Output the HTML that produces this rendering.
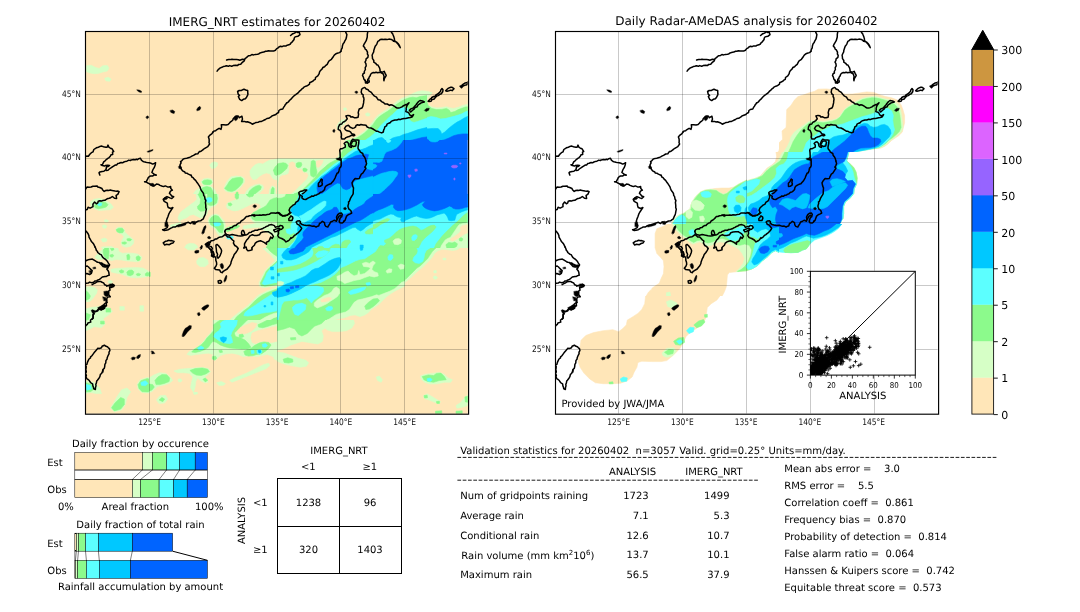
<!DOCTYPE html>
<html lang="en"><head><meta charset="utf-8"><title>IMERG_NRT validation 20260402</title>
<style>html,body{margin:0;padding:0;background:#fff;}body{width:1080px;height:612px;overflow:hidden;}svg{display:block;}text{white-space:pre;}</style>
</head><body>
<svg width="1080" height="612" viewBox="0 0 1080 612" font-family='"DejaVu Sans", "Liberation Sans", sans-serif' fill="#000" text-rendering="geometricPrecision">
<rect x="0.00" y="0.00" width="1080.00" height="612.00" fill="#fff" stroke="none" stroke-width="1"/>
<clipPath id="clipL"><rect x="85.5" y="31.5" width="382.20" height="382.00"/></clipPath>
<g clip-path="url(#clipL)">
<rect x="85.50" y="31.50" width="383.10" height="382.70" fill="#ffe6b8" stroke="none" stroke-width="1"/>
<clipPath id="tc1"><rect x="85.00" y="31.00" width="192.00" height="109.00"/></clipPath>
<g clip-path="url(#tc1)">
<rect x="84.50" y="30.50" width="193.00" height="110.00" fill="#ffe6b8" stroke="none" stroke-width="1"/>
<polygon points="86.4,65.7 91.2,65.2 95.7,67.5 99.2,68.4 102.8,65.7 107.3,65.4 109.0,68.0 107.3,71.1 102.8,72.0 98.4,73.4 93.9,73.7 89.5,72.9 86.4,71.6" fill="#d6ffc6" stroke="#d6ffc6" stroke-width="0.6" stroke-linejoin="round"/>
<polygon points="104.6,78.2 108.2,77.3 111.2,79.1 109.9,81.2 106.0,80.9" fill="#d6ffc6" stroke="#d6ffc6" stroke-width="0.6" stroke-linejoin="round"/>
</g>
<clipPath id="tc2"><rect x="277.00" y="31.00" width="192.00" height="109.00"/></clipPath>
<g clip-path="url(#tc2)">
<rect x="276.50" y="30.50" width="193.00" height="110.00" fill="#ffe6b8" stroke="none" stroke-width="1"/>
<polygon points="469.0,100.8 462.2,101.9 456.9,104.0 452.4,106.7 448.0,107.2 442.6,106.7 437.3,104.9 433.7,101.4 431.1,97.8 428.4,93.3 424.8,91.2 419.5,90.7 414.1,91.2 408.8,93.7 404.3,96.5 399.9,99.6 395.4,102.2 391.9,105.8 387.4,109.4 383.0,112.6 378.5,115.6 375.0,119.2 372.3,122.7 369.6,126.3 366.1,129.8 362.5,132.9 358.0,135.7 353.6,137.9 348.2,140.0 469.0,140.0" fill="#d6ffc6" stroke="#d6ffc6" stroke-width="0.6" stroke-linejoin="round"/>
<polygon points="343.3,107.6 346.5,107.2 347.5,109.4 345.4,110.6 342.9,109.7" fill="#d6ffc6" stroke="#d6ffc6" stroke-width="0.6" stroke-linejoin="round"/>
<polygon points="365.5,113.3 368.7,112.6 370.7,114.4 369.3,116.1 366.1,115.8" fill="#d6ffc6" stroke="#d6ffc6" stroke-width="0.6" stroke-linejoin="round"/>
<polygon points="337.9,123.6 340.8,122.7 342.2,125.0 340.4,127.2 337.9,126.3" fill="#d6ffc6" stroke="#d6ffc6" stroke-width="0.6" stroke-linejoin="round"/>
<polygon points="469.0,106.7 464.0,107.9 458.7,110.3 453.3,112.0 448.0,112.0 442.6,111.5 437.3,110.3 432.8,107.6 429.3,103.7 426.6,99.6 423.0,97.3 418.6,96.5 413.2,96.9 408.8,98.7 404.3,100.8 400.8,103.1 397.2,105.4 393.7,108.5 389.2,111.5 385.6,114.4 381.2,117.4 377.6,120.1 374.6,123.6 372.3,127.2 368.7,130.7 365.2,133.9 360.7,137.0 357.1,139.3 355.4,140.0 469.0,140.0" fill="#8cfa8c" stroke="#8cfa8c" stroke-width="0.6" stroke-linejoin="round"/>
<polygon points="469.0,116.1 464.0,117.4 458.7,118.3 453.3,119.2 448.0,119.2 442.6,118.6 437.3,118.3 432.0,118.6 426.6,120.1 422.2,121.8 417.7,123.6 413.2,124.5 409.7,121.8 407.9,118.3 407.0,113.8 406.1,109.4 401.7,108.5 398.1,109.4 394.5,111.1 391.0,113.8 386.5,116.5 383.0,119.2 379.4,121.8 376.7,125.4 374.1,129.0 370.5,132.5 366.9,136.1 362.5,138.8 360.7,140.0 469.0,140.0" fill="#5cffff" stroke="#5cffff" stroke-width="0.6" stroke-linejoin="round"/>
<polygon points="469.0,126.3 464.0,127.2 458.7,128.1 453.3,129.8 448.9,133.4 445.3,134.3 440.9,130.7 436.4,128.6 430.2,128.1 424.8,128.6 419.5,129.3 414.1,130.7 408.8,132.5 404.3,134.3 399.9,137.0 391.0,136.1 383.9,137.0 378.5,138.8 376.7,140.0 469.0,140.0" fill="#00c8ff" stroke="#00c8ff" stroke-width="0.6" stroke-linejoin="round"/>
<polygon points="469.0,133.4 464.0,134.3 458.7,136.1 454.2,137.9 450.7,140.0 469.0,140.0" fill="#0064ff" stroke="#0064ff" stroke-width="0.6" stroke-linejoin="round"/>
<polygon points="417.7,140.0 420.4,138.2 424.8,137.5 429.3,138.6 431.1,140.0" fill="#0064ff" stroke="#0064ff" stroke-width="0.6" stroke-linejoin="round"/>
</g>
<clipPath id="tc3"><rect x="277.00" y="140.00" width="96.00" height="54.00"/></clipPath>
<g clip-path="url(#tc3)">
<rect x="276.50" y="139.50" width="97.00" height="55.00" fill="#ffe6b8" stroke="none" stroke-width="1"/>
<polygon points="345.4,140.0 344.6,143.6 343.2,147.1 341.0,149.8 339.2,153.3 338.3,157.3 335.7,158.5 326.8,158.8 277.0,158.8 277.0,194.0 373.0,194.0 373.0,140.0" fill="#d6ffc6" stroke="#d6ffc6" stroke-width="0.6" stroke-linejoin="round"/>
<polygon points="279.7,177.3 282.3,175.6 285.9,175.1 288.6,173.8 289.4,170.2 289.0,166.7 289.4,163.1 292.1,161.8 294.8,163.1 295.2,166.7 297.4,168.9 301.9,169.8 303.2,172.4 306.8,173.1 308.1,175.6 306.3,179.1 303.7,181.8 301.0,184.4 298.3,187.1 295.7,189.8 293.0,192.0 290.3,194.0 278.8,194.0 278.3,184.4" fill="#ffe6b8" stroke="#ffe6b8" stroke-width="0.6" stroke-linejoin="round"/>
<polygon points="316.6,160.9 319.7,160.3 323.2,160.0 322.3,163.1 320.6,165.8 318.3,167.6 316.6,166.7 316.1,163.6" fill="#ffe6b8" stroke="#ffe6b8" stroke-width="0.6" stroke-linejoin="round"/>
<polygon points="277.0,164.0 279.7,163.3 283.2,162.7 285.9,163.3 287.8,165.3 286.8,168.4 284.1,171.1 281.4,173.3 278.8,174.7 277.0,174.8" fill="#8cfa8c" stroke="#8cfa8c" stroke-width="0.6" stroke-linejoin="round"/>
<polygon points="296.4,163.3 298.8,162.2 301.4,162.7 301.9,164.9 300.6,167.1 297.9,167.7 296.1,166.2" fill="#8cfa8c" stroke="#8cfa8c" stroke-width="0.6" stroke-linejoin="round"/>
<polygon points="303.0,168.6 305.0,168.0 307.2,169.3 306.8,171.1 304.6,171.8 303.0,170.7" fill="#8cfa8c" stroke="#8cfa8c" stroke-width="0.6" stroke-linejoin="round"/>
<polygon points="311.2,161.3 313.4,160.3 315.2,161.3 315.7,164.9 316.1,168.4 317.0,172.0 316.1,175.6 313.4,177.3 310.8,175.6 310.3,171.1 310.8,166.7" fill="#8cfa8c" stroke="#8cfa8c" stroke-width="0.6" stroke-linejoin="round"/>
<polygon points="347.2,140.0 346.3,143.6 345.4,147.1 343.2,149.8 341.4,153.3 340.1,156.9 337.4,159.1 333.9,160.9 330.3,162.7 327.2,164.9 325.0,167.1 322.3,169.3 319.7,171.6 317.4,174.2 315.2,177.3 312.6,180.0 309.9,182.7 307.2,185.3 304.6,188.0 301.9,190.2 299.2,192.0 295.7,193.3 293.9,194.0 373.0,194.0 373.0,140.0" fill="#8cfa8c" stroke="#8cfa8c" stroke-width="0.6" stroke-linejoin="round"/>
<polygon points="359.2,140.0 358.3,143.6 357.0,147.1 354.3,148.9 351.7,150.7 349.0,152.4 346.3,154.7 344.1,156.9 341.9,159.1 339.2,160.9 336.6,162.7 333.9,164.4 331.2,166.7 328.6,168.9 325.9,171.1 323.2,173.3 320.6,175.6 317.9,178.2 315.2,180.4 312.6,183.1 309.9,185.3 307.2,187.6 304.6,189.8 301.9,191.6 299.2,193.3 297.9,194.0 373.0,194.0 373.0,140.0" fill="#5cffff" stroke="#5cffff" stroke-width="0.6" stroke-linejoin="round"/>
<polygon points="373.0,144.9 369.4,146.2 365.9,148.0 362.3,149.3 358.8,150.2 355.2,151.6 352.6,153.3 349.9,155.1 347.2,156.9 344.6,158.7 342.3,160.9 339.2,163.1 336.6,165.3 333.9,167.1 331.2,169.3 328.6,171.6 325.9,173.8 323.2,175.6 320.6,177.3 317.9,180.0 315.2,182.2 313.0,184.4 310.8,186.7 309.0,188.9 307.2,191.1 305.4,193.3 305.0,194.0 373.0,194.0" fill="#00c8ff" stroke="#00c8ff" stroke-width="0.6" stroke-linejoin="round"/>
<polygon points="368.6,154.7 365.9,154.2 362.3,154.7 358.8,155.1 355.2,156.0 352.6,157.3 349.9,158.2 347.2,159.1 344.6,160.9 341.9,162.7 339.2,164.9 336.6,167.1 333.9,169.3 331.2,171.1 328.6,173.3 325.9,175.1 323.2,177.3 321.0,179.6 318.8,182.2 317.4,184.9 317.0,188.0 317.4,190.7 318.3,194.0 321.4,194.0 324.1,192.0 326.8,190.2 329.4,188.0 332.1,186.2 334.8,184.4 337.4,183.1 340.1,183.6 341.4,186.2 342.8,188.4 346.3,189.8 349.9,188.4 352.6,185.3 353.6,181.8 357.0,179.6 361.4,178.4 365.9,177.3 373.0,175.6 373.0,170.7 370.3,170.2 366.8,169.3 365.0,167.6 365.9,164.9 366.8,161.3 367.7,157.8" fill="#0064ff" stroke="#0064ff" stroke-width="0.6" stroke-linejoin="round"/>
</g>
<clipPath id="tc4"><rect x="373.00" y="140.00" width="96.00" height="54.00"/></clipPath>
<g clip-path="url(#tc4)">
<rect x="372.50" y="139.50" width="97.00" height="55.00" fill="#0064ff" stroke="none" stroke-width="1"/>
<polygon points="373.0,140.0 402.8,140.0 401.4,142.7 399.2,145.3 397.0,147.6 394.3,148.9 391.7,150.2 389.0,151.1 386.3,152.0 384.6,154.2 383.7,156.9 382.8,159.1 381.9,161.3 379.2,162.4 376.6,162.2 373.0,162.2" fill="#00c8ff" stroke="#00c8ff" stroke-width="0.6" stroke-linejoin="round"/>
<polygon points="373.0,164.0 375.7,164.4 377.0,165.8 375.7,167.6 373.0,168.9" fill="#00c8ff" stroke="#00c8ff" stroke-width="0.6" stroke-linejoin="round"/>
<polygon points="386.3,140.0 390.8,140.0 390.3,141.8 388.1,142.7 386.8,141.8" fill="#5cffff" stroke="#5cffff" stroke-width="0.6" stroke-linejoin="round"/>
<polygon points="373.0,177.3 375.7,176.0 378.3,174.7 381.9,173.3 385.4,172.4 389.0,171.6 392.6,171.1 396.1,171.6 397.9,172.9 397.0,175.6 395.2,177.8 393.4,180.4 391.7,182.7 389.4,184.9 387.2,187.1 385.0,189.3 382.8,191.1 380.6,192.9 378.3,194.0 373.0,194.0" fill="#00c8ff" stroke="#00c8ff" stroke-width="0.6" stroke-linejoin="round"/>
<polygon points="429.0,140.0 439.2,140.0 437.9,141.3 435.2,142.0 431.7,141.8 429.9,140.9" fill="#00c8ff" stroke="#00c8ff" stroke-width="0.6" stroke-linejoin="round"/>
<polygon points="444.1,153.2 446.8,153.0 447.0,153.9 444.3,154.0" fill="#9664ff" stroke="#9664ff" stroke-width="0.6" stroke-linejoin="round"/>
<polygon points="451.2,166.2 453.0,165.3 456.1,165.2 457.9,166.2 456.6,167.7 453.9,168.1 451.9,167.4" fill="#9664ff" stroke="#9664ff" stroke-width="0.6" stroke-linejoin="round"/>
<polygon points="459.7,162.9 461.0,162.9 461.0,164.0 459.7,164.0" fill="#9664ff" stroke="#9664ff" stroke-width="0.6" stroke-linejoin="round"/>
<polygon points="414.8,169.2 417.1,169.0 417.3,171.1 415.0,171.3" fill="#9664ff" stroke="#9664ff" stroke-width="0.6" stroke-linejoin="round"/>
<polygon points="407.9,175.1 411.0,174.9 410.8,176.6 409.4,177.9 408.4,176.9" fill="#9664ff" stroke="#9664ff" stroke-width="0.6" stroke-linejoin="round"/>
<polygon points="453.9,178.0 455.0,178.0 455.0,180.0 453.9,180.0" fill="#9664ff" stroke="#9664ff" stroke-width="0.6" stroke-linejoin="round"/>
</g>
<clipPath id="tc5"><rect x="277.00" y="194.00" width="96.00" height="54.00"/></clipPath>
<g clip-path="url(#tc5)">
<rect x="276.50" y="193.50" width="97.00" height="55.00" fill="#5cffff" stroke="none" stroke-width="1"/>
<polygon points="277.0,194.0 298.3,194.0 297.4,198.4 294.8,202.9 292.6,206.4 291.2,209.1 290.3,211.8 291.0,214.4 291.7,217.1 292.1,219.8 291.7,222.4 290.3,225.1 290.3,228.7 292.6,231.3 294.8,234.0 295.7,237.6 293.9,241.1 291.2,243.8 288.6,246.4 286.8,248.0 277.0,248.0" fill="#8cfa8c" stroke="#8cfa8c" stroke-width="0.6" stroke-linejoin="round"/>
<polygon points="277.0,194.0 285.4,194.0 284.6,196.2 281.4,197.6 277.0,197.7" fill="#d6ffc6" stroke="#d6ffc6" stroke-width="0.6" stroke-linejoin="round"/>
<polygon points="285.9,229.6 289.4,228.7 293.0,230.4 293.4,233.1 290.3,234.4 286.8,233.1" fill="#5cffff" stroke="#5cffff" stroke-width="0.6" stroke-linejoin="round"/>
<polygon points="300.1,194.0 298.8,197.6 297.0,201.1 294.3,204.7 292.1,207.3 290.3,210.4 291.7,213.1 294.8,215.3 298.3,216.2 301.0,218.9 300.1,222.4 298.3,226.0 297.4,229.6 298.3,233.1 297.4,236.7 295.7,240.2 293.4,243.8 291.2,246.4 290.3,248.0 310.8,248.0 312.6,246.9 315.2,245.6 317.9,244.2 320.6,242.9 323.2,241.6 325.9,240.2 328.6,238.9 331.2,237.6 333.9,236.7 336.6,235.8 339.2,234.4 341.9,233.1 344.6,231.8 347.2,230.4 349.9,229.1 352.6,227.8 355.2,227.3 357.9,229.6 360.6,230.9 363.2,229.6 365.9,226.9 369.4,224.7 373.0,222.9 373.0,194.0" fill="#00c8ff" stroke="#00c8ff" stroke-width="0.6" stroke-linejoin="round"/>
<polygon points="326.1,201.6 324.1,201.1 321.4,202.4 317.9,204.7 314.3,207.2 310.8,209.8 307.2,211.8 304.6,213.6 301.9,215.3 299.2,216.2 301.0,218.9 300.1,222.4 303.7,222.9 307.2,220.7 310.8,219.3 312.6,216.7 315.2,214.3 317.9,212.2 320.6,210.4 323.2,208.2 325.7,205.6" fill="#5cffff" stroke="#5cffff" stroke-width="0.6" stroke-linejoin="round"/>
<polygon points="373.0,196.2 369.4,198.4 365.9,201.1 364.1,203.8 361.4,205.6 357.9,207.3 354.3,209.6 351.7,211.8 349.0,213.1 346.3,214.0 342.8,214.4 339.2,213.1 338.3,210.0 336.6,207.3 333.9,207.3 332.1,209.6 329.4,210.4 326.8,211.3 324.1,213.1 321.4,215.3 318.8,217.1 316.1,219.3 313.4,221.6 310.8,224.2 308.1,226.9 305.4,229.6 303.2,232.2 302.8,234.9 303.7,237.6 301.9,240.2 299.2,242.9 296.6,245.6 294.8,248.0 304.6,248.0 306.3,246.9 309.0,245.6 311.7,244.2 314.3,242.9 317.0,241.6 319.7,240.2 322.3,238.9 325.0,237.6 327.7,236.2 330.3,234.9 333.0,233.6 335.7,232.2 338.3,230.9 341.0,229.6 343.7,228.2 346.3,226.9 349.0,225.6 351.7,224.2 354.3,222.9 357.0,221.6 359.7,220.7 362.3,219.3 365.0,217.6 367.7,215.8 370.3,214.0 373.0,212.7" fill="#0064ff" stroke="#0064ff" stroke-width="0.6" stroke-linejoin="round"/>
<polygon points="365.0,232.2 367.7,230.0 371.2,228.2 373.0,227.8 373.0,233.6 369.4,234.0 365.9,233.8" fill="#8cfa8c" stroke="#8cfa8c" stroke-width="0.6" stroke-linejoin="round"/>
<polygon points="342.3,242.0 345.4,240.2 349.4,240.0 350.8,242.0 348.1,244.7 346.3,248.0 341.0,248.0 341.4,244.7" fill="#8cfa8c" stroke="#8cfa8c" stroke-width="0.6" stroke-linejoin="round"/>
<polygon points="329.4,248.0 332.1,245.6 335.7,244.2 339.2,244.7 340.6,248.0" fill="#8cfa8c" stroke="#8cfa8c" stroke-width="0.6" stroke-linejoin="round"/>
<polygon points="317.0,248.0 318.8,246.6 322.3,246.4 324.1,248.0" fill="#8cfa8c" stroke="#8cfa8c" stroke-width="0.6" stroke-linejoin="round"/>
<polygon points="360.1,245.1 363.2,245.1 363.2,248.0 360.1,248.0" fill="#00c8ff" stroke="#00c8ff" stroke-width="0.6" stroke-linejoin="round"/>
</g>
<clipPath id="tc6"><rect x="373.00" y="194.00" width="96.00" height="54.00"/></clipPath>
<g clip-path="url(#tc6)">
<rect x="372.50" y="193.50" width="97.00" height="55.00" fill="#5cffff" stroke="none" stroke-width="1"/>
<polygon points="373.0,229.1 373.0,225.1 376.6,223.3 380.1,221.6 383.7,219.8 387.2,218.4 389.9,219.3 388.1,221.1 384.6,222.4 381.0,224.2 377.4,226.9 374.8,228.7" fill="#8cfa8c" stroke="#8cfa8c" stroke-width="0.6" stroke-linejoin="round"/>
<polygon points="384.6,240.2 389.0,238.4 392.6,235.8 396.1,232.2 399.7,229.6 404.1,227.8 408.6,226.7 413.0,226.0 416.6,226.9 419.2,228.7 421.0,230.4 423.7,229.6 427.2,227.3 430.8,225.6 434.3,225.1 436.1,226.9 434.3,229.6 431.7,232.2 429.0,234.4 426.3,236.7 423.7,239.3 421.4,242.0 420.1,244.7 418.3,248.0 378.3,248.0 380.1,245.6 383.7,246.0 386.3,243.8 384.6,242.0" fill="#8cfa8c" stroke="#8cfa8c" stroke-width="0.6" stroke-linejoin="round"/>
<polygon points="411.7,237.6 413.0,235.3 415.7,234.4 417.4,235.8 416.6,238.4 414.3,240.7 412.1,240.2" fill="#5cffff" stroke="#5cffff" stroke-width="0.6" stroke-linejoin="round"/>
<polygon points="393.0,241.1 395.2,238.9 398.8,238.4 401.4,240.2 401.0,243.3 397.9,244.7 394.3,244.2" fill="#d6ffc6" stroke="#d6ffc6" stroke-width="0.6" stroke-linejoin="round"/>
<polygon points="469.0,211.8 465.4,214.0 462.8,216.2 460.1,218.9 457.4,221.6 454.8,223.8 452.1,226.0 449.4,228.7 446.8,231.3 444.1,234.0 441.4,237.1 438.8,240.2 436.1,243.8 434.3,248.0 469.0,248.0" fill="#8cfa8c" stroke="#8cfa8c" stroke-width="0.6" stroke-linejoin="round"/>
<polygon points="469.0,222.4 465.4,223.3 461.9,223.8 459.2,224.7 457.4,226.9 455.7,229.6 453.9,232.2 452.1,234.9 450.3,237.6 447.7,238.4 445.0,240.2 443.2,242.9 441.4,245.6 440.6,248.0 469.0,248.0" fill="#d6ffc6" stroke="#d6ffc6" stroke-width="0.6" stroke-linejoin="round"/>
<polygon points="469.0,224.2 465.4,225.1 461.9,226.0 460.1,227.8 461.0,230.4 459.2,233.1 456.6,234.9 453.9,236.7 451.2,238.4 450.3,240.2 453.0,241.1 456.6,239.3 459.2,237.6 461.9,235.8 464.6,234.0 467.2,233.1 469.0,233.1" fill="#ffe6b8" stroke="#ffe6b8" stroke-width="0.6" stroke-linejoin="round"/>
<polygon points="445.9,244.7 448.6,242.4 452.1,242.9 454.8,242.0 457.4,243.8 456.6,246.4 453.9,248.0 446.8,248.0" fill="#8cfa8c" stroke="#8cfa8c" stroke-width="0.6" stroke-linejoin="round"/>
<polygon points="459.0,238.9 461.0,237.6 463.0,238.9 461.9,241.1 459.7,240.9" fill="#8cfa8c" stroke="#8cfa8c" stroke-width="0.6" stroke-linejoin="round"/>
<polygon points="373.0,221.1 376.6,219.8 380.1,218.9 382.8,217.6 385.4,216.2 388.1,214.9 390.8,214.0 393.4,214.4 395.2,215.8 397.9,217.1 401.4,217.6 400.6,219.8 401.4,221.6 404.1,222.0 405.4,220.2 408.6,218.9 411.2,217.8 413.9,216.7 416.6,216.0 419.2,217.1 422.8,218.0 426.3,218.4 429.9,218.0 433.4,216.7 437.0,214.9 440.6,214.0 444.1,213.1 446.3,214.9 447.7,217.6 448.6,220.2 451.2,220.7 454.8,220.2 455.7,217.1 456.6,214.4 459.2,213.1 461.9,211.8 465.4,210.4 469.0,209.6 469.0,194.0 373.0,194.0" fill="#00c8ff" stroke="#00c8ff" stroke-width="0.6" stroke-linejoin="round"/>
<polygon points="373.0,213.1 375.7,211.3 378.3,210.0 381.9,208.7 385.4,207.3 389.0,205.6 391.7,204.2 393.9,204.7 393.4,207.3 395.2,209.6 397.9,210.7 401.4,210.4 404.1,210.0 407.7,209.1 411.2,207.8 414.8,206.0 417.4,204.7 420.1,202.9 422.8,201.6 425.4,201.1 423.7,202.9 422.3,204.7 423.7,206.9 426.3,208.7 429.9,210.0 434.3,210.9 437.9,210.4 441.4,209.6 445.0,208.2 447.7,206.9 449.4,206.0 451.7,206.9 453.0,208.2 455.7,209.1 459.2,209.1 462.8,208.2 465.4,207.3 469.0,206.9 469.0,194.0 373.0,194.0" fill="#0064ff" stroke="#0064ff" stroke-width="0.6" stroke-linejoin="round"/>
</g>
<clipPath id="tc7"><rect x="277.00" y="248.00" width="128.00" height="72.00"/></clipPath>
<g clip-path="url(#tc7)">
<rect x="276.50" y="247.50" width="129.00" height="73.00" fill="#8cfa8c" stroke="none" stroke-width="1"/>
<polygon points="277.0,248.0 377.7,248.0 375.4,251.6 371.8,253.9 368.3,256.3 364.7,258.7 360.0,259.3 355.2,261.0 350.5,263.4 345.7,265.8 341.0,267.6 338.6,270.5 335.1,274.1 330.3,277.6 325.6,280.0 320.9,282.4 316.1,283.6 311.4,284.7 306.6,287.1 301.9,289.5 297.1,291.9 292.4,294.2 287.7,296.0 282.9,297.2 277.0,298.4" fill="#5cffff" stroke="#5cffff" stroke-width="0.6" stroke-linejoin="round"/>
<polygon points="312.6,248.0 330.3,248.0 329.1,251.6 325.6,255.1 320.9,258.1 316.1,261.0 311.4,263.4 306.6,265.8 300.7,268.1 294.8,269.9 288.9,271.1 282.9,271.7 277.0,272.3 277.0,269.3 282.9,268.1 288.9,267.0 294.8,265.8 300.7,264.0 305.4,261.6 309.0,259.3 312.6,256.3 313.7,252.7" fill="#8cfa8c" stroke="#8cfa8c" stroke-width="0.6" stroke-linejoin="round"/>
<polygon points="315.5,254.5 318.5,251.6 324.4,250.4 328.6,251.6 326.8,254.5 322.0,256.9 317.3,257.5" fill="#5cffff" stroke="#5cffff" stroke-width="0.6" stroke-linejoin="round"/>
<polygon points="277.0,281.8 280.6,281.2 283.9,282.4 282.9,284.7 279.4,285.9 277.0,285.9" fill="#d6ffc6" stroke="#d6ffc6" stroke-width="0.6" stroke-linejoin="round"/>
<polygon points="281.7,255.1 284.1,251.6 287.7,248.0 311.4,248.0 309.0,251.6 305.4,253.9 300.7,256.3 296.0,258.7 291.2,259.9 286.5,259.9 282.9,258.1" fill="#00c8ff" stroke="#00c8ff" stroke-width="0.6" stroke-linejoin="round"/>
<polygon points="288.9,251.6 291.2,249.2 294.8,248.0 305.4,248.0 303.1,251.0 298.3,252.7 293.6,253.9 290.0,253.7" fill="#0064ff" stroke="#0064ff" stroke-width="0.6" stroke-linejoin="round"/>
<polygon points="280.6,261.3 282.9,261.3 282.9,264.0 280.6,264.0" fill="#00c8ff" stroke="#00c8ff" stroke-width="0.6" stroke-linejoin="round"/>
<polygon points="277.6,273.5 279.4,273.5 279.4,275.9 277.6,275.9" fill="#00c8ff" stroke="#00c8ff" stroke-width="0.6" stroke-linejoin="round"/>
<polygon points="277.0,288.9 281.7,286.5 286.5,284.1 291.2,282.4 296.0,280.0 300.7,278.2 305.4,275.9 309.0,272.9 311.4,270.5 314.9,268.7 318.5,268.1 322.0,265.8 325.6,263.4 329.1,261.0 332.7,259.3 336.3,258.1 339.8,257.5 341.0,259.9 340.4,263.4 338.6,267.0 336.3,269.9 332.7,272.9 329.1,275.3 324.4,277.6 319.7,279.4 314.9,281.8 310.2,283.6 305.4,285.9 300.7,288.9 296.0,291.3 291.2,293.6 286.5,295.4 281.7,296.8 277.0,297.5" fill="#00c8ff" stroke="#00c8ff" stroke-width="0.6" stroke-linejoin="round"/>
<polygon points="285.9,289.5 288.9,288.9 290.0,290.7 288.3,292.1 286.2,291.6" fill="#0064ff" stroke="#0064ff" stroke-width="0.6" stroke-linejoin="round"/>
<polygon points="290.0,286.9 293.4,286.5 293.6,288.5 290.6,289.0" fill="#0064ff" stroke="#0064ff" stroke-width="0.6" stroke-linejoin="round"/>
<polygon points="295.4,285.9 298.9,285.7 298.9,287.6 295.6,287.8" fill="#0064ff" stroke="#0064ff" stroke-width="0.6" stroke-linejoin="round"/>
<polygon points="360.0,248.0 362.9,248.0 362.6,250.1 360.6,250.4" fill="#00c8ff" stroke="#00c8ff" stroke-width="0.6" stroke-linejoin="round"/>
<polygon points="387.8,256.9 389.6,254.5 392.6,254.9 393.1,258.1 390.8,260.4 388.4,259.9" fill="#5cffff" stroke="#5cffff" stroke-width="0.6" stroke-linejoin="round"/>
<polygon points="336.9,276.4 341.0,274.7 344.6,272.3 348.1,271.1 350.5,273.5 354.0,275.9 357.6,274.7 358.8,270.5 360.0,274.7 364.7,273.5 368.3,270.5 370.6,268.1 368.3,267.0 363.5,266.4 362.3,263.4 365.9,262.2 369.4,263.4 373.0,261.0 375.4,262.8 373.0,265.8 371.8,269.3 374.2,271.7 377.7,272.9 378.3,275.9 374.2,277.0 369.4,275.9 364.7,277.6 360.0,279.4 354.0,280.6 348.1,282.4 344.6,283.6 341.6,281.2 337.4,280.0" fill="#d6ffc6" stroke="#d6ffc6" stroke-width="0.6" stroke-linejoin="round"/>
<polygon points="386.0,271.1 389.0,268.7 392.0,269.3 391.4,272.3 387.2,273.1" fill="#d6ffc6" stroke="#d6ffc6" stroke-width="0.6" stroke-linejoin="round"/>
<polygon points="397.9,265.8 400.9,264.0 404.4,265.2 403.8,268.7 400.3,269.3" fill="#d6ffc6" stroke="#d6ffc6" stroke-width="0.6" stroke-linejoin="round"/>
<polygon points="314.3,303.1 317.3,300.1 320.9,297.8 324.4,295.4 328.0,294.2 331.5,291.9 333.9,288.3 336.3,287.1 339.2,288.9 339.8,293.0 337.4,296.6 333.9,299.0 330.3,301.3 326.8,303.7 322.0,306.1 317.3,307.9 314.3,306.1" fill="#d6ffc6" stroke="#d6ffc6" stroke-width="0.6" stroke-linejoin="round"/>
<polygon points="320.9,300.1 324.4,298.4 329.1,297.2 331.5,298.4 329.1,300.7 324.4,301.9 321.4,301.9" fill="#ffe6b8" stroke="#ffe6b8" stroke-width="0.6" stroke-linejoin="round"/>
<polygon points="405.0,281.2 401.4,282.4 397.9,285.9 394.3,288.9 389.6,291.3 383.7,293.6 378.9,295.4 376.6,294.8 371.8,296.6 367.1,297.8 362.3,299.0 357.6,300.1 354.0,302.5 351.7,306.1 349.3,309.6 345.7,312.0 341.0,313.2 336.3,314.4 332.7,316.7 329.1,319.1 326.8,320.1 405.0,320.1" fill="#d6ffc6" stroke="#d6ffc6" stroke-width="0.6" stroke-linejoin="round"/>
<polygon points="405.0,286.5 400.3,288.9 395.5,291.3 390.8,294.2 386.0,297.8 382.5,301.3 378.9,304.9 375.4,307.3 371.8,309.6 368.3,313.2 364.7,315.6 360.0,317.3 355.2,315.6 350.5,316.1 345.7,317.9 341.0,319.1 336.3,320.1 405.0,320.1" fill="#ffe6b8" stroke="#ffe6b8" stroke-width="0.6" stroke-linejoin="round"/>
<polygon points="364.7,306.1 368.3,302.5 373.0,299.0 377.7,298.4 379.5,300.7 376.6,303.7 373.0,306.7 369.4,309.0 365.9,309.6" fill="#8cfa8c" stroke="#8cfa8c" stroke-width="0.6" stroke-linejoin="round"/>
<polygon points="348.1,292.4 351.7,290.1 356.4,288.9 361.1,287.7 365.9,287.1 364.7,289.5 360.0,291.9 355.2,293.6 350.5,294.5" fill="#5cffff" stroke="#5cffff" stroke-width="0.6" stroke-linejoin="round"/>
<polygon points="325.6,308.4 328.6,306.3 332.1,306.7 332.7,309.0 330.3,310.8 326.8,310.6" fill="#5cffff" stroke="#5cffff" stroke-width="0.6" stroke-linejoin="round"/>
<polygon points="365.9,283.0 370.0,282.4 370.6,285.0 367.1,285.9" fill="#5cffff" stroke="#5cffff" stroke-width="0.6" stroke-linejoin="round"/>
<polygon points="277.0,298.4 282.9,297.2 287.7,296.0 292.4,294.2 297.1,291.9 301.9,289.5 306.6,287.1 311.4,285.9 317.3,285.9 323.2,287.7 323.8,291.3 320.9,294.8 317.3,297.8 313.7,300.1 311.4,303.1 309.0,300.1 306.6,297.8 303.1,299.0 298.3,300.1 293.6,300.1 288.9,300.7 284.1,301.3 281.7,304.9 280.6,309.6 279.4,314.4 278.2,320.1 277.0,320.1" fill="#5cffff" stroke="#5cffff" stroke-width="0.6" stroke-linejoin="round"/>
<polygon points="292.4,307.3 296.0,304.3 301.9,303.1 306.0,304.9 305.4,309.6 301.9,312.6 298.3,315.6 294.8,314.4 293.0,310.8" fill="#5cffff" stroke="#5cffff" stroke-width="0.6" stroke-linejoin="round"/>
</g>
<clipPath id="tc8"><rect x="405.00" y="248.00" width="64.00" height="72.00"/></clipPath>
<g clip-path="url(#tc8)">
<rect x="404.50" y="247.50" width="65.00" height="73.00" fill="#ffe6b8" stroke="none" stroke-width="1"/>
<polygon points="405.0,248.0 459.5,248.0 457.1,249.8 452.4,250.4 447.7,249.8 442.9,249.2 438.2,250.4 434.6,253.3 432.3,256.9 429.9,259.9 426.3,263.4 422.8,267.0 419.2,269.9 415.7,272.9 412.1,276.4 408.6,279.4 405.0,282.4 402.6,284.7 402.6,248.0" fill="#d6ffc6" stroke="#d6ffc6" stroke-width="0.6" stroke-linejoin="round"/>
<polygon points="402.6,248.0 435.8,248.0 432.3,251.6 429.9,255.1 427.5,258.7 424.0,262.2 420.4,265.8 416.9,268.1 413.3,271.7 409.7,275.3 406.2,278.8 402.6,281.2" fill="#8cfa8c" stroke="#8cfa8c" stroke-width="0.6" stroke-linejoin="round"/>
<polygon points="416.9,248.0 429.9,248.0 426.3,250.4 424.6,253.9 424.0,258.1 422.8,261.6 419.2,263.4 415.1,262.8 412.7,260.4 413.9,256.9 416.9,253.9 418.0,251.0" fill="#5cffff" stroke="#5cffff" stroke-width="0.6" stroke-linejoin="round"/>
<polygon points="433.4,276.4 435.8,275.9 437.6,277.6 435.8,279.4 433.7,278.6" fill="#d6ffc6" stroke="#d6ffc6" stroke-width="0.6" stroke-linejoin="round"/>
<polygon points="433.7,270.8 436.2,270.5 436.4,272.7 434.0,272.9" fill="#d6ffc6" stroke="#d6ffc6" stroke-width="0.6" stroke-linejoin="round"/>
<polygon points="442.9,258.3 445.9,258.1 445.9,259.9 443.2,259.9" fill="#d6ffc6" stroke="#d6ffc6" stroke-width="0.6" stroke-linejoin="round"/>
</g>
<clipPath id="tc9"><rect x="277.00" y="320.00" width="192.00" height="109.00"/></clipPath>
<g clip-path="url(#tc9)">
<rect x="276.50" y="319.50" width="193.00" height="110.00" fill="#ffe6b8" stroke="none" stroke-width="1"/>
<polygon points="277.0,320.0 353.6,320.0 354.5,323.6 351.8,328.0 346.5,330.7 339.3,331.6 332.2,331.6 326.9,329.8 325.1,328.0 321.5,330.7 323.3,336.0 322.4,341.4 318.0,344.0 312.6,343.2 307.3,342.3 301.9,341.4 296.6,343.2 291.2,344.9 285.9,347.6 280.6,349.4 277.0,350.3" fill="#d6ffc6" stroke="#d6ffc6" stroke-width="0.6" stroke-linejoin="round"/>
<polygon points="277.0,320.0 325.1,320.0 321.5,323.6 314.4,326.2 310.8,329.8 307.3,333.4 301.9,336.0 298.4,334.2 294.8,328.9 289.5,327.1 284.1,328.9 277.0,330.7" fill="#8cfa8c" stroke="#8cfa8c" stroke-width="0.6" stroke-linejoin="round"/>
<polygon points="290.4,337.8 295.7,337.5 295.7,339.6 290.9,339.9" fill="#8cfa8c" stroke="#8cfa8c" stroke-width="0.6" stroke-linejoin="round"/>
<polygon points="277.0,352.1 284.1,352.9 291.2,355.6 298.4,358.3 305.5,360.1 308.7,362.7 306.4,366.3 300.2,367.2 293.0,366.0 285.9,364.5 280.6,362.7 277.0,361.0" fill="#d6ffc6" stroke="#d6ffc6" stroke-width="0.6" stroke-linejoin="round"/>
<polygon points="283.2,359.2 287.7,357.8 292.7,359.2 293.0,361.9 288.6,363.1 284.1,362.4" fill="#8cfa8c" stroke="#8cfa8c" stroke-width="0.6" stroke-linejoin="round"/>
<polygon points="376.2,377.0 379.4,376.1 382.4,379.7 381.2,382.3 377.6,380.6" fill="#d6ffc6" stroke="#d6ffc6" stroke-width="0.6" stroke-linejoin="round"/>
<polygon points="420.4,376.1 424.8,374.3 432.0,373.4 439.1,372.5 444.4,374.3 448.0,377.9 452.4,379.7 450.7,382.3 444.4,382.3 437.3,383.8 430.2,384.1 424.8,382.3 421.6,379.7" fill="#d6ffc6" stroke="#d6ffc6" stroke-width="0.6" stroke-linejoin="round"/>
<polygon points="422.2,376.6 428.4,374.9 433.7,375.6 436.4,373.4 440.9,373.1 444.4,376.6 446.2,379.7 439.1,380.6 433.7,382.3 427.5,381.4 423.9,379.7" fill="#8cfa8c" stroke="#8cfa8c" stroke-width="0.6" stroke-linejoin="round"/>
<polygon points="427.0,378.8 430.2,377.9 432.3,379.7 430.2,381.4 427.5,381.1" fill="#5cffff" stroke="#5cffff" stroke-width="0.6" stroke-linejoin="round"/>
<polygon points="423.4,395.7 427.5,393.9 432.0,396.6 436.4,399.3 440.5,401.6 439.4,403.7 434.6,402.3 429.3,400.1 424.8,398.7" fill="#d6ffc6" stroke="#d6ffc6" stroke-width="0.6" stroke-linejoin="round"/>
<polygon points="424.1,395.5 427.1,395.2 427.5,397.7 424.5,398.0" fill="#8cfa8c" stroke="#8cfa8c" stroke-width="0.6" stroke-linejoin="round"/>
<polygon points="436.4,401.6 439.4,401.2 439.4,403.4 436.8,403.4" fill="#8cfa8c" stroke="#8cfa8c" stroke-width="0.6" stroke-linejoin="round"/>
<polygon points="467.9,394.8 464.0,398.4 460.4,402.8 456.0,405.5 456.9,408.2 462.2,407.3 467.9,405.5" fill="#d6ffc6" stroke="#d6ffc6" stroke-width="0.6" stroke-linejoin="round"/>
<polygon points="464.9,396.9 467.9,396.2 467.9,402.3 465.4,401.9" fill="#8cfa8c" stroke="#8cfa8c" stroke-width="0.6" stroke-linejoin="round"/>
<polygon points="435.5,411.2 441.7,410.8 441.7,413.9 435.5,413.9" fill="#8cfa8c" stroke="#8cfa8c" stroke-width="0.6" stroke-linejoin="round"/>
<polygon points="456.0,411.2 462.2,410.8 462.2,413.9 456.0,413.9" fill="#8cfa8c" stroke="#8cfa8c" stroke-width="0.6" stroke-linejoin="round"/>
</g>
<clipPath id="tc10"><rect x="181.00" y="140.00" width="96.00" height="54.00"/></clipPath>
<g clip-path="url(#tc10)">
<rect x="180.50" y="139.50" width="97.00" height="55.00" fill="#ffe6b8" stroke="none" stroke-width="1"/>
<polygon points="209.6,165.3 211.7,162.7 214.8,161.8 217.6,162.9 217.3,165.8 215.2,168.0 211.7,168.4" fill="#d6ffc6" stroke="#d6ffc6" stroke-width="0.6" stroke-linejoin="round"/>
<polygon points="250.3,175.6 249.9,171.1 252.1,167.6 255.7,164.4 259.2,163.3 262.8,164.0 266.3,161.8 269.9,160.0 273.4,159.6 277.0,159.1 277.0,180.0 273.4,179.1 269.9,173.8 266.3,172.9 262.8,174.2 259.2,176.4 256.6,179.1 253.0,179.6" fill="#d6ffc6" stroke="#d6ffc6" stroke-width="0.6" stroke-linejoin="round"/>
<polygon points="273.4,170.2 275.2,166.7 277.0,165.3 277.0,175.6 274.8,174.7" fill="#8cfa8c" stroke="#8cfa8c" stroke-width="0.6" stroke-linejoin="round"/>
<polygon points="224.1,188.4 225.4,184.4 228.1,180.0 230.8,176.9 236.1,176.0 241.4,176.4 244.3,178.2 244.6,181.8 242.3,185.3 239.7,188.4 236.1,191.1 232.6,192.4 228.1,192.0 225.0,190.7" fill="#d6ffc6" stroke="#d6ffc6" stroke-width="0.6" stroke-linejoin="round"/>
<polygon points="224.6,188.4 227.2,184.9 229.4,181.3 232.1,178.7 236.1,177.8 240.6,177.3 243.0,179.1 242.8,182.2 240.6,185.3 237.9,188.0 235.2,190.2 231.7,191.6 227.7,190.8" fill="#8cfa8c" stroke="#8cfa8c" stroke-width="0.6" stroke-linejoin="round"/>
<polygon points="201.0,181.8 203.2,179.1 207.7,178.2 211.7,179.1 213.0,181.8 211.7,184.9 207.7,185.8 203.2,185.3" fill="#d6ffc6" stroke="#d6ffc6" stroke-width="0.6" stroke-linejoin="round"/>
<polygon points="202.2,181.8 204.1,180.2 207.7,179.8 211.2,180.4 211.9,182.7 210.3,184.4 206.8,184.9 203.2,184.0" fill="#8cfa8c" stroke="#8cfa8c" stroke-width="0.6" stroke-linejoin="round"/>
<polygon points="193.4,194.0 195.2,191.1 198.8,188.4 202.3,186.2 206.8,185.3 211.2,186.2 214.8,189.8 216.6,194.0" fill="#d6ffc6" stroke="#d6ffc6" stroke-width="0.6" stroke-linejoin="round"/>
<polygon points="198.8,194.0 200.1,190.7 202.8,187.6 206.8,186.4 210.8,187.6 212.6,190.7 213.9,194.0" fill="#8cfa8c" stroke="#8cfa8c" stroke-width="0.6" stroke-linejoin="round"/>
<polygon points="245.0,194.0 246.8,190.7 250.3,187.1 254.8,184.9 259.2,184.0 262.8,185.3 263.7,188.4 261.0,191.6 258.3,194.0" fill="#d6ffc6" stroke="#d6ffc6" stroke-width="0.6" stroke-linejoin="round"/>
<polygon points="248.1,194.0 249.4,191.1 252.1,188.4 255.7,186.2 259.2,185.2 261.4,186.7 260.6,189.3 257.4,192.0 254.8,194.0" fill="#8cfa8c" stroke="#8cfa8c" stroke-width="0.6" stroke-linejoin="round"/>
<polygon points="269.0,194.0 269.9,188.9 272.1,185.8 275.2,187.1 275.7,194.0" fill="#d6ffc6" stroke="#d6ffc6" stroke-width="0.6" stroke-linejoin="round"/>
<polygon points="270.8,194.0 271.2,189.8 272.6,187.1 274.2,188.4 273.9,194.0" fill="#8cfa8c" stroke="#8cfa8c" stroke-width="0.6" stroke-linejoin="round"/>
<polygon points="235.9,194.0 236.3,192.3 237.9,192.0 238.1,194.0" fill="#8cfa8c" stroke="#8cfa8c" stroke-width="0.6" stroke-linejoin="round"/>
</g>
<clipPath id="tc11"><rect x="181.00" y="194.00" width="96.00" height="54.00"/></clipPath>
<g clip-path="url(#tc11)">
<rect x="180.50" y="193.50" width="97.00" height="55.00" fill="#ffe6b8" stroke="none" stroke-width="1"/>
<polygon points="196.1,194.0 218.3,194.0 218.8,198.4 217.9,202.9 215.7,205.6 211.2,207.3 207.7,210.9 206.8,214.4 204.1,217.1 200.6,218.0 197.0,216.2 193.4,214.4 189.9,215.3 186.3,218.0 181.0,219.8 181.0,211.8 184.6,209.1 188.1,206.4 191.7,203.8 194.3,202.0 197.0,199.3" fill="#d6ffc6" stroke="#d6ffc6" stroke-width="0.6" stroke-linejoin="round"/>
<polygon points="197.9,194.0 205.0,194.0 205.9,199.3 206.8,204.7 207.2,209.1 204.1,210.9 200.6,211.3 197.9,209.1 197.4,206.4 200.1,203.8 200.6,199.3" fill="#8cfa8c" stroke="#8cfa8c" stroke-width="0.6" stroke-linejoin="round"/>
<polygon points="207.7,194.0 216.6,194.0 217.4,198.4 216.6,202.9 213.9,205.1 210.3,205.6 207.7,204.7 206.8,199.3" fill="#8cfa8c" stroke="#8cfa8c" stroke-width="0.6" stroke-linejoin="round"/>
<polygon points="206.3,198.4 208.6,197.6 211.7,198.0 212.1,201.1 209.4,202.4 206.8,202.0" fill="#5cffff" stroke="#5cffff" stroke-width="0.6" stroke-linejoin="round"/>
<polygon points="208.1,220.7 209.4,217.1 212.1,214.9 215.7,214.0 219.2,215.3 221.9,218.4 224.6,221.6 225.4,225.1 225.0,229.6 223.7,234.0 222.8,238.4 219.2,235.8 216.6,232.2 214.8,228.7 212.1,226.9 209.4,225.1" fill="#d6ffc6" stroke="#d6ffc6" stroke-width="0.6" stroke-linejoin="round"/>
<polygon points="209.4,220.7 211.2,217.6 214.8,215.3 218.3,216.2 220.6,219.3 222.8,222.4 223.7,226.0 223.2,229.6 222.3,233.1 219.2,232.2 216.6,228.7 213.9,226.4 210.8,224.7" fill="#8cfa8c" stroke="#8cfa8c" stroke-width="0.6" stroke-linejoin="round"/>
<polygon points="213.4,222.9 216.6,222.4 220.1,222.9 221.0,224.7 218.3,226.0 214.8,226.0" fill="#5cffff" stroke="#5cffff" stroke-width="0.6" stroke-linejoin="round"/>
<polygon points="234.3,194.0 277.0,194.0 277.0,238.4 273.4,236.7 268.1,233.1 261.0,227.8 255.7,223.3 252.1,220.7 250.3,218.0 251.2,214.4 254.8,211.8 258.3,209.1 261.0,206.4 259.2,203.8 255.7,202.9 252.1,203.8 248.6,205.6 245.0,207.3 241.4,209.1 237.9,210.4 234.3,210.9 230.8,210.0 227.2,208.2 226.3,205.6 227.7,202.9 230.8,201.6 234.3,200.2 237.9,199.3 236.1,196.7" fill="#d6ffc6" stroke="#d6ffc6" stroke-width="0.6" stroke-linejoin="round"/>
<polygon points="277.0,197.6 273.4,198.4 269.9,200.2 268.1,202.9 266.3,205.6 263.7,207.3 260.1,209.1 256.6,210.9 253.0,212.7 251.2,215.3 252.1,218.9 255.7,220.7 261.0,220.7 266.3,221.1 271.7,221.6 277.0,221.6" fill="#8cfa8c" stroke="#8cfa8c" stroke-width="0.6" stroke-linejoin="round"/>
<polygon points="235.2,194.0 238.8,194.0 238.3,198.4 236.6,199.3 235.2,197.6" fill="#8cfa8c" stroke="#8cfa8c" stroke-width="0.6" stroke-linejoin="round"/>
<polygon points="246.3,194.0 253.9,194.0 253.0,196.2 249.4,197.1 247.2,195.8" fill="#8cfa8c" stroke="#8cfa8c" stroke-width="0.6" stroke-linejoin="round"/>
<polygon points="228.1,203.3 230.8,202.9 232.1,204.7 230.3,206.0 228.6,205.4" fill="#8cfa8c" stroke="#8cfa8c" stroke-width="0.6" stroke-linejoin="round"/>
<polygon points="266.3,248.0 267.7,243.8 269.9,240.2 273.4,237.6 277.0,235.8 277.0,248.0" fill="#8cfa8c" stroke="#8cfa8c" stroke-width="0.6" stroke-linejoin="round"/>
<polygon points="243.2,226.0 248.6,224.7 253.9,223.8 259.2,223.3 264.6,223.8 269.9,224.2 277.0,225.1 277.0,228.7 269.9,228.2 264.6,227.8 259.2,227.3 253.9,227.6 248.6,228.2 243.2,228.7" fill="#d6ffc6" stroke="#d6ffc6" stroke-width="0.6" stroke-linejoin="round"/>
<polygon points="224.6,229.6 227.2,227.8 230.8,226.4 234.3,225.1 237.9,224.7 239.7,226.0 237.9,227.8 234.3,229.1 230.8,230.4 227.2,231.8" fill="#8cfa8c" stroke="#8cfa8c" stroke-width="0.6" stroke-linejoin="round"/>
<polygon points="225.9,235.8 229.0,235.3 232.6,236.2 233.4,238.0 230.8,239.3 227.2,238.9" fill="#5cffff" stroke="#5cffff" stroke-width="0.6" stroke-linejoin="round"/>
<polygon points="184.6,248.0 186.3,244.7 189.9,243.3 194.3,243.8 197.0,245.6 197.9,248.0" fill="#d6ffc6" stroke="#d6ffc6" stroke-width="0.6" stroke-linejoin="round"/>
</g>
<clipPath id="tc12"><rect x="149.00" y="248.00" width="128.00" height="72.00"/></clipPath>
<g clip-path="url(#tc12)">
<rect x="148.50" y="247.50" width="129.00" height="73.00" fill="#ffe6b8" stroke="none" stroke-width="1"/>
<polygon points="196.6,261.0 198.8,258.1 203.5,257.5 207.7,259.9 208.3,264.0 204.7,266.7 200.0,266.4 197.0,264.0" fill="#d6ffc6" stroke="#d6ffc6" stroke-width="0.6" stroke-linejoin="round"/>
<polygon points="185.7,248.0 196.4,248.0 194.0,250.1 188.1,249.8" fill="#d6ffc6" stroke="#d6ffc6" stroke-width="0.6" stroke-linejoin="round"/>
<polygon points="149.0,271.7 150.2,272.3 150.2,276.4 149.0,276.4" fill="#8cfa8c" stroke="#8cfa8c" stroke-width="0.6" stroke-linejoin="round"/>
<polygon points="262.8,248.0 277.0,248.0 277.0,263.4 274.6,259.9 271.1,255.1 266.3,251.6" fill="#d6ffc6" stroke="#d6ffc6" stroke-width="0.6" stroke-linejoin="round"/>
<polygon points="267.5,248.0 277.0,248.0 277.0,256.3 273.4,253.9 269.9,251.0" fill="#8cfa8c" stroke="#8cfa8c" stroke-width="0.6" stroke-linejoin="round"/>
<polygon points="277.0,259.3 273.4,262.2 268.7,267.0 265.1,270.5 263.4,274.1 261.0,278.8 259.2,282.4 259.2,285.9 262.8,287.7 267.5,287.1 272.3,286.5 277.0,285.9" fill="#d6ffc6" stroke="#d6ffc6" stroke-width="0.6" stroke-linejoin="round"/>
<polygon points="277.0,261.0 274.0,264.0 269.9,267.6 266.3,271.1 264.6,274.7 262.2,279.4 260.4,283.0 261.0,285.7 265.1,286.2 269.9,285.7 277.0,284.7" fill="#8cfa8c" stroke="#8cfa8c" stroke-width="0.6" stroke-linejoin="round"/>
<polygon points="277.0,262.8 273.4,265.8 269.9,269.3 266.9,272.9 265.7,276.4 264.0,280.0 262.2,283.6 264.6,285.0 268.7,284.1 273.4,283.0 277.0,282.4" fill="#5cffff" stroke="#5cffff" stroke-width="0.6" stroke-linejoin="round"/>
<polygon points="270.5,267.0 273.4,267.0 273.4,269.9 270.5,269.9" fill="#00c8ff" stroke="#00c8ff" stroke-width="0.6" stroke-linejoin="round"/>
<polygon points="271.1,276.7 274.0,276.7 274.0,279.1 271.1,279.1" fill="#00c8ff" stroke="#00c8ff" stroke-width="0.6" stroke-linejoin="round"/>
<polygon points="277.0,287.7 272.3,288.9 267.5,290.7 262.8,293.0 258.0,295.4 254.5,299.0 250.9,302.5 247.4,306.1 242.6,309.6 237.9,313.2 234.3,316.1 230.8,319.1 229.6,320.1 277.0,320.1" fill="#d6ffc6" stroke="#d6ffc6" stroke-width="0.6" stroke-linejoin="round"/>
<polygon points="277.0,288.9 272.3,290.7 267.5,292.4 262.8,294.8 259.2,297.2 255.7,300.1 252.1,303.7 248.6,307.3 243.8,310.8 240.3,313.8 236.7,316.7 234.3,320.1 277.0,320.1" fill="#8cfa8c" stroke="#8cfa8c" stroke-width="0.6" stroke-linejoin="round"/>
<polygon points="277.0,291.9 273.4,293.6 269.9,295.4 266.3,297.8 262.8,300.1 259.2,302.5 255.7,304.9 252.1,307.3 248.6,309.6 245.0,312.6 243.8,315.6 247.4,316.1 252.1,315.6 256.9,314.4 261.6,313.2 266.3,312.6 271.1,312.0 277.0,310.8" fill="#5cffff" stroke="#5cffff" stroke-width="0.6" stroke-linejoin="round"/>
<polygon points="272.3,292.4 277.0,290.7 277.0,296.6 274.6,296.6 272.9,294.8" fill="#00c8ff" stroke="#00c8ff" stroke-width="0.6" stroke-linejoin="round"/>
<polygon points="271.1,301.9 272.9,301.9 272.9,304.9 271.1,304.9" fill="#00c8ff" stroke="#00c8ff" stroke-width="0.6" stroke-linejoin="round"/>
<polygon points="264.0,305.5 265.7,305.5 265.7,307.0 264.0,307.0" fill="#00c8ff" stroke="#00c8ff" stroke-width="0.6" stroke-linejoin="round"/>
<polygon points="260.4,320.1 265.1,317.3 269.9,315.0 274.6,313.2 277.0,312.9 277.0,316.7 273.4,317.9 269.9,320.1" fill="#d6ffc6" stroke="#d6ffc6" stroke-width="0.6" stroke-linejoin="round"/>
</g>
<clipPath id="tc13"><rect x="149.00" y="320.00" width="128.00" height="72.00"/></clipPath>
<g clip-path="url(#tc13)">
<rect x="148.50" y="319.50" width="129.00" height="73.00" fill="#ffe6b8" stroke="none" stroke-width="1"/>
<polygon points="213.0,320.0 277.0,320.0 277.0,359.1 273.4,356.7 267.5,354.4 261.6,355.6 255.7,356.7 249.7,355.6 243.8,356.7 237.9,354.4 232.0,353.2 226.0,353.8 220.1,355.6 215.4,360.3 211.8,359.1 213.0,354.4 208.3,353.2 202.3,353.8 196.4,354.4 190.5,355.6 186.9,354.4 189.3,351.4 194.0,349.0 197.6,346.7 201.1,343.7 204.7,340.1 207.1,336.6 210.6,333.0 213.0,328.3 213.0,323.6" fill="#d6ffc6" stroke="#d6ffc6" stroke-width="0.6" stroke-linejoin="round"/>
<polygon points="241.4,327.1 246.2,324.7 252.1,322.4 256.9,323.6 255.7,327.1 252.1,330.7 247.4,333.0 242.6,334.2 237.9,333.0 236.7,330.1" fill="#ffe6b8" stroke="#ffe6b8" stroke-width="0.6" stroke-linejoin="round"/>
<polygon points="252.1,333.0 258.0,330.7 265.1,328.9 272.3,327.1 277.0,326.5 277.0,341.3 272.3,342.5 266.3,341.9 261.6,341.3 255.7,343.7 252.1,342.5 250.9,337.8" fill="#ffe6b8" stroke="#ffe6b8" stroke-width="0.6" stroke-linejoin="round"/>
<polygon points="213.6,324.7 216.6,322.4 220.1,320.0 247.4,320.0 243.8,323.6 240.3,327.1 236.7,330.7 234.3,333.0 235.5,336.6 240.3,337.8 245.0,340.1 248.6,343.7 250.9,347.3 247.4,349.0 241.4,349.0 235.5,348.4 229.6,347.9 224.9,346.7 220.1,344.9 216.6,342.5 213.0,341.3 210.6,343.7 208.3,347.3 204.7,349.6 200.0,351.4 195.2,352.6 191.7,352.0 194.0,349.6 197.6,347.3 201.1,344.9 204.7,341.3 207.1,337.8 210.6,334.2 213.6,330.7" fill="#8cfa8c" stroke="#8cfa8c" stroke-width="0.6" stroke-linejoin="round"/>
<polygon points="258.0,324.7 262.8,322.4 267.5,320.0 277.0,320.0 277.0,323.6 272.3,324.7 267.5,326.5 262.8,327.7 258.6,327.1" fill="#8cfa8c" stroke="#8cfa8c" stroke-width="0.6" stroke-linejoin="round"/>
<polygon points="254.5,345.5 259.2,343.1 264.0,341.9 268.7,342.5 271.1,344.9 268.7,348.4 265.1,351.4 261.6,353.8 256.9,354.4 253.3,355.6 248.6,356.1 245.0,355.0 243.8,351.4 247.4,349.6 250.9,348.4" fill="#8cfa8c" stroke="#8cfa8c" stroke-width="0.6" stroke-linejoin="round"/>
<polygon points="239.1,334.8 242.6,334.0 243.8,336.6 241.4,337.8 239.3,337.2" fill="#8cfa8c" stroke="#8cfa8c" stroke-width="0.6" stroke-linejoin="round"/>
<polygon points="212.4,356.7 215.4,356.1 216.8,358.2 214.8,360.1 212.4,359.1" fill="#8cfa8c" stroke="#8cfa8c" stroke-width="0.6" stroke-linejoin="round"/>
<polygon points="218.9,350.6 221.9,350.2 222.5,352.2 219.9,352.7" fill="#8cfa8c" stroke="#8cfa8c" stroke-width="0.6" stroke-linejoin="round"/>
<polygon points="220.1,323.6 222.5,321.2 226.0,320.0 237.3,320.0 236.7,324.7 234.3,328.3 232.0,331.9 230.8,335.4 232.0,339.0 232.6,342.5 229.6,343.7 224.9,343.1 220.1,341.3 216.6,339.0 213.6,336.6 215.4,333.0 218.9,330.7 221.3,327.1" fill="#5cffff" stroke="#5cffff" stroke-width="0.6" stroke-linejoin="round"/>
<polygon points="197.6,347.9 201.1,346.1 204.1,347.9 202.3,349.6 198.8,349.9" fill="#5cffff" stroke="#5cffff" stroke-width="0.6" stroke-linejoin="round"/>
<polygon points="262.2,344.3 265.7,343.5 267.5,345.5 265.7,347.3 262.8,347.0" fill="#5cffff" stroke="#5cffff" stroke-width="0.6" stroke-linejoin="round"/>
<polygon points="250.9,350.6 253.9,350.2 254.2,353.2 251.5,353.8" fill="#5cffff" stroke="#5cffff" stroke-width="0.6" stroke-linejoin="round"/>
<polygon points="256.9,350.2 261.0,349.6 262.2,352.0 259.8,354.4 257.1,353.2" fill="#5cffff" stroke="#5cffff" stroke-width="0.6" stroke-linejoin="round"/>
<polygon points="220.1,337.8 223.1,336.8 226.6,337.8 226.0,340.4 223.7,342.8 221.1,340.7" fill="#00c8ff" stroke="#00c8ff" stroke-width="0.6" stroke-linejoin="round"/>
<polygon points="258.0,350.6 260.4,350.2 261.0,352.2 259.0,352.9" fill="#00c8ff" stroke="#00c8ff" stroke-width="0.6" stroke-linejoin="round"/>
<polygon points="173.9,371.0 179.8,369.2 186.9,368.6 194.0,368.0 202.3,367.4 208.3,368.6 210.6,371.6 208.3,374.5 204.7,376.9 207.1,379.9 208.3,382.2 204.7,382.8 201.1,381.0 197.6,378.1 195.8,381.6 195.2,386.4 194.0,391.1 193.4,392.1 190.5,387.6 191.7,381.6 192.9,376.9 189.3,373.3 183.4,372.7 177.4,372.7" fill="#d6ffc6" stroke="#d6ffc6" stroke-width="0.6" stroke-linejoin="round"/>
<polygon points="189.9,370.4 195.2,368.6 202.3,368.0 207.7,369.2 209.4,371.6 205.9,373.9 201.1,375.5 196.4,375.1 192.9,373.3" fill="#8cfa8c" stroke="#8cfa8c" stroke-width="0.6" stroke-linejoin="round"/>
<polygon points="202.9,379.3 205.3,378.1 207.7,380.2 205.3,381.9" fill="#8cfa8c" stroke="#8cfa8c" stroke-width="0.6" stroke-linejoin="round"/>
<polygon points="149.0,378.1 153.7,375.1 159.7,372.7 165.6,373.3 170.3,376.9 172.7,380.4 169.1,383.4 163.2,385.2 157.3,386.4 153.7,389.9 151.4,392.1 149.0,392.1" fill="#d6ffc6" stroke="#d6ffc6" stroke-width="0.6" stroke-linejoin="round"/>
<polygon points="154.9,380.4 157.9,376.9 162.0,374.5 166.8,374.8 169.7,378.1 169.1,381.6 164.4,383.4 159.7,384.6 156.1,384.6" fill="#8cfa8c" stroke="#8cfa8c" stroke-width="0.6" stroke-linejoin="round"/>
<polygon points="149.0,384.0 152.6,384.6 154.3,387.0 152.0,389.9 149.0,391.1" fill="#8cfa8c" stroke="#8cfa8c" stroke-width="0.6" stroke-linejoin="round"/>
<polygon points="178.0,379.3 180.4,378.7 182.2,380.4 180.4,382.2 178.4,381.4" fill="#d6ffc6" stroke="#d6ffc6" stroke-width="0.6" stroke-linejoin="round"/>
<polygon points="229.6,380.4 234.3,378.1 240.3,375.7 246.2,373.3 252.1,370.4 258.0,367.4 264.0,364.4 268.7,363.3 269.9,365.6 266.3,368.6 260.4,371.0 254.5,373.3 248.6,375.7 242.6,378.1 236.7,380.4 232.0,382.2" fill="#d6ffc6" stroke="#d6ffc6" stroke-width="0.6" stroke-linejoin="round"/>
<polygon points="216.6,382.8 221.3,381.6 225.4,383.4 223.7,385.2 218.9,385.4" fill="#d6ffc6" stroke="#d6ffc6" stroke-width="0.6" stroke-linejoin="round"/>
<polygon points="273.4,352.6 277.0,352.0 277.0,360.3 274.0,359.1" fill="#d6ffc6" stroke="#d6ffc6" stroke-width="0.6" stroke-linejoin="round"/>
</g>
<clipPath id="tc14"><rect x="85.00" y="194.00" width="96.00" height="54.00"/></clipPath>
<g clip-path="url(#tc14)">
<rect x="84.50" y="193.50" width="97.00" height="55.00" fill="#ffe6b8" stroke="none" stroke-width="1"/>
<polygon points="90.3,202.0 93.9,199.3 99.2,198.4 105.4,200.2 110.8,203.8 113.4,207.3 110.8,209.6 105.4,210.0 99.2,210.4 94.8,209.1 91.2,206.4" fill="#d6ffc6" stroke="#d6ffc6" stroke-width="0.6" stroke-linejoin="round"/>
<polygon points="94.3,205.6 96.6,202.9 101.0,201.6 105.9,202.4 108.1,204.7 106.3,206.9 102.8,208.0 98.3,208.7 95.2,207.8" fill="#8cfa8c" stroke="#8cfa8c" stroke-width="0.6" stroke-linejoin="round"/>
<polygon points="97.4,204.2 99.7,202.9 101.9,203.3 101.4,205.4 98.8,206.0" fill="#5cffff" stroke="#5cffff" stroke-width="0.6" stroke-linejoin="round"/>
<polygon points="104.1,220.2 106.3,219.6 108.6,220.7 107.7,222.0 105.0,222.0" fill="#d6ffc6" stroke="#d6ffc6" stroke-width="0.6" stroke-linejoin="round"/>
<polygon points="102.3,225.6 104.6,224.7 106.8,226.0 105.9,228.2 103.2,228.0" fill="#d6ffc6" stroke="#d6ffc6" stroke-width="0.6" stroke-linejoin="round"/>
<polygon points="115.7,229.1 117.9,227.3 121.4,227.3 124.1,229.1 125.0,232.2 127.7,234.9 131.2,237.6 133.9,240.2 133.4,243.8 130.3,246.4 125.9,247.3 122.3,246.0 121.0,242.9 122.3,239.3 124.1,236.7 121.4,234.0 117.9,232.7" fill="#d6ffc6" stroke="#d6ffc6" stroke-width="0.6" stroke-linejoin="round"/>
<polygon points="116.1,229.6 118.8,228.2 122.3,228.2 123.9,230.4 122.8,232.7 119.7,232.9 117.0,231.8" fill="#8cfa8c" stroke="#8cfa8c" stroke-width="0.6" stroke-linejoin="round"/>
<polygon points="126.8,238.9 129.4,238.4 131.7,239.5 130.3,240.9 127.5,240.7" fill="#8cfa8c" stroke="#8cfa8c" stroke-width="0.6" stroke-linejoin="round"/>
<polygon points="121.9,242.4 125.0,241.8 126.8,242.9 125.0,244.2 122.3,243.8" fill="#8cfa8c" stroke="#8cfa8c" stroke-width="0.6" stroke-linejoin="round"/>
<polygon points="101.0,239.3 104.6,238.0 107.2,239.3 106.3,241.6 102.8,242.0" fill="#d6ffc6" stroke="#d6ffc6" stroke-width="0.6" stroke-linejoin="round"/>
<polygon points="181.0,211.8 179.2,214.4 177.9,218.0 179.2,220.7 181.0,220.7" fill="#d6ffc6" stroke="#d6ffc6" stroke-width="0.6" stroke-linejoin="round"/>
<polygon points="170.3,225.1 173.9,224.2 177.4,223.3 181.0,222.4 181.0,225.1 177.4,226.4 173.9,227.8 170.8,227.3" fill="#d6ffc6" stroke="#d6ffc6" stroke-width="0.6" stroke-linejoin="round"/>
<polygon points="101.0,248.0 102.8,246.9 111.7,246.6 114.3,248.0" fill="#d6ffc6" stroke="#d6ffc6" stroke-width="0.6" stroke-linejoin="round"/>
</g>
<clipPath id="tc15"><rect x="85.00" y="248.00" width="64.00" height="54.00"/></clipPath>
<g clip-path="url(#tc15)">
<rect x="84.50" y="247.50" width="65.00" height="55.00" fill="#ffe6b8" stroke="none" stroke-width="1"/>
<polygon points="94.8,256.9 98.3,253.3 101.9,249.8 102.8,248.0 117.9,248.0 118.8,251.6 122.3,253.3 127.7,252.9 133.0,253.3 138.3,254.2 141.9,256.9 141.0,260.4 137.4,261.8 132.1,261.3 126.8,260.9 121.4,260.0 116.1,259.6 111.7,260.4 108.1,259.6 104.6,258.7 100.1,259.6 96.6,259.1" fill="#d6ffc6" stroke="#d6ffc6" stroke-width="0.6" stroke-linejoin="round"/>
<polygon points="103.2,249.8 105.0,248.0 108.6,248.0 109.0,251.6 108.8,256.0 108.1,259.1 105.9,258.2 104.1,256.0 103.2,252.9" fill="#8cfa8c" stroke="#8cfa8c" stroke-width="0.6" stroke-linejoin="round"/>
<polygon points="110.3,248.4 113.4,248.0 113.9,249.8 111.7,250.7" fill="#8cfa8c" stroke="#8cfa8c" stroke-width="0.6" stroke-linejoin="round"/>
<polygon points="109.9,255.1 112.6,254.2 113.9,255.8 112.1,257.3 110.3,256.7" fill="#8cfa8c" stroke="#8cfa8c" stroke-width="0.6" stroke-linejoin="round"/>
<polygon points="126.8,255.1 129.0,254.2 129.9,256.9 129.4,259.6 127.2,259.7" fill="#8cfa8c" stroke="#8cfa8c" stroke-width="0.6" stroke-linejoin="round"/>
<polygon points="136.1,256.9 138.3,255.8 140.3,257.3 139.9,260.0 137.9,260.9 136.3,259.4" fill="#8cfa8c" stroke="#8cfa8c" stroke-width="0.6" stroke-linejoin="round"/>
<polygon points="110.8,269.3 116.1,268.4 122.3,268.0 129.4,267.7 136.6,267.6 142.8,268.0 147.2,270.2 150.3,272.9 149.9,275.6 146.3,276.9 141.0,277.3 135.7,277.8 130.3,277.3 125.0,275.6 120.6,273.8 115.2,272.9 111.2,272.0" fill="#d6ffc6" stroke="#d6ffc6" stroke-width="0.6" stroke-linejoin="round"/>
<polygon points="119.2,270.9 121.4,269.8 123.9,270.9 123.2,272.7 120.6,273.1" fill="#8cfa8c" stroke="#8cfa8c" stroke-width="0.6" stroke-linejoin="round"/>
<polygon points="126.8,272.0 129.0,270.2 132.1,270.0 133.9,271.8 133.0,274.5 130.3,275.7 127.5,275.1" fill="#8cfa8c" stroke="#8cfa8c" stroke-width="0.6" stroke-linejoin="round"/>
<polygon points="136.1,274.2 138.3,273.2 140.6,274.2 139.4,275.7 137.0,275.6" fill="#8cfa8c" stroke="#8cfa8c" stroke-width="0.6" stroke-linejoin="round"/>
<polygon points="145.3,273.8 147.2,272.2 149.4,273.3 149.7,275.4 147.2,276.0 145.4,275.4" fill="#8cfa8c" stroke="#8cfa8c" stroke-width="0.6" stroke-linejoin="round"/>
<polygon points="85.9,287.1 90.3,286.7 94.8,287.6 97.4,289.8 96.6,293.3 93.9,296.9 91.2,300.4 88.6,302.0 85.9,302.0" fill="#d6ffc6" stroke="#d6ffc6" stroke-width="0.6" stroke-linejoin="round"/>
<polygon points="85.9,290.7 88.1,292.4 90.3,296.0 89.4,298.7 86.8,300.0 85.9,300.0" fill="#8cfa8c" stroke="#8cfa8c" stroke-width="0.6" stroke-linejoin="round"/>
<polygon points="108.1,280.9 110.8,280.4 112.6,281.8 111.2,283.6 108.6,283.1" fill="#d6ffc6" stroke="#d6ffc6" stroke-width="0.6" stroke-linejoin="round"/>
</g>
<clipPath id="tc16"><rect x="85.00" y="302.00" width="64.00" height="112.00"/></clipPath>
<g clip-path="url(#tc16)">
<rect x="84.50" y="301.50" width="65.00" height="113.00" fill="#ffe6b8" stroke="none" stroke-width="1"/>
<polygon points="85.0,309.3 90.5,307.5 99.6,306.6 108.8,307.5 112.5,311.2 108.8,314.8 103.3,318.5 105.1,324.0 101.5,327.6 94.2,326.7 88.7,329.5 85.0,331.3" fill="#d6ffc6" stroke="#d6ffc6" stroke-width="0.6" stroke-linejoin="round"/>
<polygon points="85.9,313.0 90.5,314.8 88.7,319.4 85.9,320.3" fill="#8cfa8c" stroke="#8cfa8c" stroke-width="0.6" stroke-linejoin="round"/>
<polygon points="100.6,321.2 104.2,321.2 104.2,324.0 100.6,324.0" fill="#8cfa8c" stroke="#8cfa8c" stroke-width="0.6" stroke-linejoin="round"/>
<polygon points="106.0,308.4 110.6,308.4 110.6,312.1 106.0,312.1" fill="#8cfa8c" stroke="#8cfa8c" stroke-width="0.6" stroke-linejoin="round"/>
<polygon points="119.8,306.6 124.3,306.6 124.3,310.2 119.8,310.2" fill="#d6ffc6" stroke="#d6ffc6" stroke-width="0.6" stroke-linejoin="round"/>
<polygon points="139.9,305.7 143.6,305.7 143.6,311.2 139.9,311.2" fill="#d6ffc6" stroke="#d6ffc6" stroke-width="0.6" stroke-linejoin="round"/>
<polygon points="85.0,380.7 94.2,382.5 99.6,388.0 101.5,393.5 96.0,393.5 90.5,392.6 85.0,393.5" fill="#d6ffc6" stroke="#d6ffc6" stroke-width="0.6" stroke-linejoin="round"/>
<polygon points="85.0,382.5 92.3,384.4 94.2,388.9 90.5,391.7 85.0,392.0" fill="#8cfa8c" stroke="#8cfa8c" stroke-width="0.6" stroke-linejoin="round"/>
<polygon points="85.9,384.4 90.5,385.3 91.4,388.9 86.8,390.2" fill="#5cffff" stroke="#5cffff" stroke-width="0.6" stroke-linejoin="round"/>
<polygon points="110.6,408.1 114.3,401.7 117.9,395.3 121.6,389.8 127.1,388.0 130.8,391.7 127.1,397.2 125.3,404.5 121.6,410.0 114.3,411.8" fill="#d6ffc6" stroke="#d6ffc6" stroke-width="0.6" stroke-linejoin="round"/>
<polygon points="111.5,407.8 115.2,402.7 120.7,397.5 124.3,399.0 124.3,404.5 120.7,409.1 114.3,410.9" fill="#8cfa8c" stroke="#8cfa8c" stroke-width="0.6" stroke-linejoin="round"/>
<polygon points="137.2,384.4 139.9,379.8 147.2,377.4 153.6,378.9 156.4,384.4 154.5,389.8 149.1,393.0 141.7,392.6 138.1,388.9" fill="#d6ffc6" stroke="#d6ffc6" stroke-width="0.6" stroke-linejoin="round"/>
<polygon points="138.1,384.7 140.8,380.7 147.2,378.5 153.1,380.3 154.9,385.3 152.7,389.8 148.1,392.0 142.1,391.7 139.0,388.4" fill="#8cfa8c" stroke="#8cfa8c" stroke-width="0.6" stroke-linejoin="round"/>
<polygon points="140.8,382.5 145.4,380.7 148.1,383.4 145.4,385.8 141.4,385.3" fill="#5cffff" stroke="#5cffff" stroke-width="0.6" stroke-linejoin="round"/>
</g>
<clipPath id="tc17"><rect x="149.00" y="392.00" width="128.00" height="22.00"/></clipPath>
<g clip-path="url(#tc17)">
<rect x="148.50" y="391.50" width="129.00" height="23.00" fill="#ffe6b8" stroke="none" stroke-width="1"/>
<polygon points="137.2,384.4 139.9,379.8 147.2,377.4 153.6,378.9 156.4,384.4 154.5,389.8 149.1,393.0 141.7,392.6 138.1,388.9" fill="#d6ffc6" stroke="#d6ffc6" stroke-width="0.6" stroke-linejoin="round"/>
<polygon points="138.1,384.7 140.8,380.7 147.2,378.5 153.1,380.3 154.9,385.3 152.7,389.8 148.1,392.0 142.1,391.7 139.0,388.4" fill="#8cfa8c" stroke="#8cfa8c" stroke-width="0.6" stroke-linejoin="round"/>
<polygon points="156.4,399.9 160.0,395.7 165.5,395.3 167.7,399.0 164.6,403.0 159.1,403.6" fill="#d6ffc6" stroke="#d6ffc6" stroke-width="0.6" stroke-linejoin="round"/>
<polygon points="159.1,399.9 161.9,397.5 164.6,399.0 162.8,401.7" fill="#8cfa8c" stroke="#8cfa8c" stroke-width="0.6" stroke-linejoin="round"/>
<polygon points="193.0,390.2 197.0,389.8 197.5,393.9 193.9,394.4" fill="#d6ffc6" stroke="#d6ffc6" stroke-width="0.6" stroke-linejoin="round"/>
</g>
<clipPath id="tc18"><rect x="299.00" y="80.00" width="128.00" height="60.00"/></clipPath>
<g clip-path="url(#tc18)">
<rect x="298.50" y="79.50" width="129.00" height="61.00" fill="#ffe6b8" stroke="none" stroke-width="1"/>
<polygon points="427.0,91.3 422.3,90.7 417.5,91.6 412.8,93.6 408.0,96.0 403.3,97.8 399.7,99.6 396.2,101.9 392.6,104.9 389.1,107.9 385.5,110.2 382.0,112.6 378.4,115.0 375.4,117.9 373.1,121.5 370.1,125.0 367.1,128.6 364.2,131.6 360.6,133.9 357.1,136.3 353.5,138.1 350.0,139.3 346.4,141.0 344.0,144.0 342.3,147.6 340.5,152.1 427.0,152.1" fill="#d6ffc6" stroke="#d6ffc6" stroke-width="0.6" stroke-linejoin="round"/>
<polygon points="343.4,108.4 345.2,107.6 347.0,109.0 345.8,110.6 343.8,110.2" fill="#d6ffc6" stroke="#d6ffc6" stroke-width="0.6" stroke-linejoin="round"/>
<polygon points="365.4,113.8 367.7,112.7 370.1,114.1 369.2,116.1 366.3,115.9" fill="#d6ffc6" stroke="#d6ffc6" stroke-width="0.6" stroke-linejoin="round"/>
<polygon points="336.9,126.2 338.7,122.7 341.7,120.3 344.6,119.1 346.4,120.9 344.6,123.9 341.7,125.6 339.9,128.6 337.5,129.2" fill="#d6ffc6" stroke="#d6ffc6" stroke-width="0.6" stroke-linejoin="round"/>
<polygon points="427.0,95.4 423.4,96.0 419.9,96.6 416.3,97.8 412.8,97.2 409.2,97.8 405.7,99.0 402.1,100.7 398.6,103.1 395.0,105.5 391.4,108.4 387.9,111.1 384.3,113.2 380.8,115.6 377.8,117.9 375.4,120.9 373.1,124.4 370.1,127.4 367.1,130.4 364.2,133.3 360.6,135.7 357.1,137.8 353.5,139.3 350.0,140.7 347.6,142.8 345.8,145.8 344.0,148.7 342.9,152.1 427.0,152.1" fill="#8cfa8c" stroke="#8cfa8c" stroke-width="0.6" stroke-linejoin="round"/>
<polygon points="408.0,108.4 405.7,107.9 402.1,107.5 398.6,109.0 395.6,111.4 392.6,114.4 389.7,116.7 386.7,119.7 383.7,122.7 380.8,125.6 378.4,128.6 376.0,131.6 373.1,134.5 370.1,136.9 366.6,139.3 363.6,141.6 360.6,144.0 358.3,147.0 355.9,149.9 354.7,152.1 427.0,152.1 427.0,118.2 422.3,119.8 417.5,121.5 414.0,122.4 411.0,121.5 409.2,119.1 408.6,115.6 408.0,112.0" fill="#5cffff" stroke="#5cffff" stroke-width="0.6" stroke-linejoin="round"/>
<polygon points="427.0,127.4 422.3,128.6 417.5,129.8 412.8,131.6 408.0,133.3 403.3,134.5 399.7,136.3 396.2,136.9 392.6,138.1 389.1,140.4 386.7,142.8 384.3,139.3 382.0,137.5 378.4,138.1 374.9,139.9 371.3,142.2 367.7,144.6 364.8,147.0 361.8,149.3 359.4,152.1 427.0,152.1" fill="#00c8ff" stroke="#00c8ff" stroke-width="0.6" stroke-linejoin="round"/>
<polygon points="427.0,136.9 422.3,137.5 417.5,138.7 412.8,139.9 408.0,141.0 404.5,142.8 402.1,145.8 398.6,148.7 393.8,150.5 390.3,152.1 427.0,152.1" fill="#0064ff" stroke="#0064ff" stroke-width="0.6" stroke-linejoin="round"/>
</g>
<clipPath id="tc19"><rect x="427.00" y="80.00" width="42.00" height="60.00"/></clipPath>
<g clip-path="url(#tc19)">
<rect x="426.50" y="79.50" width="43.00" height="61.00" fill="#ffe6b8" stroke="none" stroke-width="1"/>
<polygon points="405.0,94.2 409.7,92.4 415.7,90.9 421.6,90.4 427.5,91.3 432.3,92.8 430.5,94.8 428.1,97.8 426.9,101.3 428.1,104.9 432.3,107.0 437.0,107.9 441.7,107.5 446.5,106.7 450.0,107.9 453.6,108.4 458.3,107.3 461.9,105.8 465.4,104.7 468.4,104.3 469.6,104.3 469.6,152.1 405.0,152.1" fill="#d6ffc6" stroke="#d6ffc6" stroke-width="0.6" stroke-linejoin="round"/>
<polygon points="405.0,96.6 409.7,95.4 414.5,95.6 419.2,96.6 424.0,98.4 426.9,101.3 428.1,105.5 431.7,108.4 436.4,109.6 441.7,109.4 446.5,108.4 449.4,110.2 450.6,112.6 454.8,111.4 458.3,109.6 461.9,108.2 465.4,107.0 469.6,106.7 469.6,152.1 405.0,152.1" fill="#8cfa8c" stroke="#8cfa8c" stroke-width="0.6" stroke-linejoin="round"/>
<polygon points="405.0,120.3 408.6,123.3 412.1,123.9 416.9,122.1 421.6,119.7 426.3,117.7 431.1,116.5 435.8,117.3 440.6,118.9 445.3,118.5 450.0,117.3 454.8,116.1 458.3,115.0 461.9,113.8 465.4,111.8 469.6,110.6 469.6,152.1 405.0,152.1" fill="#5cffff" stroke="#5cffff" stroke-width="0.6" stroke-linejoin="round"/>
<polygon points="405.0,103.7 408.0,107.3 409.1,112.0 407.4,116.7 405.0,119.1" fill="#5cffff" stroke="#5cffff" stroke-width="0.6" stroke-linejoin="round"/>
<polygon points="405.0,133.3 409.7,131.0 414.5,129.2 419.2,128.4 424.0,128.6 428.7,128.8 433.4,128.4 438.2,128.6 440.6,131.0 441.7,133.9 444.7,132.1 447.7,129.2 450.6,126.8 453.6,124.4 457.1,122.1 460.7,120.3 464.3,117.9 469.6,115.6 469.6,152.1 405.0,152.1" fill="#00c8ff" stroke="#00c8ff" stroke-width="0.6" stroke-linejoin="round"/>
<polygon points="405.0,139.3 409.7,138.3 414.5,137.5 419.2,136.9 424.0,137.5 427.5,139.3 430.5,141.6 434.6,142.2 439.4,141.0 444.1,139.9 448.9,138.1 453.6,135.7 458.3,134.5 463.1,133.9 469.6,133.9 469.6,152.1 405.0,152.1" fill="#0064ff" stroke="#0064ff" stroke-width="0.6" stroke-linejoin="round"/>
</g>
<line x1="149.50" y1="31.50" x2="149.50" y2="414.20" stroke="#000" stroke-width="1" stroke-opacity="0.21"/>
<line x1="213.50" y1="31.50" x2="213.50" y2="414.20" stroke="#000" stroke-width="1" stroke-opacity="0.21"/>
<line x1="277.50" y1="31.50" x2="277.50" y2="414.20" stroke="#000" stroke-width="1" stroke-opacity="0.21"/>
<line x1="340.50" y1="31.50" x2="340.50" y2="414.20" stroke="#000" stroke-width="1" stroke-opacity="0.21"/>
<line x1="404.50" y1="31.50" x2="404.50" y2="414.20" stroke="#000" stroke-width="1" stroke-opacity="0.21"/>
<line x1="85.50" y1="94.50" x2="468.60" y2="94.50" stroke="#000" stroke-width="1" stroke-opacity="0.21"/>
<line x1="85.50" y1="158.50" x2="468.60" y2="158.50" stroke="#000" stroke-width="1" stroke-opacity="0.21"/>
<line x1="85.50" y1="222.50" x2="468.60" y2="222.50" stroke="#000" stroke-width="1" stroke-opacity="0.21"/>
<line x1="85.50" y1="285.50" x2="468.60" y2="285.50" stroke="#000" stroke-width="1" stroke-opacity="0.21"/>
<line x1="85.50" y1="349.50" x2="468.60" y2="349.50" stroke="#000" stroke-width="1" stroke-opacity="0.21"/>
<g fill="none" stroke="#000" stroke-width="1.5" stroke-linejoin="round" stroke-linecap="round">
<polygon points="137.0,89.8 139.3,90.1 141.6,91.2 141.3,92.6 139.1,92.1 137.4,90.8" fill="#000" stroke-width="0.4"/>
<polygon points="146.4,116.5 148.0,115.8 148.8,117.6 147.3,118.8 146.1,117.9" fill="#000" stroke-width="0.4"/>
<polygon points="170.3,110.4 172.6,109.9 174.8,111.5 174.1,113.6 171.9,112.9 170.5,112.0" fill="#000" stroke-width="0.4"/>
<polygon points="196.7,109.4 197.9,107.6 199.9,106.3 200.9,107.9 199.7,110.1 197.2,110.8" fill="#000" stroke-width="0.4"/>
<polyline points="217.1,71.1 218.5,69.3 220.3,67.9 221.9,67.3 223.2,66.6 224.8,66.3 226.4,65.8 228.3,66.3 229.6,65.6 231.7,66.3 233.2,65.6 235.7,65.2 237.7,65.4 238.7,64.4 240.7,64.3 242.0,62.7 244.0,61.1 244.7,59.6 245.0,58.6 246.4,57.6 247.2,56.9 248.5,55.7 250.6,55.4 251.9,54.5 253.7,54.9 255.5,54.4 257.3,54.3 258.5,54.1 260.1,52.9 261.5,52.6 263.8,52.1 265.5,51.3 266.9,51.3 268.4,50.8 270.2,51.0 271.9,50.9 273.6,51.1 275.4,50.3 276.7,48.6 277.8,48.1 278.9,47.0 280.6,46.3 282.1,46.7 283.7,45.9 285.8,46.1 287.2,45.2 288.9,44.8 290.4,44.0 291.0,42.8 292.3,41.8 294.1,39.5 294.2,38.1 295.1,36.9 296.9,36.4 297.8,36.3 300.0,34.6 299.4,32.6 297.5,32.4 296.1,31.7 294.6,33.1 292.8,33.7 290.6,35.5"/>
<polyline points="226.6,60.0 228.6,59.6 230.4,59.6 231.9,59.2 233.6,59.5 235.4,59.6 236.6,59.6 238.3,59.7 239.8,60.2 242.4,59.3 244.4,59.4"/>
<polygon points="237.6,91.5 239.2,90.5 241.2,90.5 242.6,89.8 244.0,89.3 245.7,90.0 247.7,90.5 247.8,93.7 247.9,94.4 247.4,95.7 246.2,97.8 245.4,98.8 243.3,99.3 241.7,100.6 239.7,99.4 238.3,96.5 239.6,95.5 238.2,94.1"/>
<polyline points="341.0,51.4 339.5,52.6 337.2,53.3 336.1,53.7 334.6,54.8 333.6,56.1 332.9,57.3 331.4,59.3 330.6,59.9 329.1,60.9 328.3,62.1 327.2,64.3 325.9,65.3 324.6,66.7 322.8,67.5 322.4,68.6 321.5,69.5 320.1,71.0 319.5,72.2 319.2,73.6 317.8,75.9 317.1,76.3 315.5,77.5 315.3,79.3 313.4,80.3 313.0,81.1 311.2,82.0 309.8,82.5 309.5,84.1 307.8,85.4 306.6,86.1 305.8,86.2 304.0,87.1 302.8,88.4 301.6,89.2 300.3,90.7 299.4,91.2 298.4,92.6 297.1,93.6 295.7,94.7 294.2,95.7 292.6,97.3 290.7,99.4 289.4,100.5 288.5,101.9 286.5,103.1"/>
<polyline points="341.0,51.1 341.4,49.4 342.2,47.9 342.4,45.9 343.1,43.8 344.2,42.6 344.6,41.3 345.9,39.2 346.4,37.5 346.6,36.2 346.9,34.6 345.7,32.2"/>
<polyline points="367.7,32.2 367.3,34.4 367.3,36.1 367.2,37.3 366.5,39.7 366.2,40.7 364.9,42.8 364.1,44.1 363.3,46.0 364.8,47.7 365.0,49.0 366.3,49.9 367.5,52.2 367.4,54.0 368.2,55.3 367.9,57.4 366.1,58.8 365.9,60.5 365.0,62.2 365.9,63.7 366.2,65.9 365.2,67.6 365.4,69.5 364.3,71.5 364.4,73.0 363.1,73.7 362.5,75.7 363.3,76.9 364.0,79.4 365.3,80.5 365.5,83.0 367.7,81.6 367.8,79.4 369.0,78.3 369.0,77.4 370.2,75.7 370.5,74.6 371.4,73.4 373.3,72.5 374.8,72.7 376.0,72.3 377.8,72.8 378.8,72.4 380.3,72.2 381.7,73.2 383.3,74.0 383.7,75.4 384.1,76.7 383.7,78.5 383.9,80.8 384.5,78.4 386.2,75.6 385.8,74.5 385.1,73.4 384.2,71.3 382.1,72.4 380.0,71.0 380.0,69.4 379.4,67.6 377.9,65.0 376.7,64.7 375.7,63.3 373.8,62.2 373.8,60.5 372.5,58.6 372.4,57.0 372.1,55.2 372.6,54.0 373.7,51.8 373.8,50.4 374.6,48.0 375.2,46.3 376.5,44.6 377.1,43.2 377.8,41.4 379.1,40.7 380.2,39.4 381.9,39.3 383.6,39.4 385.1,39.2 387.1,39.6 388.9,39.1 391.3,39.4 392.8,40.4 393.6,41.3 395.9,41.8 397.2,43.2 398.1,44.1 399.3,46.0 400.3,47.7 399.4,45.4 398.5,44.1 397.0,42.4 395.7,41.5 394.5,40.8 394.4,38.8 393.9,37.1 393.1,34.9 392.9,34.2 391.4,32.2"/>
<polygon points="428.1,101.2 429.8,99.4 431.3,98.3 431.8,97.5 433.7,96.5 434.9,96.4 436.1,94.8 437.6,94.0 439.3,92.7 440.7,91.0 440.8,89.9 442.0,88.6 443.0,89.8 442.7,91.8 441.3,93.8 439.8,94.4 438.2,95.6 436.7,96.1 435.6,97.1 434.2,99.0 431.8,99.7 431.1,101.3 429.2,101.6"/>
<polygon points="445.6,90.7 447.1,89.3 448.5,88.1 450.8,87.3 452.1,87.3 454.0,88.7 452.1,90.7 450.9,90.1 448.9,90.8 447.0,91.2"/>
<polygon points="460.1,86.3 461.6,85.7 462.6,84.6 464.9,83.1 466.5,82.8 468.8,81.5 467.7,83.6 466.8,84.7 464.7,85.4 463.1,86.0 461.5,87.6"/>
<polygon points="361.6,89.3 363.0,88.1 364.8,87.4 366.1,89.0 368.1,89.8 369.1,91.1 370.6,91.9 371.5,92.6 372.7,94.2 373.9,95.6 374.6,96.1 376.5,97.2 377.2,98.4 378.2,99.8 380.1,100.1 380.9,100.9 382.0,101.8 383.4,102.5 385.2,104.1 387.3,104.0 389.5,105.4 390.8,104.8 392.3,105.1 394.0,106.0 395.3,107.0 397.1,108.1 398.8,108.1 400.2,107.6 402.0,106.9 403.5,105.7 406.1,104.5 407.2,104.1 409.0,102.8 407.2,105.2 406.5,106.9 406.1,108.8 406.3,109.4 405.8,111.6 407.8,112.3 408.7,112.7 409.7,114.8 411.3,115.9 413.0,115.0 413.6,114.6 412.8,116.0 412.0,117.0 410.3,117.5 408.6,117.7 406.7,118.2 405.4,118.6 404.0,118.4 401.7,118.9 400.5,119.6 398.2,119.3 396.8,120.1 394.9,120.0 393.3,120.4 391.2,121.4 390.4,122.5 388.9,123.2 387.0,124.2 386.6,125.8 385.0,126.6 384.3,128.8 383.7,129.8 383.3,132.0 381.7,132.9 379.4,132.1 378.0,131.3 376.3,131.2 374.3,129.8 373.0,129.0 371.0,128.0 368.6,127.7 367.2,127.0 366.0,125.3 364.2,125.0 363.2,124.9 360.9,124.5 359.2,125.3 357.6,124.8 356.0,125.5 355.7,126.9 354.3,127.9 352.8,128.4 350.2,127.3 348.4,125.2 346.0,126.1 344.5,128.4 345.5,129.9 347.1,130.8 349.2,131.2 350.7,132.2 351.6,133.7 354.4,134.5 354.8,135.4 353.7,135.9 352.0,135.3 351.2,135.4 349.3,136.6 348.2,136.7 345.9,137.6 344.5,139.0 341.9,139.1 341.2,137.0 341.5,135.8 341.4,133.5 340.3,130.7 338.2,129.4 338.5,126.9 339.4,125.2 339.6,124.4 341.8,124.0 342.7,122.4 344.0,121.8 345.7,120.6 346.4,119.9 347.3,118.8 345.9,116.0 348.0,115.4 349.9,115.7 350.8,117.0 352.7,116.8 354.2,117.7 356.0,117.7 358.1,117.2 358.6,114.0 358.2,112.9 358.5,111.4 359.2,109.0 361.9,108.0 362.7,106.7 363.2,104.5 363.6,102.9 363.7,101.2 364.0,99.3 363.7,97.5 363.1,96.7 363.1,94.6 362.0,94.1 361.2,92.2 361.5,90.2"/>
<polygon points="355.1,91.6 356.7,90.9 357.9,92.1 357.1,93.4 355.4,93.0" fill="#000" stroke-width="0.4"/>
<polygon points="333.0,130.0 334.3,129.2 335.1,130.7 334.3,132.4 333.1,131.9" fill="#000" stroke-width="0.4"/>
<polyline points="364.8,80.0 365.9,81.4 367.1,83.3 369.3,81.8 368.9,80.0"/>
<polygon points="409.4,110.4 410.9,108.9 413.3,107.9 414.7,106.2 416.1,104.8 416.7,103.7 418.6,101.5 420.0,100.5 421.1,100.7 422.5,101.0 424.4,102.0 423.3,102.2 421.2,102.9 419.5,104.0 417.9,105.2 417.2,106.7 415.0,107.6 413.9,109.4 412.6,110.2 410.7,112.0"/>
<polygon points="424.5,110.2 426.3,108.4 429.3,108.2 428.7,110.2 426.3,111.4" fill="#000" stroke-width="0.4"/>
<polygon points="147.2,151.4 149.6,150.4 153.1,149.5 152.8,150.6 150.2,151.8 148.1,152.2" fill="#000" stroke-width="0.4"/>
<polyline points="85.0,156.9 86.7,156.1 88.4,156.2 89.8,154.3 91.4,152.7 93.1,151.8 93.8,149.5 95.6,148.3 96.4,147.8 98.3,147.2 99.7,146.6 101.8,146.1 103.5,146.7 105.9,147.3 107.1,147.2 108.0,145.1 108.9,147.2 110.8,148.5 111.9,148.6 113.7,151.5 112.5,152.1 112.7,154.4 111.1,154.7 110.3,156.2 109.1,157.6 107.8,158.4 106.6,159.3 105.1,160.8 103.7,161.9 102.5,164.5 101.0,164.8 102.4,165.6 104.5,166.1 105.3,165.6 107.8,165.2 109.6,165.4 107.9,166.6 106.5,167.0 106.0,169.5 103.9,171.3 102.1,171.4 99.9,171.9 99.0,172.7 99.8,175.1"/>
<polyline points="106.1,170.6 108.0,170.2 109.3,169.0 110.5,168.2 111.3,167.7 112.4,166.9 114.0,165.8 115.4,165.0 116.6,164.9 117.8,163.6 119.2,163.3 121.0,162.5 122.5,162.8 123.9,162.0 125.0,161.6 126.9,161.2 128.9,160.1 130.3,160.6 131.2,159.9 133.5,159.6 135.2,159.7 136.5,159.2 137.5,159.7 138.6,158.7 140.5,158.3 141.4,160.2 143.0,161.5 145.0,162.1 145.9,162.3 147.2,162.5 149.1,162.7 151.2,163.3 152.6,164.1 153.6,163.8 155.6,162.7 155.2,165.0 154.2,167.7 153.1,169.3 152.7,170.2 151.9,172.5 154.1,174.1 156.1,175.1"/>
<polyline points="213.0,132.0 212.0,133.7 210.7,134.6 209.6,135.4 208.4,137.0 209.1,139.1 209.2,141.3 209.0,142.4 209.6,144.0 207.8,146.7 206.1,147.6 204.4,148.7 203.6,149.1 202.5,150.2 200.8,151.4 199.7,151.4 198.4,152.7 198.0,153.7 195.7,154.0 193.5,155.3 192.3,155.9 190.6,156.9 189.1,157.6 186.7,158.2 184.7,158.6 183.3,159.0 181.7,160.8 180.5,161.7 181.1,162.8 180.1,164.7 179.8,167.1 181.0,167.9 181.4,169.2 182.6,170.9 184.8,172.0 185.2,172.9 187.2,173.3 188.4,174.1 190.5,175.1"/>
<polygon points="178.6,166.4 180.4,165.6 181.6,167.2 180.8,168.9 179.0,168.4" fill="#000" stroke-width="0.4"/>
<polyline points="85.0,190.4 85.9,188.5 87.1,187.0 89.0,187.3 91.1,187.0 92.9,186.2 94.5,186.2 97.1,185.9 97.8,187.0 99.7,187.5 102.0,188.5 102.5,189.7 104.2,191.4 105.7,190.5 107.3,190.2 108.4,190.5 110.6,190.0 112.1,190.6 113.4,190.7 115.1,191.1 116.3,191.2 118.0,191.1 119.1,191.7 117.8,194.4 116.1,195.3 116.6,198.5 114.5,198.3 112.4,196.5 110.7,197.7 109.2,198.3 107.1,198.8 105.9,199.6 104.9,200.3 102.6,200.6 102.0,200.9 99.7,200.8 98.2,201.2 97.8,202.9 96.4,203.8 94.6,202.0 92.9,204.2 93.0,206.7 90.2,208.1 88.1,207.3 87.2,209.6 85.0,210.0"/>
<polyline points="85.0,230.1 86.6,231.7 88.1,233.7 88.9,235.6 89.0,237.1 90.3,239.3 91.1,241.0 92.1,242.3 93.4,243.6 94.2,245.2 95.1,247.1"/>
<polyline points="156.1,175.0 153.8,175.0 152.8,176.1 150.6,175.9 149.6,176.5 148.4,177.4 147.7,178.9 146.4,181.4 144.6,181.8 146.8,182.3 147.7,183.0 149.2,183.6 151.6,185.4 153.9,186.1 154.8,185.3 156.5,184.1 158.9,184.6 160.0,185.4 162.4,186.3 163.7,186.5 165.3,185.9 168.0,187.1 170.6,186.4 170.8,188.5 172.4,190.2 170.5,191.2 169.4,193.3 171.2,195.2 171.7,196.0 173.7,196.7 171.8,198.5 169.9,197.9 167.0,196.6 164.7,197.9 163.2,199.5 164.2,201.4 167.3,203.1 167.6,205.7 168.2,207.5 170.8,208.5 172.9,207.5 171.2,210.1 169.9,212.0 169.0,213.6 167.9,216.8 167.0,218.9 166.3,221.2 166.4,223.7 167.9,225.6 167.2,227.7 164.5,229.2 162.6,229.8 164.3,230.5 165.9,230.3 168.3,229.7 170.5,228.3 171.6,227.9 172.9,227.1 175.1,227.1 176.4,226.3 178.6,225.3 181.1,224.7 183.5,224.0 185.4,223.2 188.4,222.3 190.5,223.5 192.4,221.9 194.9,222.7 198.0,221.2 198.7,221.0 200.6,220.8 201.8,219.9 203.3,218.9 203.7,217.8 204.4,216.1 205.2,214.7 205.5,213.4 206.0,210.7 206.3,209.3 205.7,207.5 205.8,206.0 205.6,203.8 205.4,202.5 205.9,200.5 205.0,199.0 204.6,196.6 203.7,195.4 203.5,193.5 202.3,191.7 201.2,190.3 200.4,188.2 200.0,186.9 198.7,184.9 197.6,183.2 196.7,182.0 195.6,180.4 193.9,178.9 193.1,177.6 191.8,177.0 191.1,175.0"/>
<polygon points="163.2,198.7 165.6,197.3 168.0,197.8 166.8,199.3 164.6,200.1" fill="#000" stroke-width="0.4"/>
<polygon points="165.0,222.4 167.4,221.8 168.0,224.8 166.8,227.1 165.0,226.6" fill="#000" stroke-width="0.4"/>
<polygon points="150.2,183.5 153.1,183.3 154.9,185.4 153.1,186.6 150.8,185.7" fill="#000" stroke-width="0.4"/>
<polygon points="177.4,225.7 179.8,224.8 183.4,223.8 185.7,223.4 186.0,224.8 183.4,225.7 180.4,226.6 178.0,227.1" fill="#000" stroke-width="0.4"/>
<polygon points="191.7,221.8 194.6,221.2 196.4,222.4 195.2,224.5 192.9,224.2" fill="#000" stroke-width="0.4"/>
<polygon points="163.2,242.9 165.4,241.3 167.0,241.0 168.7,240.3 170.5,240.7 171.1,240.5 174.1,241.4 172.9,243.1 171.1,243.5 169.0,244.8 168.1,244.4 166.1,244.3 164.7,245.0"/>
<polygon points="201.7,233.1 202.9,229.5 204.1,226.6 205.7,225.4 206.1,227.1 204.9,230.1 204.1,233.1 202.9,234.0" fill="#000" stroke-width="0.4"/>
<polygon points="207.7,236.9 209.2,236.4 209.4,237.8 208.3,238.4" fill="#000" stroke-width="0.4"/>
<polyline points="213.0,132.0 214.0,130.9 215.8,130.7 216.2,130.1 217.8,129.1 219.1,128.3 221.0,129.4 221.6,126.9 221.3,124.8 223.6,124.7 226.1,125.0 228.1,124.6 229.3,123.3 230.2,122.2 232.0,120.8 232.9,120.0 233.2,118.7 235.5,116.3 238.1,116.1 239.5,117.7 241.9,116.2 242.5,119.1 241.6,121.5 244.6,121.4 245.7,121.9 247.4,121.7 250.1,122.7 252.3,124.2 254.3,123.3 256.1,122.4 258.1,122.2 259.5,121.6 261.5,121.4 263.7,120.3 265.5,119.5 266.9,118.5 268.7,118.3 270.6,117.2 272.1,115.9 273.8,115.2 275.9,114.5 276.5,113.6 278.6,112.5 278.9,110.5 280.4,109.5 282.8,109.0 283.4,107.7 284.5,106.1 285.1,104.9 286.1,103.7 286.5,103.0"/>
<polygon points="234.1,117.8 236.1,115.8 238.1,116.3 237.7,119.0 235.8,120.8 234.3,119.8" fill="#000" stroke-width="0.4"/>
<polyline points="95.1,247.0 95.8,248.5 96.4,250.5 97.4,251.3 97.7,252.5 99.8,254.2 101.2,254.6 102.2,256.5 102.8,257.4 104.1,258.5 105.6,259.4 107.1,261.1 107.7,261.9 108.2,262.9 109.6,264.9 108.5,266.5 106.1,266.1 105.2,266.4 104.1,265.3 102.1,264.4 101.1,263.6 99.5,262.5 97.8,262.3 96.5,261.7 94.1,260.2 92.3,259.1 91.1,259.2 89.4,259.4 86.9,260.3 85.0,261.2"/>
<polygon points="100.0,263.4 101.5,262.9 102.9,263.8 104.5,264.7 106.1,265.5 107.7,265.3 108.2,266.7 107.2,267.0 105.0,267.0 103.0,266.6 101.0,264.3"/>
<polyline points="85.0,266.6 87.2,266.0 88.5,267.0 89.4,268.0 90.8,269.4 92.2,270.6 91.4,273.4 89.6,274.5 86.8,273.5 85.0,274.0"/>
<polygon points="93.1,267.4 95.4,266.9 95.9,268.6 93.5,269.0" fill="#000" stroke-width="0.4"/>
<polygon points="89.1,270.7 91.5,270.5 91.9,272.5 89.7,273.1" fill="#000" stroke-width="0.4"/>
<polyline points="109.3,264.8 108.1,266.6 107.9,267.9 106.8,269.0 108.3,271.0 108.8,272.3 109.2,275.2 107.7,275.6 106.4,276.4 104.9,276.4 102.3,277.0 100.9,278.2 99.5,279.4 97.3,280.2 96.6,281.1 94.8,281.1 93.6,282.3 91.7,282.7 89.6,282.1 88.2,283.1 86.3,283.2 85.0,283.1"/>
<polyline points="92.1,284.7 94.3,283.4 95.8,282.7 97.4,281.7 99.0,281.6 101.0,281.6 101.8,282.3 103.6,282.9 104.6,284.7 106.1,285.2 106.9,286.2 108.1,285.5 109.6,285.7 111.2,285.0 112.8,284.4 114.3,285.4 113.6,286.5 111.3,287.4 109.6,287.5 110.0,290.1 108.1,291.6 108.8,294.9 110.3,296.8 107.6,297.1 106.9,298.5 106.2,300.0 107.2,302.6 104.9,303.4 103.7,304.8 102.4,305.8 104.6,308.4 103.0,309.1 102.0,308.8 99.3,307.9 97.7,310.9 95.4,311.7 94.0,311.8 92.3,310.9 92.9,311.8 94.4,313.9 93.3,314.4 93.1,316.2 93.1,318.1 92.1,319.1"/>
<polygon points="109.3,284.0 112.9,283.7 114.6,285.5 112.9,287.1 109.9,286.7" fill="#000" stroke-width="0.4"/>
<polygon points="104.0,291.4 106.9,290.9 109.3,292.0 108.7,295.6 106.3,296.8 104.2,295.0" fill="#000" stroke-width="0.4"/>
<polygon points="102.8,296.8 105.7,297.4 106.3,300.3 104.0,300.9" fill="#000" stroke-width="0.4"/>
<polygon points="98.0,307.4 101.0,306.9 101.6,309.2 99.0,309.8" fill="#000" stroke-width="0.4"/>
<polyline points="106.9,300.0 106.1,301.9 106.3,304.1 106.5,305.8 104.7,306.2 104.2,308.1 103.0,308.4 101.7,309.7 98.8,308.7 97.8,309.7 96.8,310.9 94.2,311.5 92.3,310.2 93.2,311.5 93.4,313.5 93.0,315.0 93.1,316.4 92.9,318.3 90.5,320.0 90.7,322.1 87.9,323.0 87.4,324.3 86.3,325.1 85.0,326.7"/>
<polygon points="99.2,307.1 102.2,305.3 105.1,304.7 106.1,306.5 104.0,308.9 101.0,310.4 99.0,309.5" fill="#000" stroke-width="0.4"/>
<polygon points="91.5,310.4 94.2,310.1 94.7,312.1 92.3,312.4" fill="#000" stroke-width="0.4"/>
<polyline points="85.0,367.6 85.6,365.3 87.0,364.1 87.3,362.6 88.3,360.4 89.0,359.0 90.5,357.9 90.6,356.9 91.9,355.8 92.9,354.4 94.0,352.8 95.8,350.7 96.8,349.6 97.8,348.3 99.4,348.5 101.5,347.8 102.1,346.3 104.4,345.2 106.0,346.3 107.4,346.7 108.4,347.8 109.5,348.7 109.9,350.7 109.0,352.1 109.1,353.6 108.2,355.3 107.2,357.8 107.1,359.0 105.9,360.6 105.8,362.8 104.9,364.3 104.7,366.6 104.3,368.2 103.1,369.5 102.8,372.1"/>
<polyline points="86.2,366.4 86.1,368.1 85.8,369.5 86.2,372.1"/>
<polygon points="131.2,358.1 133.0,356.9 135.4,357.5 134.8,359.3 132.4,359.9" fill="#000" stroke-width="0.4"/>
<polygon points="136.6,356.9 138.3,355.1 140.5,354.5 140.1,356.9 138.3,358.7 136.9,358.3" fill="#000" stroke-width="0.4"/>
<polygon points="151.4,351.0 153.1,351.2 154.9,353.6 152.0,353.9" fill="#000" stroke-width="0.4"/>
<polygon points="182.2,335.0 183.4,331.4 185.1,328.4 187.5,327.0 189.3,325.5 191.4,325.8 191.1,328.4 189.3,330.2 187.5,332.0 185.7,334.4 184.0,336.5 182.4,336.5" fill="#000" stroke-width="0.4"/>
<polygon points="201.7,308.1 204.1,306.2 207.1,304.7 208.9,305.0 208.3,307.1 205.9,308.9 204.1,310.4 202.6,309.7" fill="#000" stroke-width="0.4"/>
<polygon points="197.6,313.0 199.4,312.4 200.2,314.5 199.0,316.0 197.8,315.2" fill="#000" stroke-width="0.4"/>
<polyline points="103.0,369.6 102.5,371.2 101.6,373.5 100.4,374.4 99.9,376.6 99.0,378.2 97.4,380.3 96.7,381.1 96.4,383.0 95.8,384.4 96.0,385.9 95.5,387.5 95.4,389.5 93.7,388.7 93.5,387.3 92.9,385.9 92.6,383.8 90.9,382.9 89.8,381.5 89.3,380.5 87.6,379.2 86.9,378.8 86.0,376.9 86.4,375.2 85.5,373.8 86.2,371.3"/>
<polyline points="224.8,231.3 225.7,229.6 228.1,228.7 229.6,228.9 230.1,227.8 231.9,227.6 233.0,226.5 234.5,225.6 236.0,225.5 236.9,224.3 238.8,223.0 240.2,222.7 241.1,221.0 242.9,220.0 243.8,219.3 245.5,217.6 246.3,216.5 247.8,216.5 249.5,215.7 251.3,215.5 252.3,214.9 255.0,215.5 256.1,215.3 258.2,215.3 259.9,215.1 261.6,215.3 263.0,214.8 265.7,215.0 267.4,214.4 269.1,214.3 270.9,213.1 272.5,213.1 274.3,212.9 275.9,213.3 277.8,212.4 279.5,213.0 281.2,214.7 282.4,215.9 284.4,215.4 287.5,214.9 289.0,214.0 291.0,212.7"/>
<polygon points="253.2,205.6 254.6,204.7 256.3,205.4 256.3,206.9 254.7,207.8 253.4,207.1" fill="#000" stroke-width="0.4"/>
<polygon points="252.8,214.6 254.7,214.3 255.9,215.5 254.7,216.7 253.0,216.2" fill="#000" stroke-width="0.4"/>
<polyline points="224.8,231.3 225.3,233.2 226.6,234.5 229.5,235.2 232.1,234.6 234.6,235.1 238.0,235.7 240.4,235.9 242.7,235.8 244.7,234.5 244.4,232.6 243.5,230.6 242.3,230.5 241.5,232.3 241.6,234.3 243.8,235.3 245.7,234.9 246.8,234.7 248.1,233.8 249.3,232.5 251.4,232.2 251.9,231.4 253.6,231.1 255.1,230.2 257.7,230.2 258.7,229.4 260.6,229.3 262.2,228.8 263.8,227.8 265.0,227.4 266.4,226.4 267.7,226.1 269.2,224.9 271.8,224.6 274.4,225.6 275.4,227.4 277.7,226.4 279.3,226.4 280.4,225.4 282.5,226.0 283.2,227.6 281.6,229.2 279.3,229.8 278.4,231.7 278.6,233.5 277.8,235.6 279.1,237.6 281.7,238.5 284.3,240.0 286.0,241.9 288.3,240.8 289.6,239.7 291.0,237.6"/>
<polygon points="273.6,230.0 276.0,229.1 278.5,228.1 279.9,228.7 279.0,230.0 277.0,231.2 274.9,231.9"/>
<polyline points="243.9,248.0 244.6,246.4 244.5,243.8 245.3,242.3 246.5,240.3 248.0,238.8 249.7,236.2 250.5,235.7 252.4,234.7 254.6,235.6 256.9,235.4 259.5,234.8 260.8,232.7 263.0,232.0 265.5,231.8 268.3,231.7 268.9,232.2 270.6,233.1 272.0,234.1 273.4,236.3 272.2,238.5 270.7,237.1 269.6,239.6 268.6,241.3 266.5,242.2 266.5,244.3 264.5,242.6 262.6,241.6 260.5,240.8 258.6,241.2 256.9,241.9 255.1,243.4 254.4,245.2 252.4,247.0 251.9,248.0"/>
<polyline points="206.6,243.8 208.4,243.2 210.2,242.3 211.0,240.8 213.0,240.5 214.3,239.9 215.1,239.1 216.4,239.1 218.2,237.8 219.4,237.2 220.3,237.1 222.2,236.7 223.4,235.9 225.0,234.6 227.0,236.2 227.7,237.1 229.5,236.9 230.7,238.0 232.3,239.8 233.9,241.0 233.4,243.1 234.8,245.5 236.8,246.7 237.7,248.0"/>
<polygon points="208.3,237.1 209.7,236.5 210.8,237.6 210.1,238.9 208.6,238.6" fill="#000" stroke-width="0.4"/>
<polygon points="205.5,244.2 207.4,243.1 209.2,242.7 210.3,243.8 209.7,245.6 208.3,247.0 206.4,247.3" fill="#000" stroke-width="0.4"/>
<polyline points="237.7,248.0 238.3,248.5 237.1,250.6 235.9,252.5 234.2,254.5 233.3,257.0 232.2,258.9 231.1,261.9 230.9,263.5 229.8,265.8 228.5,267.3 227.2,269.0 224.4,270.7 223.0,271.5 222.4,272.7 220.7,272.1 219.7,270.1 217.5,269.8 215.8,269.6 214.3,268.2 215.9,266.2 216.7,264.3 216.5,262.2 215.8,260.3 215.8,257.7 214.7,256.4 213.2,257.2 212.3,255.8 213.4,254.3 213.1,251.9 211.5,250.7 209.6,248.7 208.0,247.2 206.8,245.3 205.3,244.3 207.3,242.9 208.6,242.0 210.1,242.0"/>
<polygon points="217.0,244.4 218.6,245.8 220.1,247.7 221.2,249.4 221.6,250.8 221.3,252.4 220.3,255.1 219.6,256.5 218.0,258.2 217.0,256.4 217.6,254.3 216.5,251.9 216.4,250.0 216.1,247.5 215.9,245.1"/>
<polyline points="209.7,246.9 211.1,246.4 212.4,248.5 211.4,250.7 213.4,252.3 214.2,255.0 213.0,256.4 211.5,256.0 211.9,253.3 211.2,252.5 211.0,249.8 209.9,248.8"/>
<polygon points="220.3,264.2 222.1,263.3 223.3,265.1 223.6,267.3 222.6,269.1 221.2,268.2 220.3,266.0" fill="#000" stroke-width="0.4"/>
<polyline points="251.9,248.0 252.1,249.8 249.7,250.6 247.9,250.7 246.7,249.5 246.1,246.9 243.9,248.0"/>
<polygon points="195.0,250.9 196.8,250.3 199.0,250.6 198.6,252.7 196.3,253.3 195.0,252.9" fill="#000" stroke-width="0.4"/>
<polygon points="200.3,247.3 201.7,245.1 202.6,246.0 202.1,248.2 200.8,249.6" fill="#000" stroke-width="0.4"/>
<polygon points="223.9,280.7 224.8,278.0 226.1,275.3 227.0,275.8 226.6,278.4 225.7,281.1 224.5,282.0" fill="#000" stroke-width="0.4"/>
<polygon points="218.1,281.0 219.7,280.6 220.7,280.4 221.7,282.2 220.3,283.3 218.5,283.0"/>
<polyline points="339.8,158.5 340.2,157.0 340.1,154.8 340.0,152.6 339.7,150.4 340.4,148.8 341.8,148.7 343.1,148.2 345.3,147.1 345.2,144.9 344.1,143.5 345.4,142.2 347.0,141.8 348.6,143.5 348.7,144.9 349.3,146.6 350.9,147.4 351.5,147.3 351.0,145.5 350.3,144.3 350.8,142.7 351.3,141.2 352.7,139.2 354.3,139.8 355.4,139.9 357.5,140.1 358.9,140.3 358.8,142.4 358.7,143.6 358.3,145.7 358.0,147.2 358.1,148.8 359.9,151.0 360.4,152.2 362.8,153.5 363.1,155.2 364.3,156.7 365.3,158.6 365.9,161.0"/>
<polygon points="352.4,141.4 353.9,141.0 355.7,141.0 356.4,142.4 355.9,145.1 355.6,146.1 353.1,146.5 352.3,145.9 350.7,144.2 351.8,142.9"/>
<polygon points="336.3,158.3 338.6,158.1 341.6,158.5 341.3,160.0 339.2,160.3 336.9,159.7" fill="#000" stroke-width="0.4"/>
<polyline points="340.6,160.0 340.1,157.9 338.7,158.7 339.1,159.4 340.9,159.4 341.2,160.9 341.2,164.1 341.2,165.7 340.6,167.0"/>
<polyline points="365.9,161.0 366.6,163.6 365.9,165.3 365.0,167.0"/>
<polyline points="340.6,167.0 339.5,168.1 339.3,169.2 339.0,170.7 338.3,172.8 337.0,173.2 336.5,174.7 335.9,175.8 335.1,178.0 334.6,178.9 333.7,180.5 333.0,181.4 331.9,182.5 330.9,183.8 329.8,184.0 327.9,184.9 326.8,185.5 325.6,186.4 324.8,187.8 324.6,189.4 323.6,190.6 321.9,192.0 320.4,192.3 319.0,193.8 317.2,194.4 316.6,195.0 314.9,195.2 313.3,196.3 311.6,196.0 311.0,196.7 309.0,197.6 308.0,198.2 305.8,199.5 303.7,199.3 301.9,197.8 302.3,196.4 300.6,195.4 299.0,193.7 298.8,192.5 300.1,191.5 302.5,191.1 304.6,189.9 306.9,189.9 305.4,191.5 303.6,193.1 302.3,193.7"/>
<polyline points="299.2,194.1 299.7,196.5 299.5,197.7 298.4,200.6 296.6,201.8 296.0,202.2 294.8,204.4 293.5,204.9 292.4,205.7 290.1,207.8 289.0,210.2 290.0,212.1 289.2,213.6 287.2,215.1 284.9,216.0 282.8,215.8 280.2,214.8 279.1,213.5 277.4,212.8"/>
<polygon points="318.5,186.4 318.4,183.3 319.9,181.7 321.2,179.0 322.3,179.9 321.9,182.4 322.4,183.9 322.1,185.0 320.1,186.3"/>
<polygon points="288.9,220.4 288.8,218.5 289.5,218.0 290.9,215.9 292.6,217.0 292.9,218.2 292.0,220.4 290.3,220.6"/>
<polyline points="365.0,167.0 365.9,168.3 364.4,170.7 362.8,173.2 361.3,174.1 359.8,177.1 359.4,178.4 357.0,178.7 355.1,178.4 353.4,180.4 352.0,182.8 352.7,186.1 353.5,187.9 353.3,190.9 353.2,193.7 352.6,194.9 351.6,196.4 350.6,198.1 349.4,201.3 348.5,201.8 348.7,203.2 347.9,206.1 348.3,207.5 349.0,209.2 350.8,210.5 351.7,213.0 350.3,213.9 348.2,214.7 346.6,216.1 345.7,218.5 345.0,220.5 344.1,221.0"/>
<polygon points="336.5,217.0 337.7,214.6 339.4,213.3 341.5,213.1 342.3,214.4 341.7,216.8 340.5,215.3 339.0,216.1 338.2,217.7 337.0,219.8"/>
<polygon points="343.7,207.9 345.3,207.2 346.5,208.3 345.9,209.7 344.1,209.5" fill="#000" stroke-width="0.4"/>
<polyline points="344.1,221.0 343.2,222.4 342.0,223.1 340.0,222.7 339.2,221.8 339.3,220.3 340.1,218.3 341.0,217.1"/>
<polyline points="336.7,219.8 336.5,221.2 334.4,220.2 332.6,221.2 330.6,222.0 329.6,224.1 328.3,226.0 327.8,227.1 325.8,226.4 324.8,224.9 324.5,222.6 322.4,221.3 320.8,222.8 319.5,223.5 318.7,226.0 317.3,226.3 316.1,227.0 314.2,226.1 312.5,226.3 311.6,226.1 309.4,225.3 306.2,225.5 303.8,225.0 302.1,224.5 300.1,223.2 300.5,221.7 299.5,220.7 297.5,220.9 296.1,222.0 297.4,224.3 299.3,225.1 300.7,227.1 301.7,228.3 300.7,230.1 299.5,231.4 298.4,232.6 297.0,233.6 295.9,234.6 294.9,235.2 293.9,236.0 292.8,237.4 291.0,238.4"/>
</g>
</g>
<rect x="85.50" y="31.50" width="383.10" height="382.70" fill="none" stroke="#000" stroke-width="1.15"/>
<text x="277.05" y="25.5" font-size="12" text-anchor="middle" textLength="216.6" lengthAdjust="spacingAndGlyphs">IMERG_NRT estimates for 20260402</text>
<text x="149.7" y="425.3" font-size="9" text-anchor="middle" fill="#111" textLength="22.8" lengthAdjust="spacingAndGlyphs">125°E</text>
<text x="213.45" y="425.3" font-size="9" text-anchor="middle" fill="#111" textLength="22.8" lengthAdjust="spacingAndGlyphs">130°E</text>
<text x="277.2" y="425.3" font-size="9" text-anchor="middle" fill="#111" textLength="22.8" lengthAdjust="spacingAndGlyphs">135°E</text>
<text x="340.95" y="425.3" font-size="9" text-anchor="middle" fill="#111" textLength="22.8" lengthAdjust="spacingAndGlyphs">140°E</text>
<text x="404.7" y="425.3" font-size="9" text-anchor="middle" fill="#111" textLength="22.8" lengthAdjust="spacingAndGlyphs">145°E</text>
<text x="80.9" y="351.90000000000003" font-size="9" text-anchor="end" fill="#111" textLength="18.8" lengthAdjust="spacingAndGlyphs">25°N</text>
<text x="80.9" y="288.07500000000005" font-size="9" text-anchor="end" fill="#111" textLength="18.8" lengthAdjust="spacingAndGlyphs">30°N</text>
<text x="80.9" y="224.25" font-size="9" text-anchor="end" fill="#111" textLength="18.8" lengthAdjust="spacingAndGlyphs">35°N</text>
<text x="80.9" y="160.42499999999998" font-size="9" text-anchor="end" fill="#111" textLength="18.8" lengthAdjust="spacingAndGlyphs">40°N</text>
<text x="80.9" y="96.6" font-size="9" text-anchor="end" fill="#111" textLength="18.8" lengthAdjust="spacingAndGlyphs">45°N</text>
<clipPath id="clipR"><rect x="555.5" y="31.5" width="382.20" height="382.00"/></clipPath>
<g clip-path="url(#clipR)">
<rect x="555.50" y="31.50" width="383.10" height="382.70" fill="#fff" stroke="none" stroke-width="1"/>
<clipPath id="tc20"><rect x="779.00" y="80.00" width="128.00" height="72.00"/></clipPath>
<g clip-path="url(#tc20)">
<rect x="778.50" y="79.50" width="129.00" height="73.00" fill="#fff" stroke="none" stroke-width="1"/>
<polygon points="782.6,139.3 782.0,131.0 786.1,127.4 786.7,109.6 790.9,105.5 794.4,100.1 798.0,96.6 803.9,94.8 808.6,93.0 814.6,91.3 818.1,89.2 826.4,88.9 831.1,89.5 834.7,88.3 838.3,89.5 840.6,92.4 845.4,94.2 852.5,94.0 859.6,93.0 866.7,91.9 873.8,92.4 879.7,94.8 885.7,96.6 891.6,97.8 897.5,100.1 901.1,104.9 902.9,109.6 904.6,115.6 904.6,122.7 903.4,127.4 902.3,132.1 898.7,135.7 895.1,138.1 891.6,140.4 888.0,144.0 884.5,146.4 880.9,148.1 873.8,148.7 866.7,148.1 862.0,148.5 857.2,149.9 853.7,152.1 779.0,152.1 779.0,142.8" fill="#ffe6b8" stroke="#ffe6b8" stroke-width="0.6" stroke-linejoin="round"/>
<polygon points="790.9,136.9 794.4,132.1 799.1,128.6 803.9,125.0 808.6,121.5 813.4,120.3 818.1,120.9 822.9,121.5 826.4,120.9 831.1,120.3 835.9,119.1 839.4,116.7 841.8,113.2 844.2,109.6 847.7,106.7 852.5,103.7 857.2,100.7 862.0,98.4 866.7,97.2 871.4,96.6 876.2,96.6 880.9,97.8 885.7,99.0 890.4,100.1 895.1,101.9 898.7,104.9 900.5,109.6 901.7,115.6 902.3,121.5 902.9,127.4 901.1,132.1 897.5,135.1 894.0,138.1 890.4,140.4 886.9,144.0 883.3,146.4 879.7,148.1 873.8,148.7 866.7,148.1 862.0,148.5 857.2,149.9 853.7,152.1 783.7,152.1 787.3,146.4 789.7,141.6" fill="#d6ffc6" stroke="#d6ffc6" stroke-width="0.6" stroke-linejoin="round"/>
<polygon points="793.2,141.6 796.8,135.7 800.3,131.0 804.5,126.8 808.6,123.3 813.4,121.5 818.1,122.1 822.9,122.7 827.6,122.1 832.3,121.2 836.5,119.7 840.0,117.3 842.4,113.8 844.8,110.2 848.3,107.5 853.1,104.9 857.8,101.9 862.6,99.6 867.3,98.4 872.0,97.8 876.2,98.0 880.9,99.0 885.7,100.4 890.4,101.9 894.0,103.7 896.9,106.7 898.7,110.8 899.9,115.6 900.5,121.5 901.1,127.4 899.3,131.6 896.3,134.5 892.8,137.5 889.2,139.9 885.7,143.4 882.1,145.8 878.6,147.8 873.8,148.7 853.7,152.1 788.5,152.1 790.9,147.0" fill="#8cfa8c" stroke="#8cfa8c" stroke-width="0.6" stroke-linejoin="round"/>
<polygon points="802.7,152.1 804.5,147.6 806.3,142.8 809.8,139.3 814.6,135.7 819.3,132.1 824.0,129.8 828.8,127.4 833.5,125.6 838.3,125.0 843.0,123.9 847.7,122.1 852.5,120.3 857.2,118.5 862.0,116.7 866.7,115.6 870.3,114.4 873.8,113.2 878.6,110.8 883.3,109.0 888.0,108.4 891.6,110.8 893.4,115.6 892.8,120.3 893.4,125.0 894.6,129.8 892.8,134.5 890.4,138.1 886.9,141.6 883.3,144.6 879.7,147.0 873.8,148.5 853.7,152.1" fill="#5cffff" stroke="#5cffff" stroke-width="0.6" stroke-linejoin="round"/>
<polygon points="818.1,152.1 821.7,147.6 826.4,142.8 830.0,139.3 833.5,136.9 838.3,135.7 843.0,135.1 847.7,133.3 851.3,131.0 854.9,127.4 859.6,125.0 864.3,123.3 867.9,123.9 870.3,126.2 873.8,127.4 877.4,126.8 880.9,125.0 884.5,124.4 888.0,126.2 890.4,129.8 891.0,133.3 889.2,136.9 885.7,140.4 882.1,144.0 878.6,146.4 873.8,148.1 853.7,152.1" fill="#00c8ff" stroke="#00c8ff" stroke-width="0.6" stroke-linejoin="round"/>
<polygon points="831.1,152.1 834.7,148.7 839.4,145.2 844.2,141.6 847.7,138.1 851.3,134.5 854.9,131.0 858.4,128.0 862.0,126.2 865.5,126.2 867.3,128.6 868.5,132.1 870.3,135.7 872.6,138.1 877.4,138.1 880.3,139.3 880.9,141.6 878.6,144.6 875.0,146.4 870.3,147.6 865.5,147.8 860.8,148.1 856.0,149.9 852.5,152.1" fill="#0064ff" stroke="#0064ff" stroke-width="0.6" stroke-linejoin="round"/>
</g>
<clipPath id="tc21"><rect x="747.00" y="152.00" width="128.00" height="72.00"/></clipPath>
<g clip-path="url(#tc21)">
<rect x="746.50" y="151.50" width="129.00" height="73.00" fill="#fff" stroke="none" stroke-width="1"/>
<polygon points="776.0,152.0 848.9,152.0 847.7,156.7 846.6,160.9 850.1,163.9 853.7,167.4 856.0,172.1 857.2,178.1 856.6,184.0 854.3,188.7 853.7,193.5 850.1,198.2 845.4,201.8 843.6,206.5 843.6,213.6 843.0,218.4 840.6,221.9 839.4,224.1 747.0,224.1 747.0,181.0 749.4,179.9 754.1,178.7 760.0,176.3 763.6,172.1 767.1,168.0 771.9,165.0 775.4,161.5 776.6,156.7" fill="#ffe6b8" stroke="#ffe6b8" stroke-width="0.6" stroke-linejoin="round"/>
<polygon points="782.6,152.0 848.9,152.0 847.7,156.7 846.6,160.9 850.1,163.9 853.7,167.4 856.0,172.1 857.2,178.1 856.6,184.0 854.3,188.7 853.7,193.5 850.1,198.2 845.4,201.8 843.6,206.5 843.6,213.6 843.0,218.4 840.6,221.9 839.4,224.1 747.0,224.1 747.0,181.0 749.4,179.9 755.3,178.3 761.2,175.7 764.8,171.6 768.9,167.4 773.7,164.4 777.8,160.9 780.2,156.7" fill="#d6ffc6" stroke="#d6ffc6" stroke-width="0.6" stroke-linejoin="round"/>
<polygon points="784.9,152.0 848.9,152.0 847.7,156.7 846.6,160.9 850.1,163.9 853.7,167.4 856.0,172.1 857.2,178.1 856.6,184.0 854.3,188.7 853.7,193.5 850.1,198.2 845.4,201.8 843.6,206.5 843.6,213.6 843.0,218.4 840.6,221.9 839.4,224.1 747.0,224.1 747.0,181.6 750.6,180.4 756.5,178.7 762.4,175.7 766.0,171.6 770.7,167.4 775.4,164.4 780.2,160.9 782.6,156.7" fill="#8cfa8c" stroke="#8cfa8c" stroke-width="0.6" stroke-linejoin="round"/>
<polygon points="788.5,152.0 848.9,152.0 847.7,156.7 846.6,160.9 848.9,163.9 851.3,167.4 853.1,172.1 854.3,178.1 856.6,184.0 854.3,188.7 853.7,193.5 850.1,198.2 845.4,201.8 843.6,206.5 843.6,213.6 843.0,218.4 840.6,221.9 839.4,224.1 747.0,224.1 747.0,197.0 751.7,195.3 756.5,192.3 761.2,188.7 766.0,185.2 770.7,181.6 774.9,177.5 776.6,173.3 776.0,168.6 779.0,165.6 783.7,163.9 786.7,160.3 787.9,156.1" fill="#5cffff" stroke="#5cffff" stroke-width="0.6" stroke-linejoin="round"/>
<polygon points="747.0,181.6 750.6,180.4 756.5,179.0 760.0,179.9 758.9,184.0 755.3,187.6 751.7,191.1 747.0,192.9" fill="#5cffff" stroke="#5cffff" stroke-width="0.6" stroke-linejoin="round"/>
<polygon points="813.4,152.0 811.0,156.7 806.3,159.7 800.3,160.9 795.6,162.7 792.0,165.0 788.5,168.0 786.1,171.0 783.7,174.5 781.4,178.1 777.8,181.6 774.3,184.6 771.9,187.6 770.7,192.3 767.1,195.9 762.4,197.6 758.9,200.6 754.1,203.0 750.6,204.1 748.2,207.7 749.4,212.4 747.0,214.8 747.0,224.1 839.4,224.1 840.6,221.9 841.8,218.4 841.8,213.6 842.4,206.5 844.2,201.8 848.9,197.6 852.5,193.5 853.1,188.7 855.4,184.0 852.5,180.4 847.7,181.0 844.2,178.1 845.4,174.5 847.7,171.0 845.4,166.2 843.0,163.3 841.8,160.3 845.4,156.7 846.6,152.0" fill="#00c8ff" stroke="#00c8ff" stroke-width="0.6" stroke-linejoin="round"/>
<polygon points="822.9,152.0 847.7,152.0 846.6,156.7 844.2,161.5 840.6,163.3 837.1,165.0 835.9,168.6 839.4,169.8 843.0,171.6 845.4,174.5 844.8,177.5 847.7,181.0 852.5,180.4 855.4,184.0 853.1,188.7 852.5,193.5 848.9,197.6 844.2,201.8 842.4,206.5 841.8,213.6 841.8,218.4 840.6,221.9 839.4,224.1 776.6,224.1 775.4,219.6 776.0,214.8 777.8,210.1 775.4,206.5 772.5,207.7 770.1,204.1 769.5,200.6 771.9,197.0 771.3,193.5 775.4,189.9 779.0,186.4 782.6,183.1 786.7,180.4 789.7,176.9 792.0,173.3 794.4,169.8 798.0,167.4 802.1,165.3 806.3,163.9 808.6,163.9 811.0,159.1 813.4,156.7 818.1,154.4" fill="#0064ff" stroke="#0064ff" stroke-width="0.6" stroke-linejoin="round"/>
<polygon points="782.6,199.4 787.3,198.2 792.0,199.4 795.6,200.6 799.1,197.0 802.7,194.1 806.3,193.5 809.8,195.3 809.2,199.4 808.0,204.1 806.3,207.7 802.7,208.9 799.1,207.7 795.6,206.5 792.0,207.7 789.7,210.1 786.1,207.7 782.6,205.3 779.0,204.1" fill="#00c8ff" stroke="#00c8ff" stroke-width="0.6" stroke-linejoin="round"/>
<polygon points="808.0,207.7 809.8,204.1 813.4,200.6 816.9,197.6 820.5,194.7 824.0,192.3 828.8,190.5 832.3,187.6 835.9,185.2 840.6,183.4 845.4,182.8 847.7,185.2 845.4,188.7 841.8,192.3 838.3,195.9 834.7,199.4 831.1,203.0 827.6,206.5 824.0,208.3 819.3,208.9 814.6,208.7 811.0,208.3" fill="#00c8ff" stroke="#00c8ff" stroke-width="0.6" stroke-linejoin="round"/>
<polygon points="830.0,181.6 832.3,179.3 837.1,178.7 841.8,179.9 845.4,181.6 840.6,183.4 835.9,185.2 832.3,186.4" fill="#00c8ff" stroke="#00c8ff" stroke-width="0.6" stroke-linejoin="round"/>
<polygon points="750.6,211.3 752.9,207.7 756.5,208.3 757.7,211.3 755.9,214.2 752.3,214.8" fill="#0064ff" stroke="#0064ff" stroke-width="0.6" stroke-linejoin="round"/>
<polygon points="825.8,216.2 828.8,216.0 828.5,217.8 827.4,218.6 826.2,217.8" fill="#9664ff" stroke="#9664ff" stroke-width="0.6" stroke-linejoin="round"/>
</g>
<clipPath id="tc22"><rect x="651.00" y="152.00" width="96.00" height="72.00"/></clipPath>
<g clip-path="url(#tc22)">
<rect x="650.50" y="151.50" width="97.00" height="73.00" fill="#fff" stroke="none" stroke-width="1"/>
<polygon points="747.0,179.9 743.4,181.6 738.7,184.0 734.0,187.0 729.2,188.1 722.1,188.1 715.0,188.5 710.3,189.3 705.5,189.9 700.8,191.7 697.2,194.7 694.9,197.6 692.5,201.2 690.7,205.3 690.1,208.9 686.6,211.3 683.0,213.6 679.4,214.8 675.9,217.2 673.5,220.1 671.1,224.1 747.0,224.1" fill="#ffe6b8" stroke="#ffe6b8" stroke-width="0.6" stroke-linejoin="round"/>
<polygon points="747.0,179.9 743.4,181.6 738.7,184.0 734.0,187.0 730.4,189.9 726.9,192.9 723.3,194.1 719.7,192.3 716.2,189.9 710.3,189.3 705.5,189.9 700.8,191.7 697.2,194.7 694.9,197.6 692.5,201.2 690.7,205.3 690.1,208.9 686.6,211.3 683.0,213.6 679.4,214.8 675.9,217.2 673.5,220.1 671.7,224.1 747.0,224.1" fill="#d6ffc6" stroke="#d6ffc6" stroke-width="0.6" stroke-linejoin="round"/>
<polygon points="747.0,180.4 743.4,182.2 738.7,184.6 734.0,187.6 730.4,190.5 726.9,193.5 723.3,194.7 719.7,192.9 716.2,190.5 710.3,189.9 705.5,190.5 700.8,192.3 697.8,195.3 695.4,198.2 693.1,201.8 691.9,205.3 691.3,208.9 687.7,211.3 684.2,213.6 680.6,215.4 677.1,217.8 674.7,220.7 672.9,224.1 747.0,224.1" fill="#8cfa8c" stroke="#8cfa8c" stroke-width="0.6" stroke-linejoin="round"/>
<polygon points="691.9,201.8 696.0,200.0 700.8,201.8 704.3,205.3 703.1,208.9 699.6,210.7 694.9,210.1 691.9,207.1" fill="#d6ffc6" stroke="#d6ffc6" stroke-width="0.6" stroke-linejoin="round"/>
<polygon points="686.0,211.3 690.1,209.5 692.5,212.4 691.9,217.2 688.9,219.0 686.0,216.6" fill="#d6ffc6" stroke="#d6ffc6" stroke-width="0.6" stroke-linejoin="round"/>
<polygon points="699.6,216.6 703.1,216.0 704.6,219.0 703.1,221.9 700.2,221.3" fill="#d6ffc6" stroke="#d6ffc6" stroke-width="0.6" stroke-linejoin="round"/>
<polygon points="700.8,192.9 704.3,191.3 709.1,191.7 711.4,194.1 710.3,197.0 705.5,197.6 702.0,196.4" fill="#5cffff" stroke="#5cffff" stroke-width="0.6" stroke-linejoin="round"/>
<polygon points="672.9,224.1 674.7,220.1 678.3,216.6 681.8,214.8 684.8,216.6 686.0,220.7 685.4,224.1" fill="#5cffff" stroke="#5cffff" stroke-width="0.6" stroke-linejoin="round"/>
<polygon points="747.0,181.0 743.4,183.1 739.9,185.8 736.3,188.1 732.8,190.5 729.8,192.9 728.0,196.4 727.4,200.6 728.0,205.3 728.6,210.1 729.8,213.6 734.0,216.0 738.7,216.6 743.4,216.0 747.0,215.4" fill="#5cffff" stroke="#5cffff" stroke-width="0.6" stroke-linejoin="round"/>
<polygon points="735.7,197.6 738.7,195.3 742.9,195.9 745.2,198.8 744.0,202.4 739.9,203.0 736.3,201.2" fill="#8cfa8c" stroke="#8cfa8c" stroke-width="0.6" stroke-linejoin="round"/>
<polygon points="734.0,207.7 735.7,205.3 739.3,205.1 741.1,207.7 740.5,211.3 737.5,213.0 734.6,211.3" fill="#00c8ff" stroke="#00c8ff" stroke-width="0.6" stroke-linejoin="round"/>
<polygon points="742.9,187.6 745.8,186.4 747.6,186.4 747.6,189.9 744.0,189.7" fill="#00c8ff" stroke="#00c8ff" stroke-width="0.6" stroke-linejoin="round"/>
<polygon points="736.3,191.1 739.3,191.1 739.3,192.9 736.3,192.9" fill="#00c8ff" stroke="#00c8ff" stroke-width="0.6" stroke-linejoin="round"/>
<polygon points="747.6,205.3 745.2,208.9 744.6,213.6 745.8,218.4 747.6,223.1" fill="#00c8ff" stroke="#00c8ff" stroke-width="0.6" stroke-linejoin="round"/>
</g>
<clipPath id="tc23"><rect x="651.00" y="224.00" width="128.00" height="72.00"/></clipPath>
<g clip-path="url(#tc23)">
<rect x="650.50" y="223.50" width="129.00" height="73.00" fill="#fff" stroke="none" stroke-width="1"/>
<polygon points="667.6,224.0 662.9,226.4 656.9,228.7 655.1,233.5 655.1,247.7 656.9,253.6 660.5,257.2 663.4,260.7 664.0,266.7 663.4,273.8 661.1,278.5 659.3,283.3 655.7,285.6 652.2,288.0 651.0,290.4 651.0,296.1 722.1,296.1 724.5,291.6 726.3,286.8 726.9,280.9 727.4,275.0 729.2,272.6 734.0,272.0 739.9,271.4 745.8,270.8 751.7,269.0 757.7,265.5 762.4,260.7 767.1,257.2 771.9,252.4 775.4,250.7 779.0,252.4 779.0,224.0" fill="#ffe6b8" stroke="#ffe6b8" stroke-width="0.6" stroke-linejoin="round"/>
<polygon points="672.3,224.0 674.7,228.7 678.3,232.3 681.8,235.9 685.4,238.2 688.9,241.8 692.5,244.1 696.0,243.0 699.6,241.8 703.1,243.6 706.7,245.9 711.4,245.3 715.0,243.0 719.7,241.8 724.5,242.4 729.2,244.1 734.0,246.5 738.7,248.9 742.3,253.6 744.6,258.4 743.4,263.1 739.9,267.9 736.3,271.4 745.8,270.8 751.7,269.0 757.7,265.5 762.4,260.7 767.1,257.2 771.9,252.4 775.4,250.7 779.0,252.4 779.0,224.0" fill="#d6ffc6" stroke="#d6ffc6" stroke-width="0.6" stroke-linejoin="round"/>
<polygon points="674.7,224.0 678.3,229.9 683.0,234.7 686.6,237.0 690.1,240.6 693.7,242.4 697.2,240.6 700.8,240.0 704.3,241.8 707.9,243.0 712.6,241.8 717.4,239.4 722.1,238.2 726.9,240.0 731.6,242.4 736.3,244.7 739.9,245.3 744.6,244.1 749.4,245.3 751.7,250.1 750.6,256.0 748.2,261.9 744.6,266.7 741.1,269.6 737.5,271.4 745.8,270.8 751.7,269.0 757.7,265.5 762.4,260.7 767.1,257.2 771.9,252.4 775.4,250.7 779.0,252.4 779.0,224.0" fill="#8cfa8c" stroke="#8cfa8c" stroke-width="0.6" stroke-linejoin="round"/>
<polygon points="688.9,231.1 692.5,229.3 694.9,231.1 694.3,234.7 691.3,235.3 689.2,234.1" fill="#5cffff" stroke="#5cffff" stroke-width="0.6" stroke-linejoin="round"/>
<polygon points="724.5,233.5 729.2,231.1 734.0,229.9 738.7,227.6 743.4,226.4 748.2,227.6 745.8,231.1 742.3,234.7 739.9,238.2 736.3,240.6 731.6,240.6 728.0,238.2 725.1,235.9" fill="#5cffff" stroke="#5cffff" stroke-width="0.6" stroke-linejoin="round"/>
<polygon points="747.0,224.0 779.0,224.0 779.0,252.4 775.4,250.7 771.9,252.4 767.1,257.2 762.4,260.7 757.7,265.5 752.9,268.4 748.2,269.6 745.8,266.7 749.4,261.9 751.7,257.2 752.9,252.4 754.1,247.7 755.3,243.0 752.9,239.4 750.6,235.9 748.2,231.1" fill="#5cffff" stroke="#5cffff" stroke-width="0.6" stroke-linejoin="round"/>
<polygon points="749.4,238.2 752.9,237.0 757.7,239.4 760.0,237.0 757.7,241.8 754.1,243.0 751.1,241.2" fill="#8cfa8c" stroke="#8cfa8c" stroke-width="0.6" stroke-linejoin="round"/>
<polygon points="752.9,224.0 779.0,224.0 779.0,251.3 775.4,249.5 771.9,251.3 768.3,254.8 764.8,257.8 761.2,260.7 757.7,263.7 754.1,264.9 751.7,261.9 752.9,258.4 755.3,254.8 757.7,250.1 760.0,245.3 763.6,241.8 767.1,239.4 770.7,235.9 769.5,231.1 766.0,228.7 761.2,229.9 757.7,232.3 754.1,229.9" fill="#00c8ff" stroke="#00c8ff" stroke-width="0.6" stroke-linejoin="round"/>
<polygon points="758.9,249.5 761.2,247.1 764.8,245.9 768.3,246.5 769.5,248.9 767.7,251.9 764.2,253.6 760.6,253.0" fill="#0064ff" stroke="#0064ff" stroke-width="0.6" stroke-linejoin="round"/>
<polygon points="776.0,241.8 779.0,240.0 779.0,244.1 776.6,244.1" fill="#0064ff" stroke="#0064ff" stroke-width="0.6" stroke-linejoin="round"/>
<polygon points="773.1,245.3 776.6,245.3 776.6,247.1 773.1,247.1" fill="#0064ff" stroke="#0064ff" stroke-width="0.6" stroke-linejoin="round"/>
<polygon points="766.0,224.0 779.0,224.0 779.0,226.4 774.3,227.6 769.5,227.0" fill="#0064ff" stroke="#0064ff" stroke-width="0.6" stroke-linejoin="round"/>
<polygon points="666.4,292.7 670.0,292.1 670.6,296.1 666.4,296.1" fill="#d6ffc6" stroke="#d6ffc6" stroke-width="0.6" stroke-linejoin="round"/>
</g>
<clipPath id="tc24"><rect x="779.00" y="224.00" width="128.00" height="72.00"/></clipPath>
<g clip-path="url(#tc24)">
<rect x="778.50" y="223.50" width="129.00" height="73.00" fill="#fff" stroke="none" stroke-width="1"/>
<polygon points="779.0,224.0 841.8,224.0 838.9,228.1 835.3,230.9 831.7,233.2 827.0,235.6 822.3,237.3 818.1,238.8 814.6,240.0 811.0,243.0 808.6,245.9 806.3,248.9 802.7,250.1 798.0,252.4 790.9,252.7 783.7,252.4 779.0,251.9" fill="#5cffff" stroke="#5cffff" stroke-width="0.6" stroke-linejoin="round"/>
<polygon points="784.9,248.3 788.5,245.9 793.2,244.1 798.0,243.0 802.7,241.8 807.4,240.6 810.4,241.8 808.6,245.9 806.3,248.9 802.7,250.1 798.0,252.4 790.9,252.7 784.9,252.4 783.7,250.7" fill="#8cfa8c" stroke="#8cfa8c" stroke-width="0.6" stroke-linejoin="round"/>
<polygon points="841.8,224.0 838.3,227.6 834.7,229.9 831.1,232.3 826.4,234.7 821.7,236.4 816.9,237.6 813.4,238.2 809.8,237.0 806.3,235.9 802.7,237.6 799.1,239.4 795.6,241.2 790.9,243.0 786.1,245.9 782.6,247.7 779.0,248.9 779.0,224.0" fill="#00c8ff" stroke="#00c8ff" stroke-width="0.6" stroke-linejoin="round"/>
<polygon points="779.0,224.0 835.9,224.0 832.3,227.0 828.8,229.3 824.0,231.1 819.3,233.5 814.6,235.3 809.8,234.7 806.3,233.5 802.7,235.3 798.0,237.0 793.2,238.8 788.5,241.2 783.7,243.6 779.0,245.3" fill="#0064ff" stroke="#0064ff" stroke-width="0.6" stroke-linejoin="round"/>
<polygon points="779.0,233.5 782.0,233.7 782.6,235.9 780.8,237.3 779.0,237.3" fill="#00c8ff" stroke="#00c8ff" stroke-width="0.6" stroke-linejoin="round"/>
</g>
<clipPath id="tc25"><rect x="555.00" y="296.00" width="192.00" height="118.00"/></clipPath>
<g clip-path="url(#tc25)">
<rect x="554.50" y="295.50" width="193.00" height="119.00" fill="#fff" stroke="none" stroke-width="1"/>
<polygon points="645.6,296.0 719.9,296.0 717.0,299.9 711.2,303.7 707.3,307.6 706.4,313.4 705.4,319.1 701.5,324.9 695.8,328.8 690.0,332.6 686.1,336.5 683.2,342.3 680.3,348.1 676.5,351.9 672.6,355.8 666.8,360.6 661.0,361.6 651.4,361.6 641.8,361.2 637.9,362.5 636.9,367.3 634.1,372.2 632.1,377.0 627.3,380.8 620.6,383.2 612.8,383.7 603.2,383.7 595.5,382.8 589.7,378.9 583.9,373.1 580.1,367.3 578.1,361.6 579.1,353.8 580.1,346.1 581.0,340.3 585.8,335.5 593.6,332.6 603.2,330.7 612.8,329.7 618.6,331.7 622.5,328.8 626.3,324.9 627.3,320.1 632.1,317.2 637.9,313.4 641.8,309.5 644.7,303.7" fill="#ffe6b8" stroke="#ffe6b8" stroke-width="0.6" stroke-linejoin="round"/>
<polygon points="666.4,301.8 670.7,299.9 676.5,302.7 678.4,306.6 672.6,308.0 667.8,306.6" fill="#d6ffc6" stroke="#d6ffc6" stroke-width="0.6" stroke-linejoin="round"/>
<polygon points="693.8,324.9 698.6,321.1 703.5,319.5 705.0,322.0 701.5,325.9 696.7,327.8" fill="#8cfa8c" stroke="#8cfa8c" stroke-width="0.6" stroke-linejoin="round"/>
<polygon points="686.5,330.7 690.0,327.2 694.2,327.8 693.4,331.7 689.0,333.6" fill="#5cffff" stroke="#5cffff" stroke-width="0.6" stroke-linejoin="round"/>
<polygon points="673.6,341.3 678.4,338.0 683.8,337.5 684.6,342.3 680.3,345.2 675.5,344.6" fill="#8cfa8c" stroke="#8cfa8c" stroke-width="0.6" stroke-linejoin="round"/>
<polygon points="676.5,341.3 680.3,339.4 682.6,341.9 679.4,344.2" fill="#5cffff" stroke="#5cffff" stroke-width="0.6" stroke-linejoin="round"/>
<polygon points="662.0,352.9 666.8,348.4 673.6,347.7 676.5,351.0 672.6,355.8 666.8,357.3 663.0,355.8" fill="#d6ffc6" stroke="#d6ffc6" stroke-width="0.6" stroke-linejoin="round"/>
<polygon points="664.5,352.3 668.8,349.6 673.6,350.0 673.0,353.5 667.8,354.8" fill="#8cfa8c" stroke="#8cfa8c" stroke-width="0.6" stroke-linejoin="round"/>
<polygon points="620.2,378.9 623.4,377.0 627.3,377.9 626.7,381.2 621.5,381.8" fill="#5cffff" stroke="#5cffff" stroke-width="0.6" stroke-linejoin="round"/>
<polygon points="609.0,382.2 612.8,381.8 613.2,383.7 609.4,383.9" fill="#8cfa8c" stroke="#8cfa8c" stroke-width="0.6" stroke-linejoin="round"/>
<polygon points="704.4,314.7 707.3,314.3 707.3,317.2 704.8,317.2" fill="#8cfa8c" stroke="#8cfa8c" stroke-width="0.6" stroke-linejoin="round"/>
</g>
<clipPath id="tc26"><rect x="747.00" y="103.00" width="32.00" height="49.00"/></clipPath>
<g clip-path="url(#tc26)">
<rect x="746.50" y="102.50" width="33.00" height="50.00" fill="#fff" stroke="none" stroke-width="1"/>
<polygon points="790.3,103.0 787.3,106.6 786.1,110.1 786.3,114.9 785.5,119.6 783.7,124.3 782.0,128.5 782.6,132.6 784.3,137.4 784.9,139.7 782.6,142.1 780.2,145.7 779.0,150.4 776.6,154.0 776.0,157.5 777.8,158.7 775.4,162.3 773.1,164.6 769.5,167.6 766.0,170.6 763.6,174.1 763.0,175.1 811.0,175.1 811.0,103.0" fill="#ffe6b8" stroke="#ffe6b8" stroke-width="0.6" stroke-linejoin="round"/>
<polygon points="811.0,119.6 807.4,122.6 803.9,125.5 800.3,128.5 796.8,131.4 793.2,135.0 790.3,138.6 787.3,142.1 784.3,146.3 782.0,150.4 779.6,154.0 777.8,158.1 775.4,162.3 773.1,164.6 769.5,167.6 766.0,170.6 763.6,174.1 763.0,175.1 811.0,175.1" fill="#d6ffc6" stroke="#d6ffc6" stroke-width="0.6" stroke-linejoin="round"/>
<polygon points="811.0,123.1 807.4,125.5 803.9,128.5 800.3,131.4 796.8,135.0 793.8,138.6 790.9,142.1 787.9,145.7 784.9,149.2 782.6,152.8 780.2,156.3 778.4,159.3 776.0,162.3 773.1,164.9 769.5,167.8 766.0,170.8 764.2,175.1 811.0,175.1" fill="#8cfa8c" stroke="#8cfa8c" stroke-width="0.6" stroke-linejoin="round"/>
<polygon points="811.0,137.4 807.4,139.7 803.9,142.1 801.5,145.7 798.0,148.6 794.4,150.4 790.9,151.6 788.5,154.0 787.3,157.5 786.1,161.1 783.7,162.3 780.2,163.4 776.6,164.6 774.3,167.0 773.1,170.6 775.4,172.9 776.6,175.1 811.0,175.1" fill="#5cffff" stroke="#5cffff" stroke-width="0.6" stroke-linejoin="round"/>
<polygon points="811.0,159.9 806.3,161.1 801.5,162.3 796.8,163.4 793.2,165.2 789.7,167.6 786.7,170.0 784.9,172.9 785.5,175.1 811.0,175.1" fill="#00c8ff" stroke="#00c8ff" stroke-width="0.6" stroke-linejoin="round"/>
<polygon points="811.0,162.9 807.4,164.0 803.9,165.8 799.1,167.6 795.6,168.8 792.0,170.6 790.3,172.9 790.9,175.1 811.0,175.1" fill="#0064ff" stroke="#0064ff" stroke-width="0.6" stroke-linejoin="round"/>
</g>
<clipPath id="tc27"><rect x="619.00" y="247.00" width="32.00" height="49.00"/></clipPath>
<g clip-path="url(#tc27)">
<rect x="618.50" y="246.50" width="33.00" height="50.00" fill="#fff" stroke="none" stroke-width="1"/>
<polygon points="653.4,287.3 652.2,288.5 648.6,292.0 645.7,296.8 645.1,301.5 654.6,301.5 654.6,287.3" fill="#ffe6b8" stroke="#ffe6b8" stroke-width="0.6" stroke-linejoin="round"/>
</g>
<line x1="618.50" y1="31.50" x2="618.50" y2="414.20" stroke="#000" stroke-width="1" stroke-opacity="0.21"/>
<line x1="682.50" y1="31.50" x2="682.50" y2="414.20" stroke="#000" stroke-width="1" stroke-opacity="0.21"/>
<line x1="746.50" y1="31.50" x2="746.50" y2="414.20" stroke="#000" stroke-width="1" stroke-opacity="0.21"/>
<line x1="810.50" y1="31.50" x2="810.50" y2="414.20" stroke="#000" stroke-width="1" stroke-opacity="0.21"/>
<line x1="874.50" y1="31.50" x2="874.50" y2="414.20" stroke="#000" stroke-width="1" stroke-opacity="0.21"/>
<line x1="555.50" y1="94.50" x2="938.60" y2="94.50" stroke="#000" stroke-width="1" stroke-opacity="0.21"/>
<line x1="555.50" y1="158.50" x2="938.60" y2="158.50" stroke="#000" stroke-width="1" stroke-opacity="0.21"/>
<line x1="555.50" y1="222.50" x2="938.60" y2="222.50" stroke="#000" stroke-width="1" stroke-opacity="0.21"/>
<line x1="555.50" y1="285.50" x2="938.60" y2="285.50" stroke="#000" stroke-width="1" stroke-opacity="0.21"/>
<line x1="555.50" y1="349.50" x2="938.60" y2="349.50" stroke="#000" stroke-width="1" stroke-opacity="0.21"/>
<g fill="none" stroke="#000" stroke-width="1.5" stroke-linejoin="round" stroke-linecap="round">
<polygon points="607.0,89.8 609.3,90.1 611.6,91.2 611.3,92.6 609.1,92.1 607.4,90.8" fill="#000" stroke-width="0.4"/>
<polygon points="616.4,116.5 618.0,115.8 618.8,117.6 617.3,118.8 616.1,117.9" fill="#000" stroke-width="0.4"/>
<polygon points="640.3,110.4 642.6,109.9 644.8,111.5 644.1,113.6 641.9,112.9 640.5,112.0" fill="#000" stroke-width="0.4"/>
<polygon points="666.7,109.4 667.9,107.6 669.9,106.3 670.9,107.9 669.7,110.1 667.2,110.8" fill="#000" stroke-width="0.4"/>
<polyline points="687.1,71.1 688.5,69.3 690.3,67.9 691.9,67.3 693.2,66.6 694.8,66.3 696.4,65.8 698.3,66.3 699.6,65.6 701.7,66.3 703.2,65.6 705.7,65.2 707.7,65.4 708.7,64.4 710.7,64.3 712.0,62.7 714.0,61.1 714.7,59.6 715.0,58.6 716.4,57.6 717.2,56.9 718.5,55.7 720.6,55.4 721.9,54.5 723.7,54.9 725.5,54.4 727.3,54.3 728.5,54.1 730.1,52.9 731.5,52.6 733.8,52.1 735.5,51.3 736.9,51.3 738.4,50.8 740.2,51.0 741.9,50.9 743.6,51.1 745.4,50.3 746.7,48.6 747.8,48.1 748.9,47.0 750.6,46.3 752.1,46.7 753.7,45.9 755.8,46.1 757.2,45.2 758.9,44.8 760.4,44.0 761.0,42.8 762.3,41.8 764.1,39.5 764.2,38.1 765.1,36.9 766.9,36.4 767.8,36.3 770.0,34.6 769.4,32.6 767.5,32.4 766.1,31.7 764.6,33.1 762.8,33.7 760.6,35.5"/>
<polyline points="696.6,60.0 698.6,59.6 700.4,59.6 701.9,59.2 703.6,59.5 705.4,59.6 706.6,59.6 708.3,59.7 709.8,60.2 712.4,59.3 714.4,59.4"/>
<polygon points="707.6,91.5 709.2,90.5 711.2,90.5 712.6,89.8 714.0,89.3 715.7,90.0 717.7,90.5 717.8,93.7 717.9,94.4 717.4,95.7 716.2,97.8 715.4,98.8 713.3,99.3 711.7,100.6 709.7,99.4 708.3,96.5 709.6,95.5 708.2,94.1"/>
<polyline points="811.0,51.4 809.5,52.6 807.2,53.3 806.1,53.7 804.6,54.8 803.6,56.1 802.9,57.3 801.4,59.3 800.6,59.9 799.1,60.9 798.3,62.1 797.2,64.3 795.9,65.3 794.6,66.7 792.8,67.5 792.4,68.6 791.5,69.5 790.1,71.0 789.5,72.2 789.2,73.6 787.8,75.9 787.1,76.3 785.5,77.5 785.3,79.3 783.4,80.3 783.0,81.1 781.2,82.0 779.8,82.5 779.5,84.1 777.8,85.4 776.6,86.1 775.8,86.2 774.0,87.1 772.8,88.4 771.6,89.2 770.3,90.7 769.4,91.2 768.4,92.6 767.1,93.6 765.7,94.7 764.2,95.7 762.6,97.3 760.7,99.4 759.4,100.5 758.5,101.9 756.5,103.1"/>
<polyline points="811.0,51.1 811.4,49.4 812.2,47.9 812.4,45.9 813.1,43.8 814.2,42.6 814.6,41.3 815.9,39.2 816.4,37.5 816.6,36.2 816.9,34.6 815.7,32.2"/>
<polyline points="837.7,32.2 837.3,34.4 837.3,36.1 837.2,37.3 836.5,39.7 836.2,40.7 834.9,42.8 834.1,44.1 833.3,46.0 834.8,47.7 835.0,49.0 836.3,49.9 837.5,52.2 837.4,54.0 838.2,55.3 837.9,57.4 836.1,58.8 835.9,60.5 835.0,62.2 835.9,63.7 836.2,65.9 835.2,67.6 835.4,69.5 834.3,71.5 834.4,73.0 833.1,73.7 832.5,75.7 833.3,76.9 834.0,79.4 835.3,80.5 835.5,83.0 837.7,81.6 837.8,79.4 839.0,78.3 839.0,77.4 840.2,75.7 840.5,74.6 841.4,73.4 843.3,72.5 844.8,72.7 846.0,72.3 847.8,72.8 848.8,72.4 850.3,72.2 851.7,73.2 853.3,74.0 853.7,75.4 854.1,76.7 853.7,78.5 853.9,80.8 854.5,78.4 856.2,75.6 855.8,74.5 855.1,73.4 854.2,71.3 852.1,72.4 850.0,71.0 850.0,69.4 849.4,67.6 847.9,65.0 846.7,64.7 845.7,63.3 843.8,62.2 843.8,60.5 842.5,58.6 842.4,57.0 842.1,55.2 842.6,54.0 843.7,51.8 843.8,50.4 844.6,48.0 845.2,46.3 846.5,44.6 847.1,43.2 847.8,41.4 849.1,40.7 850.2,39.4 851.9,39.3 853.6,39.4 855.1,39.2 857.1,39.6 858.9,39.1 861.3,39.4 862.8,40.4 863.6,41.3 865.9,41.8 867.2,43.2 868.1,44.1 869.3,46.0 870.3,47.7 869.4,45.4 868.5,44.1 867.0,42.4 865.7,41.5 864.5,40.8 864.4,38.8 863.9,37.1 863.1,34.9 862.9,34.2 861.4,32.2"/>
<polygon points="898.1,101.2 899.8,99.4 901.3,98.3 901.8,97.5 903.7,96.5 904.9,96.4 906.1,94.8 907.6,94.0 909.3,92.7 910.7,91.0 910.8,89.9 912.0,88.6 913.0,89.8 912.7,91.8 911.3,93.8 909.8,94.4 908.2,95.6 906.7,96.1 905.6,97.1 904.2,99.0 901.8,99.7 901.1,101.3 899.2,101.6"/>
<polygon points="915.6,90.7 917.1,89.3 918.5,88.1 920.8,87.3 922.1,87.3 924.0,88.7 922.1,90.7 920.9,90.1 918.9,90.8 917.0,91.2"/>
<polygon points="930.1,86.3 931.6,85.7 932.6,84.6 934.9,83.1 936.5,82.8 938.8,81.5 937.7,83.6 936.8,84.7 934.7,85.4 933.1,86.0 931.5,87.6"/>
<polygon points="831.6,89.3 833.0,88.1 834.8,87.4 836.1,89.0 838.1,89.8 839.1,91.1 840.6,91.9 841.5,92.6 842.7,94.2 843.9,95.6 844.6,96.1 846.5,97.2 847.2,98.4 848.2,99.8 850.1,100.1 850.9,100.9 852.0,101.8 853.4,102.5 855.2,104.1 857.3,104.0 859.5,105.4 860.8,104.8 862.3,105.1 864.0,106.0 865.3,107.0 867.1,108.1 868.8,108.1 870.2,107.6 872.0,106.9 873.5,105.7 876.1,104.5 877.2,104.1 879.0,102.8 877.2,105.2 876.5,106.9 876.1,108.8 876.3,109.4 875.8,111.6 877.8,112.3 878.7,112.7 879.7,114.8 881.3,115.9 883.0,115.0 883.6,114.6 882.8,116.0 882.0,117.0 880.3,117.5 878.6,117.7 876.7,118.2 875.4,118.6 874.0,118.4 871.7,118.9 870.5,119.6 868.2,119.3 866.8,120.1 864.9,120.0 863.3,120.4 861.2,121.4 860.4,122.5 858.9,123.2 857.0,124.2 856.6,125.8 855.0,126.6 854.3,128.8 853.7,129.8 853.3,132.0 851.7,132.9 849.4,132.1 848.0,131.3 846.3,131.2 844.3,129.8 843.0,129.0 841.0,128.0 838.6,127.7 837.2,127.0 836.0,125.3 834.2,125.0 833.2,124.9 830.9,124.5 829.2,125.3 827.6,124.8 826.0,125.5 825.7,126.9 824.3,127.9 822.8,128.4 820.2,127.3 818.4,125.2 816.0,126.1 814.5,128.4 815.5,129.9 817.1,130.8 819.2,131.2 820.7,132.2 821.6,133.7 824.4,134.5 824.8,135.4 823.7,135.9 822.0,135.3 821.2,135.4 819.3,136.6 818.2,136.7 815.9,137.6 814.5,139.0 811.9,139.1 811.2,137.0 811.5,135.8 811.4,133.5 810.3,130.7 808.2,129.4 808.5,126.9 809.4,125.2 809.6,124.4 811.8,124.0 812.7,122.4 814.0,121.8 815.7,120.6 816.4,119.9 817.3,118.8 815.9,116.0 818.0,115.4 819.9,115.7 820.8,117.0 822.7,116.8 824.2,117.7 826.0,117.7 828.1,117.2 828.6,114.0 828.2,112.9 828.5,111.4 829.2,109.0 831.9,108.0 832.7,106.7 833.2,104.5 833.6,102.9 833.7,101.2 834.0,99.3 833.7,97.5 833.1,96.7 833.1,94.6 832.0,94.1 831.2,92.2 831.5,90.2"/>
<polygon points="825.1,91.6 826.7,90.9 827.9,92.1 827.1,93.4 825.4,93.0" fill="#000" stroke-width="0.4"/>
<polygon points="803.0,130.0 804.3,129.2 805.1,130.7 804.3,132.4 803.1,131.9" fill="#000" stroke-width="0.4"/>
<polyline points="834.8,80.0 835.9,81.4 837.1,83.3 839.3,81.8 838.9,80.0"/>
<polygon points="879.4,110.4 880.9,108.9 883.3,107.9 884.7,106.2 886.1,104.8 886.7,103.7 888.6,101.5 890.0,100.5 891.1,100.7 892.5,101.0 894.4,102.0 893.3,102.2 891.2,102.9 889.5,104.0 887.9,105.2 887.2,106.7 885.0,107.6 883.9,109.4 882.6,110.2 880.7,112.0"/>
<polygon points="894.5,110.2 896.3,108.4 899.3,108.2 898.7,110.2 896.3,111.4" fill="#000" stroke-width="0.4"/>
<polygon points="617.2,151.4 619.6,150.4 623.1,149.5 622.8,150.6 620.2,151.8 618.1,152.2" fill="#000" stroke-width="0.4"/>
<polyline points="555.0,156.9 556.7,156.1 558.4,156.2 559.8,154.3 561.4,152.7 563.1,151.8 563.8,149.5 565.6,148.3 566.4,147.8 568.3,147.2 569.7,146.6 571.8,146.1 573.5,146.7 575.9,147.3 577.1,147.2 578.0,145.1 578.9,147.2 580.8,148.5 581.9,148.6 583.7,151.5 582.5,152.1 582.7,154.4 581.1,154.7 580.3,156.2 579.1,157.6 577.8,158.4 576.6,159.3 575.1,160.8 573.7,161.9 572.5,164.5 571.0,164.8 572.4,165.6 574.5,166.1 575.3,165.6 577.8,165.2 579.6,165.4 577.9,166.6 576.5,167.0 576.0,169.5 573.9,171.3 572.1,171.4 569.9,171.9 569.0,172.7 569.8,175.1"/>
<polyline points="576.1,170.6 578.0,170.2 579.3,169.0 580.5,168.2 581.3,167.7 582.4,166.9 584.0,165.8 585.4,165.0 586.6,164.9 587.8,163.6 589.2,163.3 591.0,162.5 592.5,162.8 593.9,162.0 595.0,161.6 596.9,161.2 598.9,160.1 600.3,160.6 601.2,159.9 603.5,159.6 605.2,159.7 606.5,159.2 607.5,159.7 608.6,158.7 610.5,158.3 611.4,160.2 613.0,161.5 615.0,162.1 615.9,162.3 617.2,162.5 619.1,162.7 621.2,163.3 622.6,164.1 623.6,163.8 625.6,162.7 625.2,165.0 624.2,167.7 623.1,169.3 622.7,170.2 621.9,172.5 624.1,174.1 626.1,175.1"/>
<polyline points="683.0,132.0 682.0,133.7 680.7,134.6 679.6,135.4 678.4,137.0 679.1,139.1 679.2,141.3 679.0,142.4 679.6,144.0 677.8,146.7 676.1,147.6 674.4,148.7 673.6,149.1 672.5,150.2 670.8,151.4 669.7,151.4 668.4,152.7 668.0,153.7 665.7,154.0 663.5,155.3 662.3,155.9 660.6,156.9 659.1,157.6 656.7,158.2 654.7,158.6 653.3,159.0 651.7,160.8 650.5,161.7 651.1,162.8 650.1,164.7 649.8,167.1 651.0,167.9 651.4,169.2 652.6,170.9 654.8,172.0 655.2,172.9 657.2,173.3 658.4,174.1 660.5,175.1"/>
<polygon points="648.6,166.4 650.4,165.6 651.6,167.2 650.8,168.9 649.0,168.4" fill="#000" stroke-width="0.4"/>
<polyline points="555.0,190.4 555.9,188.5 557.1,187.0 559.0,187.3 561.1,187.0 562.9,186.2 564.5,186.2 567.1,185.9 567.8,187.0 569.7,187.5 572.0,188.5 572.5,189.7 574.2,191.4 575.7,190.5 577.3,190.2 578.4,190.5 580.6,190.0 582.1,190.6 583.4,190.7 585.1,191.1 586.3,191.2 588.0,191.1 589.1,191.7 587.8,194.4 586.1,195.3 586.6,198.5 584.5,198.3 582.4,196.5 580.7,197.7 579.2,198.3 577.1,198.8 575.9,199.6 574.9,200.3 572.6,200.6 572.0,200.9 569.7,200.8 568.2,201.2 567.8,202.9 566.4,203.8 564.6,202.0 562.9,204.2 563.0,206.7 560.2,208.1 558.1,207.3 557.2,209.6 555.0,210.0"/>
<polyline points="555.0,230.1 556.6,231.7 558.1,233.7 558.9,235.6 559.0,237.1 560.3,239.3 561.1,241.0 562.1,242.3 563.4,243.6 564.2,245.2 565.1,247.1"/>
<polyline points="626.1,175.0 623.8,175.0 622.8,176.1 620.6,175.9 619.6,176.5 618.4,177.4 617.7,178.9 616.4,181.4 614.6,181.8 616.8,182.3 617.7,183.0 619.2,183.6 621.6,185.4 623.9,186.1 624.8,185.3 626.5,184.1 628.9,184.6 630.0,185.4 632.4,186.3 633.7,186.5 635.3,185.9 638.0,187.1 640.6,186.4 640.8,188.5 642.4,190.2 640.5,191.2 639.4,193.3 641.2,195.2 641.7,196.0 643.7,196.7 641.8,198.5 639.9,197.9 637.0,196.6 634.7,197.9 633.2,199.5 634.2,201.4 637.3,203.1 637.6,205.7 638.2,207.5 640.8,208.5 642.9,207.5 641.2,210.1 639.9,212.0 639.0,213.6 637.9,216.8 637.0,218.9 636.3,221.2 636.4,223.7 637.9,225.6 637.2,227.7 634.5,229.2 632.6,229.8 634.3,230.5 635.9,230.3 638.3,229.7 640.5,228.3 641.6,227.9 642.9,227.1 645.1,227.1 646.4,226.3 648.6,225.3 651.1,224.7 653.5,224.0 655.4,223.2 658.4,222.3 660.5,223.5 662.4,221.9 664.9,222.7 668.0,221.2 668.7,221.0 670.6,220.8 671.8,219.9 673.3,218.9 673.7,217.8 674.4,216.1 675.2,214.7 675.5,213.4 676.0,210.7 676.3,209.3 675.7,207.5 675.8,206.0 675.6,203.8 675.4,202.5 675.9,200.5 675.0,199.0 674.6,196.6 673.7,195.4 673.5,193.5 672.3,191.7 671.2,190.3 670.4,188.2 670.0,186.9 668.7,184.9 667.6,183.2 666.7,182.0 665.6,180.4 663.9,178.9 663.1,177.6 661.8,177.0 661.1,175.0"/>
<polygon points="633.2,198.7 635.6,197.3 638.0,197.8 636.8,199.3 634.6,200.1" fill="#000" stroke-width="0.4"/>
<polygon points="635.0,222.4 637.4,221.8 638.0,224.8 636.8,227.1 635.0,226.6" fill="#000" stroke-width="0.4"/>
<polygon points="620.2,183.5 623.1,183.3 624.9,185.4 623.1,186.6 620.8,185.7" fill="#000" stroke-width="0.4"/>
<polygon points="647.4,225.7 649.8,224.8 653.4,223.8 655.7,223.4 656.0,224.8 653.4,225.7 650.4,226.6 648.0,227.1" fill="#000" stroke-width="0.4"/>
<polygon points="661.7,221.8 664.6,221.2 666.4,222.4 665.2,224.5 662.9,224.2" fill="#000" stroke-width="0.4"/>
<polygon points="633.2,242.9 635.4,241.3 637.0,241.0 638.7,240.3 640.5,240.7 641.1,240.5 644.1,241.4 642.9,243.1 641.1,243.5 639.0,244.8 638.1,244.4 636.1,244.3 634.7,245.0"/>
<polygon points="671.7,233.1 672.9,229.5 674.1,226.6 675.7,225.4 676.1,227.1 674.9,230.1 674.1,233.1 672.9,234.0" fill="#000" stroke-width="0.4"/>
<polygon points="677.7,236.9 679.2,236.4 679.4,237.8 678.3,238.4" fill="#000" stroke-width="0.4"/>
<polyline points="683.0,132.0 684.0,130.9 685.8,130.7 686.2,130.1 687.8,129.1 689.1,128.3 691.0,129.4 691.6,126.9 691.3,124.8 693.6,124.7 696.1,125.0 698.1,124.6 699.3,123.3 700.2,122.2 702.0,120.8 702.9,120.0 703.2,118.7 705.5,116.3 708.1,116.1 709.5,117.7 711.9,116.2 712.5,119.1 711.6,121.5 714.6,121.4 715.7,121.9 717.4,121.7 720.1,122.7 722.3,124.2 724.3,123.3 726.1,122.4 728.1,122.2 729.5,121.6 731.5,121.4 733.7,120.3 735.5,119.5 736.9,118.5 738.7,118.3 740.6,117.2 742.1,115.9 743.8,115.2 745.9,114.5 746.5,113.6 748.6,112.5 748.9,110.5 750.4,109.5 752.8,109.0 753.4,107.7 754.5,106.1 755.1,104.9 756.1,103.7 756.5,103.0"/>
<polygon points="704.1,117.8 706.1,115.8 708.1,116.3 707.7,119.0 705.8,120.8 704.3,119.8" fill="#000" stroke-width="0.4"/>
<polyline points="565.1,247.0 565.8,248.5 566.4,250.5 567.4,251.3 567.7,252.5 569.8,254.2 571.2,254.6 572.2,256.5 572.8,257.4 574.1,258.5 575.6,259.4 577.1,261.1 577.7,261.9 578.2,262.9 579.6,264.9 578.5,266.5 576.1,266.1 575.2,266.4 574.1,265.3 572.1,264.4 571.1,263.6 569.5,262.5 567.8,262.3 566.5,261.7 564.1,260.2 562.3,259.1 561.1,259.2 559.4,259.4 556.9,260.3 555.0,261.2"/>
<polygon points="570.0,263.4 571.5,262.9 572.9,263.8 574.5,264.7 576.1,265.5 577.7,265.3 578.2,266.7 577.2,267.0 575.0,267.0 573.0,266.6 571.0,264.3"/>
<polyline points="555.0,266.6 557.2,266.0 558.5,267.0 559.4,268.0 560.8,269.4 562.2,270.6 561.4,273.4 559.6,274.5 556.8,273.5 555.0,274.0"/>
<polygon points="563.1,267.4 565.4,266.9 565.9,268.6 563.5,269.0" fill="#000" stroke-width="0.4"/>
<polygon points="559.1,270.7 561.5,270.5 561.9,272.5 559.7,273.1" fill="#000" stroke-width="0.4"/>
<polyline points="579.3,264.8 578.1,266.6 577.9,267.9 576.8,269.0 578.3,271.0 578.8,272.3 579.2,275.2 577.7,275.6 576.4,276.4 574.9,276.4 572.3,277.0 570.9,278.2 569.5,279.4 567.3,280.2 566.6,281.1 564.8,281.1 563.6,282.3 561.7,282.7 559.6,282.1 558.2,283.1 556.3,283.2 555.0,283.1"/>
<polyline points="562.1,284.7 564.3,283.4 565.8,282.7 567.4,281.7 569.0,281.6 571.0,281.6 571.8,282.3 573.6,282.9 574.6,284.7 576.1,285.2 576.9,286.2 578.1,285.5 579.6,285.7 581.2,285.0 582.8,284.4 584.3,285.4 583.6,286.5 581.3,287.4 579.6,287.5 580.0,290.1 578.1,291.6 578.8,294.9 580.3,296.8 577.6,297.1 576.9,298.5 576.2,300.0 577.2,302.6 574.9,303.4 573.7,304.8 572.4,305.8 574.6,308.4 573.0,309.1 572.0,308.8 569.3,307.9 567.7,310.9 565.4,311.7 564.0,311.8 562.3,310.9 562.9,311.8 564.4,313.9 563.3,314.4 563.1,316.2 563.1,318.1 562.1,319.1"/>
<polygon points="579.3,284.0 582.9,283.7 584.6,285.5 582.9,287.1 579.9,286.7" fill="#000" stroke-width="0.4"/>
<polygon points="574.0,291.4 576.9,290.9 579.3,292.0 578.7,295.6 576.3,296.8 574.2,295.0" fill="#000" stroke-width="0.4"/>
<polygon points="572.8,296.8 575.7,297.4 576.3,300.3 574.0,300.9" fill="#000" stroke-width="0.4"/>
<polygon points="568.0,307.4 571.0,306.9 571.6,309.2 569.0,309.8" fill="#000" stroke-width="0.4"/>
<polyline points="576.9,300.0 576.1,301.9 576.3,304.1 576.5,305.8 574.7,306.2 574.2,308.1 573.0,308.4 571.7,309.7 568.8,308.7 567.8,309.7 566.8,310.9 564.2,311.5 562.3,310.2 563.2,311.5 563.4,313.5 563.0,315.0 563.1,316.4 562.9,318.3 560.5,320.0 560.7,322.1 557.9,323.0 557.4,324.3 556.3,325.1 555.0,326.7"/>
<polygon points="569.2,307.1 572.2,305.3 575.1,304.7 576.1,306.5 574.0,308.9 571.0,310.4 569.0,309.5" fill="#000" stroke-width="0.4"/>
<polygon points="561.5,310.4 564.2,310.1 564.7,312.1 562.3,312.4" fill="#000" stroke-width="0.4"/>
<polyline points="555.0,367.6 555.6,365.3 557.0,364.1 557.3,362.6 558.3,360.4 559.0,359.0 560.5,357.9 560.6,356.9 561.9,355.8 562.9,354.4 564.0,352.8 565.8,350.7 566.8,349.6 567.8,348.3 569.4,348.5 571.5,347.8 572.1,346.3 574.4,345.2 576.0,346.3 577.4,346.7 578.4,347.8 579.5,348.7 579.9,350.7 579.0,352.1 579.1,353.6 578.2,355.3 577.2,357.8 577.1,359.0 575.9,360.6 575.8,362.8 574.9,364.3 574.7,366.6 574.3,368.2 573.1,369.5 572.8,372.1"/>
<polyline points="556.2,366.4 556.1,368.1 555.8,369.5 556.2,372.1"/>
<polygon points="601.2,358.1 603.0,356.9 605.4,357.5 604.8,359.3 602.4,359.9" fill="#000" stroke-width="0.4"/>
<polygon points="606.6,356.9 608.3,355.1 610.5,354.5 610.1,356.9 608.3,358.7 606.9,358.3" fill="#000" stroke-width="0.4"/>
<polygon points="621.4,351.0 623.1,351.2 624.9,353.6 622.0,353.9" fill="#000" stroke-width="0.4"/>
<polygon points="652.2,335.0 653.4,331.4 655.1,328.4 657.5,327.0 659.3,325.5 661.4,325.8 661.1,328.4 659.3,330.2 657.5,332.0 655.7,334.4 654.0,336.5 652.4,336.5" fill="#000" stroke-width="0.4"/>
<polygon points="671.7,308.1 674.1,306.2 677.1,304.7 678.9,305.0 678.3,307.1 675.9,308.9 674.1,310.4 672.6,309.7" fill="#000" stroke-width="0.4"/>
<polygon points="667.6,313.0 669.4,312.4 670.2,314.5 669.0,316.0 667.8,315.2" fill="#000" stroke-width="0.4"/>
<polyline points="573.0,369.6 572.5,371.2 571.6,373.5 570.4,374.4 569.9,376.6 569.0,378.2 567.4,380.3 566.7,381.1 566.4,383.0 565.8,384.4 566.0,385.9 565.5,387.5 565.4,389.5 563.7,388.7 563.5,387.3 562.9,385.9 562.6,383.8 560.9,382.9 559.8,381.5 559.3,380.5 557.6,379.2 556.9,378.8 556.0,376.9 556.4,375.2 555.5,373.8 556.2,371.3"/>
<polyline points="694.8,231.3 695.7,229.6 698.1,228.7 699.6,228.9 700.1,227.8 701.9,227.6 703.0,226.5 704.5,225.6 706.0,225.5 706.9,224.3 708.8,223.0 710.2,222.7 711.1,221.0 712.9,220.0 713.8,219.3 715.5,217.6 716.3,216.5 717.8,216.5 719.5,215.7 721.3,215.5 722.3,214.9 725.0,215.5 726.1,215.3 728.2,215.3 729.9,215.1 731.6,215.3 733.0,214.8 735.7,215.0 737.4,214.4 739.1,214.3 740.9,213.1 742.5,213.1 744.3,212.9 745.9,213.3 747.8,212.4 749.5,213.0 751.2,214.7 752.4,215.9 754.4,215.4 757.5,214.9 759.0,214.0 761.0,212.7"/>
<polygon points="723.2,205.6 724.6,204.7 726.3,205.4 726.3,206.9 724.7,207.8 723.4,207.1" fill="#000" stroke-width="0.4"/>
<polygon points="722.8,214.6 724.7,214.3 725.9,215.5 724.7,216.7 723.0,216.2" fill="#000" stroke-width="0.4"/>
<polyline points="694.8,231.3 695.3,233.2 696.6,234.5 699.5,235.2 702.1,234.6 704.6,235.1 708.0,235.7 710.4,235.9 712.7,235.8 714.7,234.5 714.4,232.6 713.5,230.6 712.3,230.5 711.5,232.3 711.6,234.3 713.8,235.3 715.7,234.9 716.8,234.7 718.1,233.8 719.3,232.5 721.4,232.2 721.9,231.4 723.6,231.1 725.1,230.2 727.7,230.2 728.7,229.4 730.6,229.3 732.2,228.8 733.8,227.8 735.0,227.4 736.4,226.4 737.7,226.1 739.2,224.9 741.8,224.6 744.4,225.6 745.4,227.4 747.7,226.4 749.3,226.4 750.4,225.4 752.5,226.0 753.2,227.6 751.6,229.2 749.3,229.8 748.4,231.7 748.6,233.5 747.8,235.6 749.1,237.6 751.7,238.5 754.3,240.0 756.0,241.9 758.3,240.8 759.6,239.7 761.0,237.6"/>
<polygon points="743.6,230.0 746.0,229.1 748.5,228.1 749.9,228.7 749.0,230.0 747.0,231.2 744.9,231.9"/>
<polyline points="713.9,248.0 714.6,246.4 714.5,243.8 715.3,242.3 716.5,240.3 718.0,238.8 719.7,236.2 720.5,235.7 722.4,234.7 724.6,235.6 726.9,235.4 729.5,234.8 730.8,232.7 733.0,232.0 735.5,231.8 738.3,231.7 738.9,232.2 740.6,233.1 742.0,234.1 743.4,236.3 742.2,238.5 740.7,237.1 739.6,239.6 738.6,241.3 736.5,242.2 736.5,244.3 734.5,242.6 732.6,241.6 730.5,240.8 728.6,241.2 726.9,241.9 725.1,243.4 724.4,245.2 722.4,247.0 721.9,248.0"/>
<polyline points="676.6,243.8 678.4,243.2 680.2,242.3 681.0,240.8 683.0,240.5 684.3,239.9 685.1,239.1 686.4,239.1 688.2,237.8 689.4,237.2 690.3,237.1 692.2,236.7 693.4,235.9 695.0,234.6 697.0,236.2 697.7,237.1 699.5,236.9 700.7,238.0 702.3,239.8 703.9,241.0 703.4,243.1 704.8,245.5 706.8,246.7 707.7,248.0"/>
<polygon points="678.3,237.1 679.7,236.5 680.8,237.6 680.1,238.9 678.6,238.6" fill="#000" stroke-width="0.4"/>
<polygon points="675.5,244.2 677.4,243.1 679.2,242.7 680.3,243.8 679.7,245.6 678.3,247.0 676.4,247.3" fill="#000" stroke-width="0.4"/>
<polyline points="707.7,248.0 708.3,248.5 707.1,250.6 705.9,252.5 704.2,254.5 703.3,257.0 702.2,258.9 701.1,261.9 700.9,263.5 699.8,265.8 698.5,267.3 697.2,269.0 694.4,270.7 693.0,271.5 692.4,272.7 690.7,272.1 689.7,270.1 687.5,269.8 685.8,269.6 684.3,268.2 685.9,266.2 686.7,264.3 686.5,262.2 685.8,260.3 685.8,257.7 684.7,256.4 683.2,257.2 682.3,255.8 683.4,254.3 683.1,251.9 681.5,250.7 679.6,248.7 678.0,247.2 676.8,245.3 675.3,244.3 677.3,242.9 678.6,242.0 680.1,242.0"/>
<polygon points="687.0,244.4 688.6,245.8 690.1,247.7 691.2,249.4 691.6,250.8 691.3,252.4 690.3,255.1 689.6,256.5 688.0,258.2 687.0,256.4 687.6,254.3 686.5,251.9 686.4,250.0 686.1,247.5 685.9,245.1"/>
<polyline points="679.7,246.9 681.1,246.4 682.4,248.5 681.4,250.7 683.4,252.3 684.2,255.0 683.0,256.4 681.5,256.0 681.9,253.3 681.2,252.5 681.0,249.8 679.9,248.8"/>
<polygon points="690.3,264.2 692.1,263.3 693.3,265.1 693.6,267.3 692.6,269.1 691.2,268.2 690.3,266.0" fill="#000" stroke-width="0.4"/>
<polyline points="721.9,248.0 722.1,249.8 719.7,250.6 717.9,250.7 716.7,249.5 716.1,246.9 713.9,248.0"/>
<polygon points="665.0,250.9 666.8,250.3 669.0,250.6 668.6,252.7 666.3,253.3 665.0,252.9" fill="#000" stroke-width="0.4"/>
<polygon points="670.3,247.3 671.7,245.1 672.6,246.0 672.1,248.2 670.8,249.6" fill="#000" stroke-width="0.4"/>
<polygon points="693.9,280.7 694.8,278.0 696.1,275.3 697.0,275.8 696.6,278.4 695.7,281.1 694.5,282.0" fill="#000" stroke-width="0.4"/>
<polygon points="688.1,281.0 689.7,280.6 690.7,280.4 691.7,282.2 690.3,283.3 688.5,283.0"/>
<polyline points="809.8,158.5 810.2,157.0 810.1,154.8 810.0,152.6 809.7,150.4 810.4,148.8 811.8,148.7 813.1,148.2 815.3,147.1 815.2,144.9 814.1,143.5 815.4,142.2 817.0,141.8 818.6,143.5 818.7,144.9 819.3,146.6 820.9,147.4 821.5,147.3 821.0,145.5 820.3,144.3 820.8,142.7 821.3,141.2 822.7,139.2 824.3,139.8 825.4,139.9 827.5,140.1 828.9,140.3 828.8,142.4 828.7,143.6 828.3,145.7 828.0,147.2 828.1,148.8 829.9,151.0 830.4,152.2 832.8,153.5 833.1,155.2 834.3,156.7 835.3,158.6 835.9,161.0"/>
<polygon points="822.4,141.4 823.9,141.0 825.7,141.0 826.4,142.4 825.9,145.1 825.6,146.1 823.1,146.5 822.3,145.9 820.7,144.2 821.8,142.9"/>
<polygon points="806.3,158.3 808.6,158.1 811.6,158.5 811.3,160.0 809.2,160.3 806.9,159.7" fill="#000" stroke-width="0.4"/>
<polyline points="810.6,160.0 810.1,157.9 808.7,158.7 809.1,159.4 810.9,159.4 811.2,160.9 811.2,164.1 811.2,165.7 810.6,167.0"/>
<polyline points="835.9,161.0 836.6,163.6 835.9,165.3 835.0,167.0"/>
<polyline points="810.6,167.0 809.5,168.1 809.3,169.2 809.0,170.7 808.3,172.8 807.0,173.2 806.5,174.7 805.9,175.8 805.1,178.0 804.6,178.9 803.7,180.5 803.0,181.4 801.9,182.5 800.9,183.8 799.8,184.0 797.9,184.9 796.8,185.5 795.6,186.4 794.8,187.8 794.6,189.4 793.6,190.6 791.9,192.0 790.4,192.3 789.0,193.8 787.2,194.4 786.6,195.0 784.9,195.2 783.3,196.3 781.6,196.0 781.0,196.7 779.0,197.6 778.0,198.2 775.8,199.5 773.7,199.3 771.9,197.8 772.3,196.4 770.6,195.4 769.0,193.7 768.8,192.5 770.1,191.5 772.5,191.1 774.6,189.9 776.9,189.9 775.4,191.5 773.6,193.1 772.3,193.7"/>
<polyline points="769.2,194.1 769.7,196.5 769.5,197.7 768.4,200.6 766.6,201.8 766.0,202.2 764.8,204.4 763.5,204.9 762.4,205.7 760.1,207.8 759.0,210.2 760.0,212.1 759.2,213.6 757.2,215.1 754.9,216.0 752.8,215.8 750.2,214.8 749.1,213.5 747.4,212.8"/>
<polygon points="788.5,186.4 788.4,183.3 789.9,181.7 791.2,179.0 792.3,179.9 791.9,182.4 792.4,183.9 792.1,185.0 790.1,186.3"/>
<polygon points="758.9,220.4 758.8,218.5 759.5,218.0 760.9,215.9 762.6,217.0 762.9,218.2 762.0,220.4 760.3,220.6"/>
<polyline points="835.0,167.0 835.9,168.3 834.4,170.7 832.8,173.2 831.3,174.1 829.8,177.1 829.4,178.4 827.0,178.7 825.1,178.4 823.4,180.4 822.0,182.8 822.7,186.1 823.5,187.9 823.3,190.9 823.2,193.7 822.6,194.9 821.6,196.4 820.6,198.1 819.4,201.3 818.5,201.8 818.7,203.2 817.9,206.1 818.3,207.5 819.0,209.2 820.8,210.5 821.7,213.0 820.3,213.9 818.2,214.7 816.6,216.1 815.7,218.5 815.0,220.5 814.1,221.0"/>
<polygon points="806.5,217.0 807.7,214.6 809.4,213.3 811.5,213.1 812.3,214.4 811.7,216.8 810.5,215.3 809.0,216.1 808.2,217.7 807.0,219.8"/>
<polygon points="813.7,207.9 815.3,207.2 816.5,208.3 815.9,209.7 814.1,209.5" fill="#000" stroke-width="0.4"/>
<polyline points="814.1,221.0 813.2,222.4 812.0,223.1 810.0,222.7 809.2,221.8 809.3,220.3 810.1,218.3 811.0,217.1"/>
<polyline points="806.7,219.8 806.5,221.2 804.4,220.2 802.6,221.2 800.6,222.0 799.6,224.1 798.3,226.0 797.8,227.1 795.8,226.4 794.8,224.9 794.5,222.6 792.4,221.3 790.8,222.8 789.5,223.5 788.7,226.0 787.3,226.3 786.1,227.0 784.2,226.1 782.5,226.3 781.6,226.1 779.4,225.3 776.2,225.5 773.8,225.0 772.1,224.5 770.1,223.2 770.5,221.7 769.5,220.7 767.5,220.9 766.1,222.0 767.4,224.3 769.3,225.1 770.7,227.1 771.7,228.3 770.7,230.1 769.5,231.4 768.4,232.6 767.0,233.6 765.9,234.6 764.9,235.2 763.9,236.0 762.8,237.4 761.0,238.4"/>
</g>
</g>
<rect x="809.90" y="270.80" width="105.90" height="104.80" fill="#fff" stroke="none" stroke-width="1"/>
<clipPath id="insclip"><rect x="810.4" y="271.3" width="104.89999999999998" height="103.80000000000001"/></clipPath>
<g clip-path="url(#insclip)">
<line x1="810.40" y1="375.10" x2="915.30" y2="271.30" stroke="#000" stroke-width="1"/>
<path d="M832.6,356.7h3.6M834.4,354.9v3.6M822.0,367.7h3.6M823.8,365.9v3.6M842.5,354.5h3.6M844.3,352.7v3.6M841.6,361.7h3.6M843.4,359.9v3.6M838.6,347.2h3.6M840.4,345.4v3.6M827.2,353.9h3.6M829.0,352.1v3.6M842.6,344.4h3.6M844.4,342.6v3.6M820.8,361.1h3.6M822.6,359.3v3.6M810.9,364.2h3.6M812.7,362.4v3.6M846.3,350.0h3.6M848.1,348.2v3.6M814.2,362.3h3.6M816.0,360.5v3.6M816.1,367.7h3.6M817.9,365.9v3.6M818.6,374.0h3.6M820.4,372.2v3.6M852.6,342.9h3.6M854.4,341.1v3.6M840.4,355.5h3.6M842.2,353.7v3.6M817.0,370.2h3.6M818.8,368.4v3.6M833.7,362.9h3.6M835.5,361.1v3.6M836.5,351.3h3.6M838.3,349.5v3.6M811.8,365.3h3.6M813.6,363.5v3.6M856.7,345.2h3.6M858.5,343.4v3.6M832.9,357.7h3.6M834.7,355.9v3.6M823.8,359.0h3.6M825.6,357.2v3.6M843.2,342.0h3.6M845.0,340.2v3.6M818.4,365.9h3.6M820.2,364.1v3.6M852.9,341.5h3.6M854.7,339.7v3.6M817.5,365.3h3.6M819.3,363.5v3.6M818.3,366.1h3.6M820.1,364.3v3.6M841.1,354.1h3.6M842.9,352.3v3.6M844.2,348.0h3.6M846.0,346.2v3.6M824.3,363.2h3.6M826.1,361.4v3.6M837.7,351.5h3.6M839.5,349.7v3.6M840.8,351.6h3.6M842.6,349.8v3.6M840.3,357.1h3.6M842.1,355.3v3.6M820.4,361.6h3.6M822.2,359.8v3.6M839.7,349.4h3.6M841.5,347.6v3.6M825.4,360.1h3.6M827.2,358.3v3.6M843.6,352.9h3.6M845.4,351.1v3.6M812.2,371.3h3.6M814.0,369.5v3.6M840.7,355.8h3.6M842.5,354.0v3.6M839.7,352.1h3.6M841.5,350.3v3.6M833.4,353.8h3.6M835.2,352.0v3.6M811.5,352.7h3.6M813.3,350.9v3.6M829.1,359.5h3.6M830.9,357.7v3.6M822.8,366.7h3.6M824.6,364.9v3.6M818.1,357.4h3.6M819.9,355.6v3.6M836.4,353.9h3.6M838.2,352.1v3.6M851.9,342.4h3.6M853.7,340.6v3.6M818.2,368.4h3.6M820.0,366.6v3.6M845.7,343.8h3.6M847.5,342.0v3.6M825.3,358.7h3.6M827.1,356.9v3.6M845.6,349.8h3.6M847.4,348.0v3.6M823.0,359.0h3.6M824.8,357.2v3.6M822.9,370.7h3.6M824.7,368.9v3.6M819.1,362.9h3.6M820.9,361.1v3.6M828.4,356.3h3.6M830.2,354.5v3.6M816.6,373.6h3.6M818.4,371.8v3.6M828.2,349.9h3.6M830.0,348.1v3.6M839.3,359.6h3.6M841.1,357.8v3.6M820.0,352.9h3.6M821.8,351.1v3.6M815.9,366.1h3.6M817.7,364.3v3.6M845.1,355.0h3.6M846.9,353.2v3.6M831.7,355.0h3.6M833.5,353.2v3.6M836.7,356.1h3.6M838.5,354.3v3.6M856.4,346.6h3.6M858.2,344.8v3.6M832.5,362.8h3.6M834.3,361.0v3.6M838.6,356.9h3.6M840.4,355.1v3.6M822.8,361.0h3.6M824.6,359.2v3.6M817.0,367.3h3.6M818.8,365.5v3.6M849.2,340.8h3.6M851.0,339.0v3.6M844.8,349.8h3.6M846.6,348.0v3.6M812.2,367.3h3.6M814.0,365.5v3.6M817.3,368.4h3.6M819.1,366.6v3.6M821.3,363.8h3.6M823.1,362.0v3.6M842.1,342.8h3.6M843.9,341.0v3.6M819.1,361.7h3.6M820.9,359.9v3.6M810.1,371.3h3.6M811.9,369.5v3.6M826.6,363.2h3.6M828.4,361.4v3.6M814.0,371.1h3.6M815.8,369.3v3.6M835.1,364.6h3.6M836.9,362.8v3.6M816.1,372.3h3.6M817.9,370.5v3.6M853.1,347.5h3.6M854.9,345.7v3.6M844.4,349.0h3.6M846.2,347.2v3.6M841.2,347.8h3.6M843.0,346.0v3.6M817.2,370.1h3.6M819.0,368.3v3.6M815.1,368.5h3.6M816.9,366.7v3.6M825.4,361.4h3.6M827.2,359.6v3.6M838.5,346.9h3.6M840.3,345.1v3.6M837.5,349.0h3.6M839.3,347.2v3.6M821.6,361.0h3.6M823.4,359.2v3.6M840.0,351.6h3.6M841.8,349.8v3.6M845.4,346.8h3.6M847.2,345.0v3.6M834.4,348.7h3.6M836.2,346.9v3.6M818.5,368.5h3.6M820.3,366.7v3.6M840.3,344.7h3.6M842.1,342.9v3.6M828.5,353.7h3.6M830.3,351.9v3.6M810.9,365.7h3.6M812.7,363.9v3.6M811.8,367.4h3.6M813.6,365.6v3.6M815.0,358.1h3.6M816.8,356.3v3.6M845.3,342.5h3.6M847.1,340.7v3.6M817.8,366.7h3.6M819.6,364.9v3.6M814.4,357.3h3.6M816.2,355.5v3.6M827.6,362.9h3.6M829.4,361.1v3.6M839.4,349.2h3.6M841.2,347.4v3.6M819.6,368.0h3.6M821.4,366.2v3.6M831.6,358.7h3.6M833.4,356.9v3.6M817.5,364.5h3.6M819.3,362.7v3.6M814.1,368.2h3.6M815.9,366.4v3.6M833.1,349.5h3.6M834.9,347.7v3.6M843.6,342.6h3.6M845.4,340.8v3.6M840.9,349.5h3.6M842.7,347.7v3.6M814.0,374.8h3.6M815.8,373.0v3.6M828.3,358.2h3.6M830.1,356.4v3.6M829.7,363.8h3.6M831.5,362.0v3.6M843.5,341.3h3.6M845.3,339.5v3.6M831.2,356.8h3.6M833.0,355.0v3.6M842.3,344.8h3.6M844.1,343.0v3.6M809.2,372.3h3.6M811.0,370.5v3.6M820.8,362.6h3.6M822.6,360.8v3.6M830.0,363.0h3.6M831.8,361.2v3.6M831.4,358.2h3.6M833.2,356.4v3.6M845.9,340.8h3.6M847.7,339.0v3.6M823.1,370.5h3.6M824.9,368.7v3.6M828.5,355.6h3.6M830.3,353.8v3.6M819.3,365.6h3.6M821.1,363.8v3.6M824.5,364.3h3.6M826.3,362.5v3.6M810.7,373.1h3.6M812.5,371.3v3.6M845.6,350.9h3.6M847.4,349.1v3.6M854.1,343.6h3.6M855.9,341.8v3.6M844.5,345.5h3.6M846.3,343.7v3.6M840.4,350.9h3.6M842.2,349.1v3.6M824.7,360.2h3.6M826.5,358.4v3.6M839.7,350.9h3.6M841.5,349.1v3.6M821.1,367.7h3.6M822.9,365.9v3.6M842.7,354.8h3.6M844.5,353.0v3.6M831.7,352.3h3.6M833.5,350.5v3.6M830.5,359.5h3.6M832.3,357.7v3.6M809.9,374.3h3.6M811.7,372.5v3.6M811.4,369.7h3.6M813.2,367.9v3.6M820.0,367.4h3.6M821.8,365.6v3.6M825.5,350.6h3.6M827.3,348.8v3.6M824.1,367.3h3.6M825.9,365.5v3.6M823.3,360.0h3.6M825.1,358.2v3.6M845.8,345.9h3.6M847.6,344.1v3.6M840.4,356.0h3.6M842.2,354.2v3.6M818.0,355.4h3.6M819.8,353.6v3.6M840.6,346.7h3.6M842.4,344.9v3.6M811.5,364.0h3.6M813.3,362.2v3.6M812.8,365.9h3.6M814.6,364.1v3.6M830.6,359.8h3.6M832.4,358.0v3.6M821.5,357.7h3.6M823.3,355.9v3.6M840.8,345.5h3.6M842.6,343.7v3.6M817.9,359.5h3.6M819.7,357.7v3.6M809.0,350.5h3.6M810.8,348.7v3.6M818.2,362.6h3.6M820.0,360.8v3.6M845.6,344.9h3.6M847.4,343.1v3.6M815.1,368.4h3.6M816.9,366.6v3.6M837.3,353.6h3.6M839.1,351.8v3.6M821.0,364.4h3.6M822.8,362.6v3.6M818.2,363.0h3.6M820.0,361.2v3.6M842.3,347.2h3.6M844.1,345.4v3.6M809.6,366.5h3.6M811.4,364.7v3.6M811.3,356.4h3.6M813.1,354.6v3.6M847.0,353.8h3.6M848.8,352.0v3.6M829.7,355.2h3.6M831.5,353.4v3.6M835.2,359.0h3.6M837.0,357.2v3.6M817.3,364.7h3.6M819.1,362.9v3.6M841.4,353.5h3.6M843.2,351.7v3.6M808.8,354.6h3.6M810.6,352.8v3.6M816.4,350.6h3.6M818.2,348.8v3.6M840.9,347.7h3.6M842.7,345.9v3.6M850.1,352.7h3.6M851.9,350.9v3.6M823.7,363.1h3.6M825.5,361.3v3.6M811.2,367.7h3.6M813.0,365.9v3.6M826.4,365.4h3.6M828.2,363.6v3.6M830.3,363.8h3.6M832.1,362.0v3.6M840.8,349.1h3.6M842.6,347.3v3.6M813.5,362.5h3.6M815.3,360.7v3.6M818.1,360.0h3.6M819.9,358.2v3.6M817.9,364.5h3.6M819.7,362.7v3.6M844.9,356.3h3.6M846.7,354.5v3.6M809.6,368.9h3.6M811.4,367.1v3.6M846.0,345.7h3.6M847.8,343.9v3.6M818.3,372.7h3.6M820.1,370.9v3.6M819.2,368.1h3.6M821.0,366.3v3.6M838.8,351.1h3.6M840.6,349.3v3.6M808.9,371.5h3.6M810.7,369.7v3.6M825.2,367.3h3.6M827.0,365.5v3.6M826.7,355.7h3.6M828.5,353.9v3.6M835.0,349.2h3.6M836.8,347.4v3.6M827.7,363.0h3.6M829.5,361.2v3.6M817.3,372.1h3.6M819.1,370.3v3.6M813.1,359.2h3.6M814.9,357.4v3.6M846.9,349.5h3.6M848.7,347.7v3.6M816.7,360.4h3.6M818.5,358.6v3.6M819.2,365.9h3.6M821.0,364.1v3.6M817.1,370.0h3.6M818.9,368.2v3.6M829.0,364.3h3.6M830.8,362.5v3.6M840.1,347.8h3.6M841.9,346.0v3.6M816.4,358.0h3.6M818.2,356.2v3.6M837.9,349.9h3.6M839.7,348.1v3.6M812.2,368.4h3.6M814.0,366.6v3.6M830.7,357.0h3.6M832.5,355.2v3.6M852.0,339.9h3.6M853.8,338.1v3.6M814.5,360.7h3.6M816.3,358.9v3.6M819.3,369.2h3.6M821.1,367.4v3.6M841.1,349.7h3.6M842.9,347.9v3.6M844.2,352.1h3.6M846.0,350.3v3.6M832.7,354.8h3.6M834.5,353.0v3.6M811.3,368.4h3.6M813.1,366.6v3.6M832.7,351.7h3.6M834.5,349.9v3.6M841.6,352.6h3.6M843.4,350.8v3.6M814.7,370.8h3.6M816.5,369.0v3.6M838.5,349.2h3.6M840.3,347.4v3.6M817.6,366.6h3.6M819.4,364.8v3.6M843.2,350.5h3.6M845.0,348.7v3.6M831.5,353.7h3.6M833.3,351.9v3.6M841.7,346.9h3.6M843.5,345.1v3.6M828.5,356.0h3.6M830.3,354.2v3.6M837.7,356.9h3.6M839.5,355.1v3.6M815.4,357.4h3.6M817.2,355.6v3.6M837.2,347.6h3.6M839.0,345.8v3.6M819.3,373.1h3.6M821.1,371.3v3.6M837.9,357.5h3.6M839.7,355.7v3.6M843.8,351.7h3.6M845.6,349.9v3.6M811.7,371.1h3.6M813.5,369.3v3.6M842.3,348.3h3.6M844.1,346.5v3.6M823.3,369.0h3.6M825.1,367.2v3.6M819.0,366.1h3.6M820.8,364.3v3.6M822.7,355.8h3.6M824.5,354.0v3.6M823.0,364.3h3.6M824.8,362.5v3.6M817.9,369.4h3.6M819.7,367.6v3.6M824.3,368.3h3.6M826.1,366.5v3.6M815.7,355.5h3.6M817.5,353.7v3.6M819.0,369.3h3.6M820.8,367.5v3.6M821.9,367.2h3.6M823.7,365.4v3.6M845.2,357.9h3.6M847.0,356.1v3.6M808.8,358.2h3.6M810.6,356.4v3.6M819.2,364.0h3.6M821.0,362.2v3.6M842.6,348.7h3.6M844.4,346.9v3.6M847.9,349.4h3.6M849.7,347.6v3.6M816.4,374.1h3.6M818.2,372.3v3.6M819.4,357.7h3.6M821.2,355.9v3.6M813.6,354.6h3.6M815.4,352.8v3.6M820.7,363.9h3.6M822.5,362.1v3.6M832.2,352.1h3.6M834.0,350.3v3.6M815.0,371.6h3.6M816.8,369.8v3.6M822.9,355.2h3.6M824.7,353.4v3.6M821.3,362.5h3.6M823.1,360.7v3.6M822.3,359.5h3.6M824.1,357.7v3.6M840.2,364.0h3.6M842.0,362.2v3.6M820.3,363.7h3.6M822.1,361.9v3.6M811.2,369.9h3.6M813.0,368.1v3.6M833.3,354.8h3.6M835.1,353.0v3.6M817.1,364.9h3.6M818.9,363.1v3.6M814.1,360.1h3.6M815.9,358.3v3.6M829.3,352.8h3.6M831.1,351.0v3.6M817.4,374.8h3.6M819.2,373.0v3.6M845.0,356.7h3.6M846.8,354.9v3.6M817.0,365.1h3.6M818.8,363.3v3.6M843.2,352.6h3.6M845.0,350.8v3.6M813.5,370.9h3.6M815.3,369.1v3.6M821.0,350.8h3.6M822.8,349.0v3.6M855.6,343.4h3.6M857.4,341.6v3.6M812.3,366.6h3.6M814.1,364.8v3.6M834.7,351.3h3.6M836.5,349.5v3.6M816.0,367.5h3.6M817.8,365.7v3.6M817.0,374.6h3.6M818.8,372.8v3.6M840.4,353.9h3.6M842.2,352.1v3.6M838.6,341.4h3.6M840.4,339.6v3.6M817.8,359.2h3.6M819.6,357.4v3.6M815.6,370.7h3.6M817.4,368.9v3.6M816.2,365.6h3.6M818.0,363.8v3.6M821.1,365.6h3.6M822.9,363.8v3.6M818.3,363.4h3.6M820.1,361.6v3.6M840.5,353.0h3.6M842.3,351.2v3.6M846.7,345.9h3.6M848.5,344.1v3.6M816.0,374.8h3.6M817.8,373.0v3.6M845.9,352.3h3.6M847.7,350.5v3.6M829.4,354.4h3.6M831.2,352.6v3.6M848.6,346.2h3.6M850.4,344.4v3.6M845.9,350.4h3.6M847.7,348.6v3.6M810.1,368.5h3.6M811.9,366.7v3.6M818.7,368.9h3.6M820.5,367.1v3.6M830.8,352.0h3.6M832.6,350.2v3.6M844.2,349.1h3.6M846.0,347.3v3.6M820.4,361.5h3.6M822.2,359.7v3.6M856.8,343.3h3.6M858.6,341.5v3.6M833.5,350.8h3.6M835.3,349.0v3.6M840.6,345.9h3.6M842.4,344.1v3.6M846.6,347.9h3.6M848.4,346.1v3.6M839.8,355.5h3.6M841.6,353.7v3.6M826.2,366.2h3.6M828.0,364.4v3.6M828.4,368.3h3.6M830.2,366.5v3.6M822.8,366.3h3.6M824.6,364.5v3.6M854.8,348.2h3.6M856.6,346.4v3.6M839.9,361.7h3.6M841.7,359.9v3.6M810.9,371.2h3.6M812.7,369.4v3.6M843.9,353.3h3.6M845.7,351.5v3.6M834.0,357.2h3.6M835.8,355.4v3.6M820.3,360.2h3.6M822.1,358.4v3.6M809.4,369.4h3.6M811.2,367.6v3.6M833.8,355.2h3.6M835.6,353.4v3.6M810.4,372.0h3.6M812.2,370.2v3.6M839.5,353.2h3.6M841.3,351.4v3.6M838.6,363.1h3.6M840.4,361.3v3.6M820.9,355.0h3.6M822.7,353.2v3.6M847.4,348.9h3.6M849.2,347.1v3.6M814.1,365.5h3.6M815.9,363.7v3.6M838.1,351.1h3.6M839.9,349.3v3.6M839.1,357.0h3.6M840.9,355.2v3.6M819.7,366.7h3.6M821.5,364.9v3.6M842.2,344.3h3.6M844.0,342.5v3.6M813.8,368.6h3.6M815.6,366.8v3.6M853.3,338.3h3.6M855.1,336.5v3.6M809.1,371.2h3.6M810.9,369.4v3.6M822.9,359.1h3.6M824.7,357.3v3.6M832.5,354.6h3.6M834.3,352.8v3.6M822.3,357.0h3.6M824.1,355.2v3.6M821.0,364.4h3.6M822.8,362.6v3.6M843.0,350.1h3.6M844.8,348.3v3.6M817.3,363.9h3.6M819.1,362.1v3.6M812.7,369.4h3.6M814.5,367.6v3.6M826.1,363.3h3.6M827.9,361.5v3.6M819.4,365.2h3.6M821.2,363.4v3.6M822.8,358.5h3.6M824.6,356.7v3.6M830.6,355.8h3.6M832.4,354.0v3.6M827.1,360.8h3.6M828.9,359.0v3.6M823.9,368.2h3.6M825.7,366.4v3.6M844.0,348.6h3.6M845.8,346.8v3.6M819.7,361.4h3.6M821.5,359.6v3.6M817.4,365.0h3.6M819.2,363.2v3.6M820.2,364.3h3.6M822.0,362.5v3.6M820.8,367.2h3.6M822.6,365.4v3.6M813.3,359.7h3.6M815.1,357.9v3.6M812.0,366.0h3.6M813.8,364.2v3.6M841.4,349.3h3.6M843.2,347.5v3.6M838.3,346.5h3.6M840.1,344.7v3.6M818.7,369.9h3.6M820.5,368.1v3.6M847.1,344.3h3.6M848.9,342.5v3.6M819.9,366.5h3.6M821.7,364.7v3.6M819.6,363.6h3.6M821.4,361.8v3.6M848.5,347.0h3.6M850.3,345.2v3.6M822.7,369.1h3.6M824.5,367.3v3.6M836.3,353.2h3.6M838.1,351.4v3.6M812.3,372.4h3.6M814.1,370.6v3.6M824.7,358.7h3.6M826.5,356.9v3.6M832.2,354.2h3.6M834.0,352.4v3.6M838.0,354.8h3.6M839.8,353.0v3.6M819.0,355.9h3.6M820.8,354.1v3.6M840.8,347.5h3.6M842.6,345.7v3.6M848.4,341.6h3.6M850.2,339.8v3.6M834.2,353.3h3.6M836.0,351.5v3.6M811.4,355.3h3.6M813.2,353.5v3.6M822.4,359.2h3.6M824.2,357.4v3.6M820.5,358.3h3.6M822.3,356.5v3.6M820.9,362.3h3.6M822.7,360.5v3.6M818.9,361.7h3.6M820.7,359.9v3.6M820.4,366.9h3.6M822.2,365.1v3.6M836.6,349.1h3.6M838.4,347.3v3.6M822.8,360.6h3.6M824.6,358.8v3.6M815.9,350.0h3.6M817.7,348.2v3.6M826.4,363.2h3.6M828.2,361.4v3.6M817.2,367.1h3.6M819.0,365.3v3.6M811.8,351.3h3.6M813.6,349.5v3.6M834.6,352.8h3.6M836.4,351.0v3.6M848.3,337.7h3.6M850.1,335.9v3.6M845.4,346.2h3.6M847.2,344.4v3.6M813.6,362.5h3.6M815.4,360.7v3.6M823.8,362.3h3.6M825.6,360.5v3.6M844.7,347.3h3.6M846.5,345.5v3.6M839.0,357.8h3.6M840.8,356.0v3.6M848.3,345.4h3.6M850.1,343.6v3.6M816.3,353.9h3.6M818.1,352.1v3.6M812.2,369.9h3.6M814.0,368.1v3.6M820.2,359.2h3.6M822.0,357.4v3.6M815.3,365.2h3.6M817.1,363.4v3.6M809.4,372.2h3.6M811.2,370.4v3.6M816.0,365.0h3.6M817.8,363.2v3.6M827.7,360.0h3.6M829.5,358.2v3.6M817.3,360.9h3.6M819.1,359.1v3.6M811.1,372.9h3.6M812.9,371.1v3.6M815.7,364.0h3.6M817.5,362.2v3.6M820.8,367.3h3.6M822.6,365.5v3.6M842.2,347.8h3.6M844.0,346.0v3.6M831.9,358.4h3.6M833.7,356.6v3.6M820.2,364.7h3.6M822.0,362.9v3.6M846.1,351.8h3.6M847.9,350.0v3.6M841.2,350.9h3.6M843.0,349.1v3.6M815.4,366.1h3.6M817.2,364.3v3.6M843.3,351.0h3.6M845.1,349.2v3.6M822.3,360.6h3.6M824.1,358.8v3.6M837.3,351.2h3.6M839.1,349.4v3.6M821.8,364.2h3.6M823.6,362.4v3.6M827.2,357.0h3.6M829.0,355.2v3.6M827.1,355.1h3.6M828.9,353.3v3.6M826.3,351.1h3.6M828.1,349.3v3.6M819.0,366.3h3.6M820.8,364.5v3.6M838.1,353.1h3.6M839.9,351.3v3.6M838.4,352.5h3.6M840.2,350.7v3.6M845.3,349.9h3.6M847.1,348.1v3.6M815.3,359.8h3.6M817.1,358.0v3.6M808.7,355.4h3.6M810.5,353.6v3.6M816.3,374.7h3.6M818.1,372.9v3.6M819.2,361.8h3.6M821.0,360.0v3.6M849.8,346.0h3.6M851.6,344.2v3.6M815.8,353.8h3.6M817.6,352.0v3.6M845.5,357.8h3.6M847.3,356.0v3.6M837.3,357.3h3.6M839.1,355.5v3.6M825.4,357.3h3.6M827.2,355.5v3.6M854.9,339.3h3.6M856.7,337.5v3.6M820.4,372.3h3.6M822.2,370.5v3.6M815.4,359.7h3.6M817.2,357.9v3.6M840.3,355.0h3.6M842.1,353.2v3.6M817.1,364.0h3.6M818.9,362.2v3.6M842.6,350.8h3.6M844.4,349.0v3.6M844.9,340.3h3.6M846.7,338.5v3.6M848.0,359.8h3.6M849.8,358.0v3.6M826.7,362.7h3.6M828.5,360.9v3.6M818.2,366.9h3.6M820.0,365.1v3.6M823.1,365.2h3.6M824.9,363.4v3.6M813.1,351.1h3.6M814.9,349.3v3.6M838.5,363.8h3.6M840.3,362.0v3.6M813.4,366.2h3.6M815.2,364.4v3.6M809.4,373.8h3.6M811.2,372.0v3.6M823.6,366.2h3.6M825.4,364.4v3.6M817.9,366.5h3.6M819.7,364.7v3.6M839.1,359.6h3.6M840.9,357.8v3.6M834.4,343.2h3.6M836.2,341.4v3.6M836.9,352.5h3.6M838.7,350.7v3.6M841.7,352.9h3.6M843.5,351.1v3.6M814.8,358.1h3.6M816.6,356.3v3.6M815.4,357.2h3.6M817.2,355.4v3.6M841.1,352.5h3.6M842.9,350.7v3.6M849.0,347.4h3.6M850.8,345.6v3.6M832.5,357.0h3.6M834.3,355.2v3.6M818.9,363.7h3.6M820.7,361.9v3.6M842.5,348.1h3.6M844.3,346.3v3.6M815.5,372.6h3.6M817.3,370.8v3.6M812.4,370.2h3.6M814.2,368.4v3.6M820.4,360.8h3.6M822.2,359.0v3.6M837.7,357.7h3.6M839.5,355.9v3.6M839.0,348.6h3.6M840.8,346.8v3.6M812.7,368.5h3.6M814.5,366.7v3.6M823.8,363.9h3.6M825.6,362.1v3.6M834.6,347.7h3.6M836.4,345.9v3.6M819.6,363.0h3.6M821.4,361.2v3.6M814.6,351.2h3.6M816.4,349.4v3.6M846.6,343.4h3.6M848.4,341.6v3.6M833.2,354.7h3.6M835.0,352.9v3.6M835.5,352.7h3.6M837.3,350.9v3.6M817.1,368.3h3.6M818.9,366.5v3.6M814.1,356.0h3.6M815.9,354.2v3.6M815.2,367.5h3.6M817.0,365.7v3.6M838.9,353.0h3.6M840.7,351.2v3.6M842.0,350.7h3.6M843.8,348.9v3.6M845.1,347.5h3.6M846.9,345.7v3.6M818.6,363.8h3.6M820.4,362.0v3.6M835.2,347.7h3.6M837.0,345.9v3.6M850.7,346.7h3.6M852.5,344.9v3.6M816.5,364.7h3.6M818.3,362.9v3.6M811.4,369.8h3.6M813.2,368.0v3.6M818.8,353.2h3.6M820.6,351.4v3.6M836.8,353.7h3.6M838.6,351.9v3.6M830.1,361.9h3.6M831.9,360.1v3.6M820.7,359.3h3.6M822.5,357.5v3.6M816.5,364.7h3.6M818.3,362.9v3.6M839.4,344.0h3.6M841.2,342.2v3.6M808.9,369.7h3.6M810.7,367.9v3.6M822.4,365.6h3.6M824.2,363.8v3.6M821.6,365.5h3.6M823.4,363.7v3.6M824.3,366.3h3.6M826.1,364.5v3.6M839.2,352.6h3.6M841.0,350.8v3.6M819.6,361.8h3.6M821.4,360.0v3.6M851.6,350.4h3.6M853.4,348.6v3.6M839.2,354.6h3.6M841.0,352.8v3.6M814.9,365.6h3.6M816.7,363.8v3.6M846.2,352.5h3.6M848.0,350.7v3.6M815.7,368.0h3.6M817.5,366.2v3.6M811.1,374.1h3.6M812.9,372.3v3.6M819.4,362.0h3.6M821.2,360.2v3.6M812.9,373.1h3.6M814.7,371.3v3.6M808.7,354.3h3.6M810.5,352.5v3.6M838.6,356.5h3.6M840.4,354.7v3.6M841.4,338.8h3.6M843.2,337.0v3.6M812.8,354.8h3.6M814.6,353.0v3.6M843.0,342.8h3.6M844.8,341.0v3.6M826.3,357.5h3.6M828.1,355.7v3.6M816.5,368.3h3.6M818.3,366.5v3.6M838.9,355.4h3.6M840.7,353.6v3.6M810.2,367.7h3.6M812.0,365.9v3.6M826.0,365.7h3.6M827.8,363.9v3.6M809.9,371.1h3.6M811.7,369.3v3.6M838.8,345.7h3.6M840.6,343.9v3.6M814.0,369.8h3.6M815.8,368.0v3.6M820.8,363.8h3.6M822.6,362.0v3.6M845.7,346.8h3.6M847.5,345.0v3.6M820.3,370.2h3.6M822.1,368.4v3.6M832.1,358.7h3.6M833.9,356.9v3.6M812.9,348.3h3.6M814.7,346.5v3.6M820.8,365.2h3.6M822.6,363.4v3.6M834.2,363.6h3.6M836.0,361.8v3.6M838.1,349.6h3.6M839.9,347.8v3.6M823.7,356.8h3.6M825.5,355.0v3.6M840.5,353.3h3.6M842.3,351.5v3.6M822.7,372.7h3.6M824.5,370.9v3.6M844.4,354.6h3.6M846.2,352.8v3.6M820.5,372.0h3.6M822.3,370.2v3.6M838.5,348.0h3.6M840.3,346.2v3.6M821.2,371.2h3.6M823.0,369.4v3.6M812.0,374.8h3.6M813.8,373.0v3.6M839.3,353.4h3.6M841.1,351.6v3.6M812.7,371.5h3.6M814.5,369.7v3.6M824.5,362.3h3.6M826.3,360.5v3.6M814.7,362.0h3.6M816.5,360.2v3.6M834.7,354.2h3.6M836.5,352.4v3.6M828.5,364.7h3.6M830.3,362.9v3.6M820.5,364.1h3.6M822.3,362.3v3.6M849.4,344.5h3.6M851.2,342.7v3.6M814.8,373.5h3.6M816.6,371.7v3.6M848.2,345.2h3.6M850.0,343.4v3.6M852.7,349.0h3.6M854.5,347.2v3.6M811.3,363.8h3.6M813.1,362.0v3.6M833.9,363.4h3.6M835.7,361.6v3.6M852.0,336.9h3.6M853.8,335.1v3.6M810.2,365.8h3.6M812.0,364.0v3.6M816.6,358.9h3.6M818.4,357.1v3.6M853.5,340.1h3.6M855.3,338.3v3.6M825.0,362.4h3.6M826.8,360.6v3.6M836.5,357.2h3.6M838.3,355.4v3.6M849.9,337.6h3.6M851.7,335.8v3.6M849.3,352.1h3.6M851.1,350.3v3.6M856.5,338.5h3.6M858.3,336.7v3.6M833.7,353.8h3.6M835.5,352.0v3.6M844.6,345.6h3.6M846.4,343.8v3.6M811.1,359.7h3.6M812.9,357.9v3.6M830.8,359.1h3.6M832.6,357.3v3.6M849.5,342.1h3.6M851.3,340.3v3.6M840.9,344.1h3.6M842.7,342.3v3.6M849.6,353.9h3.6M851.4,352.1v3.6M814.8,366.2h3.6M816.6,364.4v3.6M820.2,369.5h3.6M822.0,367.7v3.6M816.4,352.8h3.6M818.2,351.0v3.6M818.0,366.5h3.6M819.8,364.7v3.6M828.4,356.6h3.6M830.2,354.8v3.6M832.9,356.9h3.6M834.7,355.1v3.6M818.6,374.5h3.6M820.4,372.7v3.6M819.7,362.8h3.6M821.5,361.0v3.6M814.8,367.6h3.6M816.6,365.8v3.6M827.5,366.6h3.6M829.3,364.8v3.6M835.3,345.6h3.6M837.1,343.8v3.6M839.2,345.2h3.6M841.0,343.4v3.6M823.8,365.9h3.6M825.6,364.1v3.6M808.7,353.7h3.6M810.5,351.9v3.6M838.0,355.2h3.6M839.8,353.4v3.6M841.7,343.4h3.6M843.5,341.6v3.6M810.1,369.3h3.6M811.9,367.5v3.6M815.7,371.0h3.6M817.5,369.2v3.6M823.9,349.1h3.6M825.7,347.3v3.6M838.3,355.6h3.6M840.1,353.8v3.6M844.3,339.2h3.6M846.1,337.4v3.6M832.4,362.9h3.6M834.2,361.1v3.6M838.3,347.6h3.6M840.1,345.8v3.6M834.7,358.9h3.6M836.5,357.1v3.6M839.6,360.8h3.6M841.4,359.0v3.6M820.2,357.3h3.6M822.0,355.5v3.6M838.6,343.9h3.6M840.4,342.1v3.6M825.1,351.7h3.6M826.9,349.9v3.6M812.5,360.2h3.6M814.3,358.4v3.6M820.3,358.3h3.6M822.1,356.5v3.6M846.0,341.9h3.6M847.8,340.1v3.6M830.2,358.2h3.6M832.0,356.4v3.6M821.9,361.7h3.6M823.7,359.9v3.6M848.8,349.2h3.6M850.6,347.4v3.6M842.6,344.0h3.6M844.4,342.2v3.6M817.0,374.1h3.6M818.8,372.3v3.6M813.2,364.7h3.6M815.0,362.9v3.6M808.9,367.4h3.6M810.7,365.6v3.6M811.7,350.8h3.6M813.5,349.0v3.6M841.1,352.3h3.6M842.9,350.5v3.6M847.5,343.3h3.6M849.3,341.5v3.6M841.9,347.9h3.6M843.7,346.1v3.6M815.6,370.8h3.6M817.4,369.0v3.6M832.3,361.5h3.6M834.1,359.7v3.6M846.3,349.5h3.6M848.1,347.7v3.6M841.4,349.6h3.6M843.2,347.8v3.6M833.3,347.1h3.6M835.1,345.3v3.6M824.1,358.0h3.6M825.9,356.2v3.6M820.4,355.4h3.6M822.2,353.6v3.6M837.5,356.8h3.6M839.3,355.0v3.6M836.9,358.8h3.6M838.7,357.0v3.6M847.4,347.1h3.6M849.2,345.3v3.6M817.9,360.4h3.6M819.7,358.6v3.6M827.5,357.4h3.6M829.3,355.6v3.6M851.2,348.3h3.6M853.0,346.5v3.6M811.2,362.6h3.6M813.0,360.8v3.6M826.9,355.1h3.6M828.7,353.3v3.6M840.7,353.3h3.6M842.5,351.5v3.6M836.9,354.5h3.6M838.7,352.7v3.6M839.3,349.2h3.6M841.1,347.4v3.6M837.1,353.7h3.6M838.9,351.9v3.6M818.0,366.9h3.6M819.8,365.1v3.6M829.7,360.0h3.6M831.5,358.2v3.6M848.9,350.4h3.6M850.7,348.6v3.6M817.0,364.2h3.6M818.8,362.4v3.6M810.2,367.3h3.6M812.0,365.5v3.6M835.6,349.2h3.6M837.4,347.4v3.6M810.8,373.7h3.6M812.6,371.9v3.6M812.6,363.9h3.6M814.4,362.1v3.6M809.3,362.3h3.6M811.1,360.5v3.6M826.0,359.2h3.6M827.8,357.4v3.6M840.2,354.7h3.6M842.0,352.9v3.6M820.2,367.7h3.6M822.0,365.9v3.6M830.0,363.6h3.6M831.8,361.8v3.6M819.6,366.8h3.6M821.4,365.0v3.6M845.8,343.6h3.6M847.6,341.8v3.6M816.5,366.5h3.6M818.3,364.7v3.6M852.8,337.4h3.6M854.6,335.6v3.6M842.5,357.0h3.6M844.3,355.2v3.6M840.2,348.8h3.6M842.0,347.0v3.6M841.6,347.3h3.6M843.4,345.5v3.6M814.9,363.4h3.6M816.7,361.6v3.6M820.6,372.8h3.6M822.4,371.0v3.6M843.4,357.8h3.6M845.2,356.0v3.6M816.7,359.1h3.6M818.5,357.3v3.6M819.4,362.7h3.6M821.2,360.9v3.6M839.2,349.2h3.6M841.0,347.4v3.6M815.2,364.9h3.6M817.0,363.1v3.6M810.6,355.7h3.6M812.4,353.9v3.6M821.1,361.7h3.6M822.9,359.9v3.6M828.7,363.9h3.6M830.5,362.1v3.6M846.6,349.5h3.6M848.4,347.7v3.6M833.4,357.8h3.6M835.2,356.0v3.6M814.6,362.4h3.6M816.4,360.6v3.6M820.9,361.5h3.6M822.7,359.7v3.6M844.4,346.2h3.6M846.2,344.4v3.6M814.9,360.9h3.6M816.7,359.1v3.6M834.7,361.1h3.6M836.5,359.3v3.6M825.2,359.2h3.6M827.0,357.4v3.6M838.6,349.4h3.6M840.4,347.6v3.6M809.1,367.1h3.6M810.9,365.3v3.6M817.5,362.4h3.6M819.3,360.6v3.6M830.9,363.7h3.6M832.7,361.9v3.6M852.5,343.5h3.6M854.3,341.7v3.6M833.4,353.1h3.6M835.2,351.3v3.6M824.5,346.3h3.6M826.3,344.5v3.6M840.0,353.8h3.6M841.8,352.0v3.6M818.8,360.7h3.6M820.6,358.9v3.6M826.9,356.8h3.6M828.7,355.0v3.6M817.9,364.2h3.6M819.7,362.4v3.6M833.6,354.5h3.6M835.4,352.7v3.6M819.2,352.2h3.6M821.0,350.4v3.6M829.8,361.0h3.6M831.6,359.2v3.6M823.8,355.0h3.6M825.6,353.2v3.6M834.1,360.2h3.6M835.9,358.4v3.6M817.3,366.5h3.6M819.1,364.7v3.6M827.7,362.0h3.6M829.5,360.2v3.6M818.9,365.9h3.6M820.7,364.1v3.6M835.7,356.0h3.6M837.5,354.2v3.6M833.6,340.7h3.6M835.4,338.9v3.6M816.9,371.2h3.6M818.7,369.4v3.6M819.1,372.7h3.6M820.9,370.9v3.6M817.6,372.6h3.6M819.4,370.8v3.6M818.0,371.7h3.6M819.8,369.9v3.6M813.3,357.8h3.6M815.1,356.0v3.6M822.0,359.1h3.6M823.8,357.3v3.6M814.5,366.5h3.6M816.3,364.7v3.6M835.1,362.2h3.6M836.9,360.4v3.6M821.0,359.0h3.6M822.8,357.2v3.6M811.0,368.2h3.6M812.8,366.4v3.6M812.6,352.9h3.6M814.4,351.1v3.6M818.3,364.5h3.6M820.1,362.7v3.6M826.5,364.7h3.6M828.3,362.9v3.6M840.8,350.6h3.6M842.6,348.8v3.6M836.9,360.8h3.6M838.7,359.0v3.6M820.5,368.2h3.6M822.3,366.4v3.6M844.3,348.0h3.6M846.1,346.2v3.6M833.2,364.5h3.6M835.0,362.7v3.6M816.0,352.3h3.6M817.8,350.5v3.6M816.6,348.2h3.6M818.4,346.4v3.6M842.5,349.3h3.6M844.3,347.5v3.6M817.6,374.8h3.6M819.4,373.0v3.6M821.5,360.9h3.6M823.3,359.1v3.6M817.1,357.9h3.6M818.9,356.1v3.6M810.0,369.6h3.6M811.8,367.8v3.6M828.2,362.9h3.6M830.0,361.1v3.6M821.4,358.6h3.6M823.2,356.8v3.6M815.0,357.4h3.6M816.8,355.6v3.6M825.3,360.5h3.6M827.1,358.7v3.6M840.6,346.5h3.6M842.4,344.7v3.6M812.2,371.3h3.6M814.0,369.5v3.6M824.4,353.2h3.6M826.2,351.4v3.6M817.8,358.8h3.6M819.6,357.0v3.6M849.1,353.1h3.6M850.9,351.3v3.6M842.1,348.6h3.6M843.9,346.8v3.6M843.3,351.3h3.6M845.1,349.5v3.6M848.4,342.0h3.6M850.2,340.2v3.6M855.8,340.6h3.6M857.6,338.8v3.6M832.0,358.6h3.6M833.8,356.8v3.6M850.9,349.7h3.6M852.7,347.9v3.6M812.6,365.4h3.6M814.4,363.6v3.6M809.8,348.8h3.6M811.6,347.0v3.6M820.6,362.9h3.6M822.4,361.1v3.6M815.2,353.8h3.6M817.0,352.0v3.6M841.7,348.2h3.6M843.5,346.4v3.6M842.1,352.9h3.6M843.9,351.1v3.6M842.1,352.3h3.6M843.9,350.5v3.6M849.0,339.0h3.6M850.8,337.2v3.6M823.1,367.2h3.6M824.9,365.4v3.6M819.0,356.8h3.6M820.8,355.0v3.6M835.5,352.4h3.6M837.3,350.6v3.6M813.7,365.5h3.6M815.5,363.7v3.6M834.8,358.4h3.6M836.6,356.6v3.6M856.5,343.8h3.6M858.3,342.0v3.6M835.7,358.2h3.6M837.5,356.4v3.6M823.6,361.4h3.6M825.4,359.6v3.6M832.5,359.2h3.6M834.3,357.4v3.6M816.6,368.5h3.6M818.4,366.7v3.6M847.6,348.0h3.6M849.4,346.2v3.6M812.2,372.6h3.6M814.0,370.8v3.6M835.4,358.2h3.6M837.2,356.4v3.6M816.2,348.3h3.6M818.0,346.5v3.6M818.7,354.9h3.6M820.5,353.1v3.6M838.0,350.0h3.6M839.8,348.2v3.6M818.6,372.4h3.6M820.4,370.6v3.6M833.2,357.9h3.6M835.0,356.1v3.6M830.6,357.0h3.6M832.4,355.2v3.6M840.0,349.0h3.6M841.8,347.2v3.6M818.7,371.3h3.6M820.5,369.5v3.6M825.0,354.5h3.6M826.8,352.7v3.6M852.5,338.8h3.6M854.3,337.0v3.6M816.2,360.8h3.6M818.0,359.0v3.6M810.4,374.4h3.6M812.2,372.6v3.6M834.6,353.6h3.6M836.4,351.8v3.6M842.7,354.9h3.6M844.5,353.1v3.6M821.4,370.9h3.6M823.2,369.1v3.6M819.8,366.5h3.6M821.6,364.7v3.6M843.7,349.6h3.6M845.5,347.8v3.6M823.7,361.1h3.6M825.5,359.3v3.6M844.2,339.9h3.6M846.0,338.1v3.6M818.4,362.8h3.6M820.2,361.0v3.6M818.0,358.9h3.6M819.8,357.1v3.6M818.0,349.8h3.6M819.8,348.0v3.6M819.2,369.4h3.6M821.0,367.6v3.6M819.4,370.8h3.6M821.2,369.0v3.6M838.7,346.9h3.6M840.5,345.1v3.6M818.8,360.8h3.6M820.6,359.0v3.6M817.0,367.1h3.6M818.8,365.3v3.6M853.4,341.1h3.6M855.2,339.3v3.6M840.9,343.6h3.6M842.7,341.8v3.6M843.2,348.1h3.6M845.0,346.3v3.6M823.5,363.5h3.6M825.3,361.7v3.6M817.4,367.8h3.6M819.2,366.0v3.6M815.6,371.0h3.6M817.4,369.2v3.6M839.3,346.1h3.6M841.1,344.3v3.6M819.2,356.7h3.6M821.0,354.9v3.6M847.6,348.4h3.6M849.4,346.6v3.6M840.1,361.2h3.6M841.9,359.4v3.6M832.2,355.5h3.6M834.0,353.7v3.6M810.8,368.1h3.6M812.6,366.3v3.6M836.0,350.2h3.6M837.8,348.4v3.6M815.9,361.8h3.6M817.7,360.0v3.6M854.6,340.9h3.6M856.4,339.1v3.6M816.0,349.5h3.6M817.8,347.7v3.6M818.3,369.9h3.6M820.1,368.1v3.6M830.2,358.0h3.6M832.0,356.2v3.6M818.1,367.6h3.6M819.9,365.8v3.6M844.4,353.1h3.6M846.2,351.3v3.6M809.0,349.3h3.6M810.8,347.5v3.6M822.9,365.9h3.6M824.7,364.1v3.6M810.8,365.7h3.6M812.6,363.9v3.6M831.4,362.5h3.6M833.2,360.7v3.6M833.0,359.8h3.6M834.8,358.0v3.6M843.3,352.5h3.6M845.1,350.7v3.6M841.9,354.7h3.6M843.7,352.9v3.6M833.9,347.0h3.6M835.7,345.2v3.6M838.6,352.9h3.6M840.4,351.1v3.6M820.9,355.8h3.6M822.7,354.0v3.6M839.4,356.7h3.6M841.2,354.9v3.6M841.5,350.5h3.6M843.3,348.7v3.6M819.8,355.1h3.6M821.6,353.3v3.6M826.4,369.9h3.6M828.2,368.1v3.6M815.8,366.4h3.6M817.6,364.6v3.6M836.6,349.6h3.6M838.4,347.8v3.6M825.8,373.7h3.6M827.6,371.9v3.6M818.6,369.1h3.6M820.4,367.3v3.6M840.5,352.8h3.6M842.3,351.0v3.6M819.3,362.4h3.6M821.1,360.6v3.6M838.6,351.2h3.6M840.4,349.4v3.6M837.9,351.9h3.6M839.7,350.1v3.6M837.9,343.2h3.6M839.7,341.4v3.6M840.9,350.6h3.6M842.7,348.8v3.6M823.6,368.0h3.6M825.4,366.2v3.6M810.8,369.2h3.6M812.6,367.4v3.6M839.0,347.8h3.6M840.8,346.0v3.6M833.9,353.4h3.6M835.7,351.6v3.6M843.7,349.5h3.6M845.5,347.7v3.6M825.0,361.6h3.6M826.8,359.8v3.6M820.9,364.5h3.6M822.7,362.7v3.6M823.1,359.6h3.6M824.9,357.8v3.6M844.7,350.9h3.6M846.5,349.1v3.6M832.4,354.8h3.6M834.2,353.0v3.6M826.1,362.9h3.6M827.9,361.1v3.6M830.4,355.0h3.6M832.2,353.2v3.6M817.7,359.9h3.6M819.5,358.1v3.6M845.3,347.6h3.6M847.1,345.8v3.6M815.8,367.2h3.6M817.6,365.4v3.6M841.3,348.7h3.6M843.1,346.9v3.6M845.9,344.8h3.6M847.7,343.0v3.6M835.4,355.7h3.6M837.2,353.9v3.6M810.4,371.8h3.6M812.2,370.0v3.6M815.0,368.6h3.6M816.8,366.8v3.6M826.4,351.5h3.6M828.2,349.7v3.6M815.4,363.3h3.6M817.2,361.5v3.6M825.1,355.4h3.6M826.9,353.6v3.6M849.9,349.2h3.6M851.7,347.4v3.6M820.3,356.6h3.6M822.1,354.8v3.6M841.9,348.1h3.6M843.7,346.3v3.6M834.9,360.3h3.6M836.7,358.5v3.6M817.9,362.8h3.6M819.7,361.0v3.6M854.5,346.2h3.6M856.3,344.4v3.6M827.3,354.3h3.6M829.1,352.5v3.6M838.4,359.8h3.6M840.2,358.0v3.6M833.8,356.0h3.6M835.6,354.2v3.6M843.7,339.0h3.6M845.5,337.2v3.6M838.5,348.6h3.6M840.3,346.8v3.6M820.4,368.1h3.6M822.2,366.3v3.6M824.2,359.4h3.6M826.0,357.6v3.6M817.7,369.5h3.6M819.5,367.7v3.6M838.5,352.8h3.6M840.3,351.0v3.6M832.5,356.1h3.6M834.3,354.3v3.6M835.9,355.6h3.6M837.7,353.8v3.6M843.7,347.6h3.6M845.5,345.8v3.6M811.7,368.0h3.6M813.5,366.2v3.6M853.9,346.6h3.6M855.7,344.8v3.6M821.8,366.6h3.6M823.6,364.8v3.6M824.8,360.2h3.6M826.6,358.4v3.6M820.6,369.0h3.6M822.4,367.2v3.6M817.0,367.9h3.6M818.8,366.1v3.6M817.5,359.1h3.6M819.3,357.3v3.6M811.7,369.5h3.6M813.5,367.7v3.6M832.1,352.1h3.6M833.9,350.3v3.6M836.3,351.2h3.6M838.1,349.4v3.6M851.5,342.3h3.6M853.3,340.5v3.6M824.4,359.6h3.6M826.2,357.8v3.6M815.2,365.2h3.6M817.0,363.4v3.6M815.5,369.5h3.6M817.3,367.7v3.6M835.5,363.5h3.6M837.3,361.7v3.6M838.3,354.9h3.6M840.1,353.1v3.6M842.1,353.2h3.6M843.9,351.4v3.6M840.6,359.1h3.6M842.4,357.3v3.6M842.3,347.9h3.6M844.1,346.1v3.6M832.5,358.0h3.6M834.3,356.2v3.6M849.0,346.5h3.6M850.8,344.7v3.6M835.4,352.3h3.6M837.2,350.5v3.6M844.9,347.7h3.6M846.7,345.9v3.6M831.9,352.8h3.6M833.7,351.0v3.6M817.5,349.8h3.6M819.3,348.0v3.6M819.8,370.9h3.6M821.6,369.1v3.6M827.7,347.8h3.6M829.5,346.0v3.6M825.6,361.4h3.6M827.4,359.6v3.6M850.1,344.8h3.6M851.9,343.0v3.6M827.1,354.4h3.6M828.9,352.6v3.6M824.6,362.0h3.6M826.4,360.2v3.6M832.7,352.1h3.6M834.5,350.3v3.6M834.2,365.5h3.6M836.0,363.7v3.6M848.3,343.6h3.6M850.1,341.8v3.6M817.9,372.9h3.6M819.7,371.1v3.6M839.9,349.1h3.6M841.7,347.3v3.6M817.1,358.9h3.6M818.9,357.1v3.6M830.5,363.7h3.6M832.3,361.9v3.6M820.1,362.5h3.6M821.9,360.7v3.6M813.7,370.8h3.6M815.5,369.0v3.6M818.4,364.0h3.6M820.2,362.2v3.6M817.1,364.8h3.6M818.9,363.0v3.6M842.5,345.6h3.6M844.3,343.8v3.6M848.2,341.2h3.6M850.0,339.4v3.6M840.3,349.9h3.6M842.1,348.1v3.6M825.1,352.5h3.6M826.9,350.7v3.6M849.1,345.8h3.6M850.9,344.0v3.6M814.4,367.0h3.6M816.2,365.2v3.6M820.5,367.0h3.6M822.3,365.2v3.6M839.7,354.8h3.6M841.5,353.0v3.6M817.8,362.1h3.6M819.6,360.3v3.6M853.7,344.3h3.6M855.5,342.5v3.6M818.5,364.9h3.6M820.3,363.1v3.6M837.4,350.0h3.6M839.2,348.2v3.6M837.3,346.5h3.6M839.1,344.7v3.6M851.8,346.7h3.6M853.6,344.9v3.6M808.8,367.4h3.6M810.6,365.6v3.6M819.2,361.7h3.6M821.0,359.9v3.6M828.4,353.5h3.6M830.2,351.7v3.6M847.5,349.8h3.6M849.3,348.0v3.6M809.3,367.5h3.6M811.1,365.7v3.6M833.0,353.2h3.6M834.8,351.4v3.6M819.5,368.1h3.6M821.3,366.3v3.6M832.5,355.8h3.6M834.3,354.0v3.6M815.0,364.6h3.6M816.8,362.8v3.6M856.5,341.7h3.6M858.3,339.9v3.6M820.7,355.2h3.6M822.5,353.4v3.6M836.5,353.7h3.6M838.3,351.9v3.6M867.9,347.3h3.6M869.7,345.5v3.6M859.0,364.2h3.6M860.8,362.4v3.6M856.9,365.6h3.6M858.7,363.8v3.6M855.3,338.3h3.6M857.1,336.5v3.6M852.7,335.8h3.6M854.5,334.0v3.6M824.9,337.7h3.6M826.7,335.9v3.6M850.6,344.0h3.6M852.4,342.2v3.6M855.8,352.3h3.6M857.6,350.5v3.6M856.9,353.8h3.6M858.7,352.0v3.6M853.7,361.6h3.6M855.5,359.8v3.6M851.6,365.8h3.6M853.4,364.0v3.6M848.5,367.3h3.6M850.3,365.5v3.6M854.8,346.0h3.6M856.6,344.2v3.6M811.7,348.1h3.6M813.5,346.3v3.6M813.8,349.7h3.6M815.6,347.9v3.6M817.0,350.2h3.6M818.8,348.4v3.6" stroke="#000" stroke-width="0.8" fill="none"/>
</g>
<rect x="810.40" y="271.30" width="104.90" height="103.80" fill="none" stroke="#000" stroke-width="1"/>
<line x1="810.40" y1="375.10" x2="810.40" y2="378.60" stroke="#000" stroke-width="0.8"/>
<line x1="806.90" y1="375.10" x2="810.40" y2="375.10" stroke="#000" stroke-width="0.8"/>
<text x="810.4" y="388.40000000000003" font-size="8" text-anchor="middle" textLength="4.6" lengthAdjust="spacingAndGlyphs">0</text>
<text x="803.4" y="378.0" font-size="8" text-anchor="end" textLength="4.6" lengthAdjust="spacingAndGlyphs">0</text>
<line x1="815.64" y1="375.10" x2="815.64" y2="377.10" stroke="#000" stroke-width="0.6"/>
<line x1="808.40" y1="369.91" x2="810.40" y2="369.91" stroke="#000" stroke-width="0.6"/>
<line x1="820.89" y1="375.10" x2="820.89" y2="377.10" stroke="#000" stroke-width="0.6"/>
<line x1="808.40" y1="364.72" x2="810.40" y2="364.72" stroke="#000" stroke-width="0.6"/>
<line x1="826.13" y1="375.10" x2="826.13" y2="377.10" stroke="#000" stroke-width="0.6"/>
<line x1="808.40" y1="359.53" x2="810.40" y2="359.53" stroke="#000" stroke-width="0.6"/>
<line x1="831.38" y1="375.10" x2="831.38" y2="378.60" stroke="#000" stroke-width="0.8"/>
<line x1="806.90" y1="354.34" x2="810.40" y2="354.34" stroke="#000" stroke-width="0.8"/>
<text x="831.38" y="388.40000000000003" font-size="8" text-anchor="middle" textLength="9.0" lengthAdjust="spacingAndGlyphs">20</text>
<text x="803.4" y="357.24" font-size="8" text-anchor="end" textLength="9.0" lengthAdjust="spacingAndGlyphs">20</text>
<line x1="836.62" y1="375.10" x2="836.62" y2="377.10" stroke="#000" stroke-width="0.6"/>
<line x1="808.40" y1="349.15" x2="810.40" y2="349.15" stroke="#000" stroke-width="0.6"/>
<line x1="841.87" y1="375.10" x2="841.87" y2="377.10" stroke="#000" stroke-width="0.6"/>
<line x1="808.40" y1="343.96" x2="810.40" y2="343.96" stroke="#000" stroke-width="0.6"/>
<line x1="847.12" y1="375.10" x2="847.12" y2="377.10" stroke="#000" stroke-width="0.6"/>
<line x1="808.40" y1="338.77" x2="810.40" y2="338.77" stroke="#000" stroke-width="0.6"/>
<line x1="852.36" y1="375.10" x2="852.36" y2="378.60" stroke="#000" stroke-width="0.8"/>
<line x1="806.90" y1="333.58" x2="810.40" y2="333.58" stroke="#000" stroke-width="0.8"/>
<text x="852.36" y="388.40000000000003" font-size="8" text-anchor="middle" textLength="9.0" lengthAdjust="spacingAndGlyphs">40</text>
<text x="803.4" y="336.48" font-size="8" text-anchor="end" textLength="9.0" lengthAdjust="spacingAndGlyphs">40</text>
<line x1="857.61" y1="375.10" x2="857.61" y2="377.10" stroke="#000" stroke-width="0.6"/>
<line x1="808.40" y1="328.39" x2="810.40" y2="328.39" stroke="#000" stroke-width="0.6"/>
<line x1="862.85" y1="375.10" x2="862.85" y2="377.10" stroke="#000" stroke-width="0.6"/>
<line x1="808.40" y1="323.20" x2="810.40" y2="323.20" stroke="#000" stroke-width="0.6"/>
<line x1="868.10" y1="375.10" x2="868.10" y2="377.10" stroke="#000" stroke-width="0.6"/>
<line x1="808.40" y1="318.01" x2="810.40" y2="318.01" stroke="#000" stroke-width="0.6"/>
<line x1="873.34" y1="375.10" x2="873.34" y2="378.60" stroke="#000" stroke-width="0.8"/>
<line x1="806.90" y1="312.82" x2="810.40" y2="312.82" stroke="#000" stroke-width="0.8"/>
<text x="873.3399999999999" y="388.40000000000003" font-size="8" text-anchor="middle" textLength="9.0" lengthAdjust="spacingAndGlyphs">60</text>
<text x="803.4" y="315.71999999999997" font-size="8" text-anchor="end" textLength="9.0" lengthAdjust="spacingAndGlyphs">60</text>
<line x1="878.58" y1="375.10" x2="878.58" y2="377.10" stroke="#000" stroke-width="0.6"/>
<line x1="808.40" y1="307.63" x2="810.40" y2="307.63" stroke="#000" stroke-width="0.6"/>
<line x1="883.83" y1="375.10" x2="883.83" y2="377.10" stroke="#000" stroke-width="0.6"/>
<line x1="808.40" y1="302.44" x2="810.40" y2="302.44" stroke="#000" stroke-width="0.6"/>
<line x1="889.07" y1="375.10" x2="889.07" y2="377.10" stroke="#000" stroke-width="0.6"/>
<line x1="808.40" y1="297.25" x2="810.40" y2="297.25" stroke="#000" stroke-width="0.6"/>
<line x1="894.32" y1="375.10" x2="894.32" y2="378.60" stroke="#000" stroke-width="0.8"/>
<line x1="806.90" y1="292.06" x2="810.40" y2="292.06" stroke="#000" stroke-width="0.8"/>
<text x="894.3199999999999" y="388.40000000000003" font-size="8" text-anchor="middle" textLength="9.0" lengthAdjust="spacingAndGlyphs">80</text>
<text x="803.4" y="294.96" font-size="8" text-anchor="end" textLength="9.0" lengthAdjust="spacingAndGlyphs">80</text>
<line x1="899.56" y1="375.10" x2="899.56" y2="377.10" stroke="#000" stroke-width="0.6"/>
<line x1="808.40" y1="286.87" x2="810.40" y2="286.87" stroke="#000" stroke-width="0.6"/>
<line x1="904.81" y1="375.10" x2="904.81" y2="377.10" stroke="#000" stroke-width="0.6"/>
<line x1="808.40" y1="281.68" x2="810.40" y2="281.68" stroke="#000" stroke-width="0.6"/>
<line x1="910.05" y1="375.10" x2="910.05" y2="377.10" stroke="#000" stroke-width="0.6"/>
<line x1="808.40" y1="276.49" x2="810.40" y2="276.49" stroke="#000" stroke-width="0.6"/>
<line x1="915.30" y1="375.10" x2="915.30" y2="378.60" stroke="#000" stroke-width="0.8"/>
<line x1="806.90" y1="271.30" x2="810.40" y2="271.30" stroke="#000" stroke-width="0.8"/>
<text x="915.3" y="388.40000000000003" font-size="8" text-anchor="middle" textLength="13.6" lengthAdjust="spacingAndGlyphs">100</text>
<text x="803.4" y="274.2" font-size="8" text-anchor="end" textLength="13.6" lengthAdjust="spacingAndGlyphs">100</text>
<text x="862.8499999999999" y="398.7" font-size="10" text-anchor="middle">ANALYSIS</text>
<text x="786.3" y="324.70000000000005" font-size="10" text-anchor="middle" transform="rotate(-90 786.3 324.70000000000005)">IMERG_NRT</text>
<text x="561.4" y="406.9" font-size="10" text-anchor="start">Provided by JWA/JMA</text>
<rect x="555.50" y="31.50" width="383.10" height="382.70" fill="none" stroke="#000" stroke-width="1.15"/>
<text x="746.4499999999999" y="24.6" font-size="12" text-anchor="middle" textLength="262.6" lengthAdjust="spacingAndGlyphs">Daily Radar-AMeDAS analysis for 20260402</text>
<text x="618.7" y="425.3" font-size="9" text-anchor="middle" fill="#111" textLength="22.8" lengthAdjust="spacingAndGlyphs">125°E</text>
<text x="682.45" y="425.3" font-size="9" text-anchor="middle" fill="#111" textLength="22.8" lengthAdjust="spacingAndGlyphs">130°E</text>
<text x="746.2" y="425.3" font-size="9" text-anchor="middle" fill="#111" textLength="22.8" lengthAdjust="spacingAndGlyphs">135°E</text>
<text x="809.95" y="425.3" font-size="9" text-anchor="middle" fill="#111" textLength="22.8" lengthAdjust="spacingAndGlyphs">140°E</text>
<text x="873.7" y="425.3" font-size="9" text-anchor="middle" fill="#111" textLength="22.8" lengthAdjust="spacingAndGlyphs">145°E</text>
<text x="550.9" y="351.90000000000003" font-size="9" text-anchor="end" fill="#111" textLength="18.8" lengthAdjust="spacingAndGlyphs">25°N</text>
<text x="550.9" y="288.07500000000005" font-size="9" text-anchor="end" fill="#111" textLength="18.8" lengthAdjust="spacingAndGlyphs">30°N</text>
<text x="550.9" y="224.25" font-size="9" text-anchor="end" fill="#111" textLength="18.8" lengthAdjust="spacingAndGlyphs">35°N</text>
<text x="550.9" y="160.42499999999998" font-size="9" text-anchor="end" fill="#111" textLength="18.8" lengthAdjust="spacingAndGlyphs">40°N</text>
<text x="550.9" y="96.6" font-size="9" text-anchor="end" fill="#111" textLength="18.8" lengthAdjust="spacingAndGlyphs">45°N</text>
<rect x="971.90" y="377.34" width="21.70" height="36.76" fill="#ffe6b8" stroke="none" stroke-width="1"/>
<rect x="971.90" y="340.88" width="21.70" height="36.76" fill="#d6ffc6" stroke="none" stroke-width="1"/>
<rect x="971.90" y="304.42" width="21.70" height="36.76" fill="#8cfa8c" stroke="none" stroke-width="1"/>
<rect x="971.90" y="267.96" width="21.70" height="36.76" fill="#5cffff" stroke="none" stroke-width="1"/>
<rect x="971.90" y="231.50" width="21.70" height="36.76" fill="#00c8ff" stroke="none" stroke-width="1"/>
<rect x="971.90" y="195.04" width="21.70" height="36.76" fill="#0064ff" stroke="none" stroke-width="1"/>
<rect x="971.90" y="158.58" width="21.70" height="36.76" fill="#9664ff" stroke="none" stroke-width="1"/>
<rect x="971.90" y="122.12" width="21.70" height="36.76" fill="#dc64ff" stroke="none" stroke-width="1"/>
<rect x="971.90" y="85.66" width="21.70" height="36.76" fill="#ff00ff" stroke="none" stroke-width="1"/>
<rect x="971.90" y="49.20" width="21.70" height="36.76" fill="#cd9640" stroke="none" stroke-width="1"/>
<polygon points="971.9,49.5 982.75,30.3 993.6,49.5" fill="#000" stroke="#000" stroke-width="1" stroke-linejoin="miter"/>
<rect x="971.90" y="49.50" width="21.70" height="364.60" fill="none" stroke="#111" stroke-width="0.9"/>
<line x1="993.60" y1="414.60" x2="997.80" y2="414.60" stroke="#000" stroke-width="0.9"/>
<text x="1001.2" y="418.8" font-size="11" text-anchor="start">0</text>
<line x1="993.60" y1="378.14" x2="997.80" y2="378.14" stroke="#000" stroke-width="0.9"/>
<text x="1001.2" y="382.34000000000003" font-size="11" text-anchor="start">1</text>
<line x1="993.60" y1="341.68" x2="997.80" y2="341.68" stroke="#000" stroke-width="0.9"/>
<text x="1001.2" y="345.88" font-size="11" text-anchor="start">2</text>
<line x1="993.60" y1="305.22" x2="997.80" y2="305.22" stroke="#000" stroke-width="0.9"/>
<text x="1001.2" y="309.42" font-size="11" text-anchor="start">5</text>
<line x1="993.60" y1="268.76" x2="997.80" y2="268.76" stroke="#000" stroke-width="0.9"/>
<text x="1001.2" y="272.96" font-size="11" text-anchor="start">10</text>
<line x1="993.60" y1="232.30" x2="997.80" y2="232.30" stroke="#000" stroke-width="0.9"/>
<text x="1001.2" y="236.5" font-size="11" text-anchor="start">20</text>
<line x1="993.60" y1="195.84" x2="997.80" y2="195.84" stroke="#000" stroke-width="0.9"/>
<text x="1001.2" y="200.04000000000002" font-size="11" text-anchor="start">50</text>
<line x1="993.60" y1="159.38" x2="997.80" y2="159.38" stroke="#000" stroke-width="0.9"/>
<text x="1001.2" y="163.58" font-size="11" text-anchor="start">100</text>
<line x1="993.60" y1="122.92" x2="997.80" y2="122.92" stroke="#000" stroke-width="0.9"/>
<text x="1001.2" y="127.12000000000002" font-size="11" text-anchor="start">150</text>
<line x1="993.60" y1="86.46" x2="997.80" y2="86.46" stroke="#000" stroke-width="0.9"/>
<text x="1001.2" y="90.66000000000004" font-size="11" text-anchor="start">200</text>
<line x1="993.60" y1="50.00" x2="997.80" y2="50.00" stroke="#000" stroke-width="0.9"/>
<text x="1001.2" y="54.2" font-size="11" text-anchor="start">300</text>
<text x="140.5" y="447" font-size="10" text-anchor="middle">Daily fraction by occurence</text>
<rect x="74.80" y="452.50" width="67.50" height="17.50" fill="#ffe6b8" stroke="#000" stroke-width="0.5"/>
<rect x="142.30" y="452.50" width="10.10" height="17.50" fill="#d6ffc6" stroke="#000" stroke-width="0.5"/>
<rect x="152.40" y="452.50" width="14.10" height="17.50" fill="#8cfa8c" stroke="#000" stroke-width="0.5"/>
<rect x="166.50" y="452.50" width="13.10" height="17.50" fill="#5cffff" stroke="#000" stroke-width="0.5"/>
<rect x="179.60" y="452.50" width="15.60" height="17.50" fill="#00c8ff" stroke="#000" stroke-width="0.5"/>
<rect x="195.20" y="452.50" width="12.20" height="17.50" fill="#0064ff" stroke="#000" stroke-width="0.5"/>
<rect x="74.80" y="479.50" width="57.50" height="18.00" fill="#ffe6b8" stroke="#000" stroke-width="0.5"/>
<rect x="132.30" y="479.50" width="8.20" height="18.00" fill="#d6ffc6" stroke="#000" stroke-width="0.5"/>
<rect x="140.50" y="479.50" width="18.60" height="18.00" fill="#8cfa8c" stroke="#000" stroke-width="0.5"/>
<rect x="159.10" y="479.50" width="14.40" height="18.00" fill="#5cffff" stroke="#000" stroke-width="0.5"/>
<rect x="173.50" y="479.50" width="13.70" height="18.00" fill="#00c8ff" stroke="#000" stroke-width="0.5"/>
<rect x="187.20" y="479.50" width="20.20" height="18.00" fill="#0064ff" stroke="#000" stroke-width="0.5"/>
<line x1="142.30" y1="470.00" x2="132.30" y2="479.50" stroke="#000" stroke-width="0.5"/>
<line x1="152.40" y1="470.00" x2="140.50" y2="479.50" stroke="#000" stroke-width="0.5"/>
<line x1="166.50" y1="470.00" x2="159.10" y2="479.50" stroke="#000" stroke-width="0.5"/>
<line x1="179.60" y1="470.00" x2="173.50" y2="479.50" stroke="#000" stroke-width="0.5"/>
<line x1="195.20" y1="470.00" x2="187.20" y2="479.50" stroke="#000" stroke-width="0.5"/>
<rect x="74.80" y="470.00" width="132.60" height="9.50" fill="none" stroke="#000" stroke-width="0.5"/>
<text x="47.3" y="466" font-size="10" text-anchor="start">Est</text>
<text x="47.3" y="493" font-size="10" text-anchor="start">Obs</text>
<text x="58" y="509.7" font-size="10" text-anchor="start">0%</text>
<text x="135.3" y="509.7" font-size="10" text-anchor="middle">Areal fraction</text>
<text x="195" y="509.7" font-size="10" text-anchor="start">100%</text>
<text x="140.5" y="527.7" font-size="10" text-anchor="middle">Daily fraction of total rain</text>
<rect x="74.80" y="533.20" width="1.60" height="18.00" fill="#ffe6b8" stroke="#000" stroke-width="0.5"/>
<rect x="76.40" y="533.20" width="2.10" height="18.00" fill="#d6ffc6" stroke="#000" stroke-width="0.5"/>
<rect x="78.50" y="533.20" width="7.00" height="18.00" fill="#8cfa8c" stroke="#000" stroke-width="0.5"/>
<rect x="85.50" y="533.20" width="12.90" height="18.00" fill="#5cffff" stroke="#000" stroke-width="0.5"/>
<rect x="98.40" y="533.20" width="33.90" height="18.00" fill="#00c8ff" stroke="#000" stroke-width="0.5"/>
<rect x="132.30" y="533.20" width="40.30" height="18.00" fill="#0064ff" stroke="#000" stroke-width="0.5"/>
<rect x="74.80" y="560.30" width="0.60" height="18.00" fill="#ffe6b8" stroke="#000" stroke-width="0.5"/>
<rect x="75.40" y="560.30" width="2.20" height="18.00" fill="#d6ffc6" stroke="#000" stroke-width="0.5"/>
<rect x="77.60" y="560.30" width="8.80" height="18.00" fill="#8cfa8c" stroke="#000" stroke-width="0.5"/>
<rect x="86.40" y="560.30" width="12.90" height="18.00" fill="#5cffff" stroke="#000" stroke-width="0.5"/>
<rect x="99.30" y="560.30" width="31.10" height="18.00" fill="#00c8ff" stroke="#000" stroke-width="0.5"/>
<rect x="130.40" y="560.30" width="77.00" height="18.00" fill="#0064ff" stroke="#000" stroke-width="0.5"/>
<line x1="76.40" y1="551.20" x2="75.40" y2="560.30" stroke="#000" stroke-width="0.5"/>
<line x1="78.50" y1="551.20" x2="77.60" y2="560.30" stroke="#000" stroke-width="0.5"/>
<line x1="85.50" y1="551.20" x2="86.40" y2="560.30" stroke="#000" stroke-width="0.5"/>
<line x1="98.40" y1="551.20" x2="99.30" y2="560.30" stroke="#000" stroke-width="0.5"/>
<line x1="132.30" y1="551.20" x2="130.40" y2="560.30" stroke="#000" stroke-width="0.5"/>
<line x1="172.60" y1="551.20" x2="207.40" y2="560.30" stroke="#000" stroke-width="1"/>
<line x1="74.80" y1="551.20" x2="74.80" y2="560.30" stroke="#000" stroke-width="0.5"/>
<text x="47.3" y="547" font-size="10" text-anchor="start">Est</text>
<text x="47.3" y="574" font-size="10" text-anchor="start">Obs</text>
<text x="140.5" y="589.5" font-size="10" text-anchor="middle">Rainfall accumulation by amount</text>
<rect x="277.50" y="478.50" width="124.00" height="95.00" fill="none" stroke="#000" stroke-width="1"/>
<line x1="339.50" y1="478.50" x2="339.50" y2="573.50" stroke="#000" stroke-width="1"/>
<line x1="277.50" y1="526.50" x2="401.50" y2="526.50" stroke="#000" stroke-width="1"/>
<text x="339" y="454.4" font-size="10" text-anchor="middle">IMERG_NRT</text>
<text x="308.3" y="470" font-size="10" text-anchor="middle">&lt;1</text>
<text x="369.8" y="470" font-size="10" text-anchor="middle">≥1</text>
<text x="245.0" y="520.5" font-size="10" text-anchor="middle" transform="rotate(-90 245.0 520.5)">ANALYSIS</text>
<text x="260.3" y="506" font-size="10" text-anchor="middle">&lt;1</text>
<text x="260.3" y="553" font-size="10" text-anchor="middle">≥1</text>
<text x="308.5" y="506" font-size="10" text-anchor="middle">1238</text>
<text x="370" y="506" font-size="10" text-anchor="middle">96</text>
<text x="308.5" y="553" font-size="10" text-anchor="middle">320</text>
<text x="370" y="553" font-size="10" text-anchor="middle">1403</text>
<text x="460.2" y="453.7" font-size="10" text-anchor="start" xml:space="preserve" textLength="385.6" lengthAdjust="spacingAndGlyphs">Validation statistics for 20260402  n=3057 Valid. grid=0.25° Units=mm/day.</text>
<line x1="457.40" y1="457.40" x2="996.70" y2="457.40" stroke="#000" stroke-width="0.9" stroke-dasharray="3.7 1.6"/>
<text x="632.5" y="474.8" font-size="10" text-anchor="middle">ANALYSIS</text>
<text x="714" y="474.8" font-size="10" text-anchor="middle">IMERG_NRT</text>
<line x1="457.40" y1="480.20" x2="758.30" y2="480.20" stroke="#000" stroke-width="0.9" stroke-dasharray="3.7 1.6"/>
<text x="460.2" y="498.8" font-size="10" text-anchor="start">Num of gridpoints raining</text>
<text x="648.7" y="498.8" font-size="10" text-anchor="end">1723</text>
<text x="729.5" y="498.8" font-size="10" text-anchor="end">1499</text>
<text x="460.2" y="518.7" font-size="10" text-anchor="start">Average rain</text>
<text x="648.7" y="518.7" font-size="10" text-anchor="end">7.1</text>
<text x="729.5" y="518.7" font-size="10" text-anchor="end">5.3</text>
<text x="460.2" y="538.6" font-size="10" text-anchor="start">Conditional rain</text>
<text x="648.7" y="538.6" font-size="10" text-anchor="end">12.6</text>
<text x="729.5" y="538.6" font-size="10" text-anchor="end">10.7</text>
<text x="461.3" y="559.0" font-size="10">Rain volume (mm km<tspan font-size="7" dy="-3.8">2</tspan><tspan dy="3.8">10</tspan><tspan font-size="7" dy="-3.8">6</tspan><tspan dy="3.8">)</tspan></text>
<text x="648.7" y="558.4" font-size="10" text-anchor="end">13.7</text>
<text x="729.5" y="558.4" font-size="10" text-anchor="end">10.1</text>
<text x="460.2" y="577.8" font-size="10" text-anchor="start">Maximum rain</text>
<text x="648.7" y="577.8" font-size="10" text-anchor="end">56.5</text>
<text x="729.5" y="577.8" font-size="10" text-anchor="end">37.9</text>
<text x="784.3" y="471.6" font-size="10" text-anchor="start" xml:space="preserve">Mean abs error =    3.0</text>
<text x="784.3" y="488.6" font-size="10" text-anchor="start" xml:space="preserve">RMS error =    5.5</text>
<text x="784.3" y="505.6" font-size="10" text-anchor="start" xml:space="preserve">Correlation coeff =  0.861</text>
<text x="784.3" y="522.6" font-size="10" text-anchor="start" xml:space="preserve">Frequency bias =  0.870</text>
<text x="784.3" y="539.6" font-size="10" text-anchor="start" xml:space="preserve">Probability of detection =  0.814</text>
<text x="784.3" y="556.6" font-size="10" text-anchor="start" xml:space="preserve">False alarm ratio =  0.064</text>
<text x="784.3" y="573.6" font-size="10" text-anchor="start" xml:space="preserve">Hanssen &amp; Kuipers score =  0.742</text>
<text x="784.3" y="590.6" font-size="10" text-anchor="start" xml:space="preserve">Equitable threat score =  0.573</text>
</svg>
</body></html>
